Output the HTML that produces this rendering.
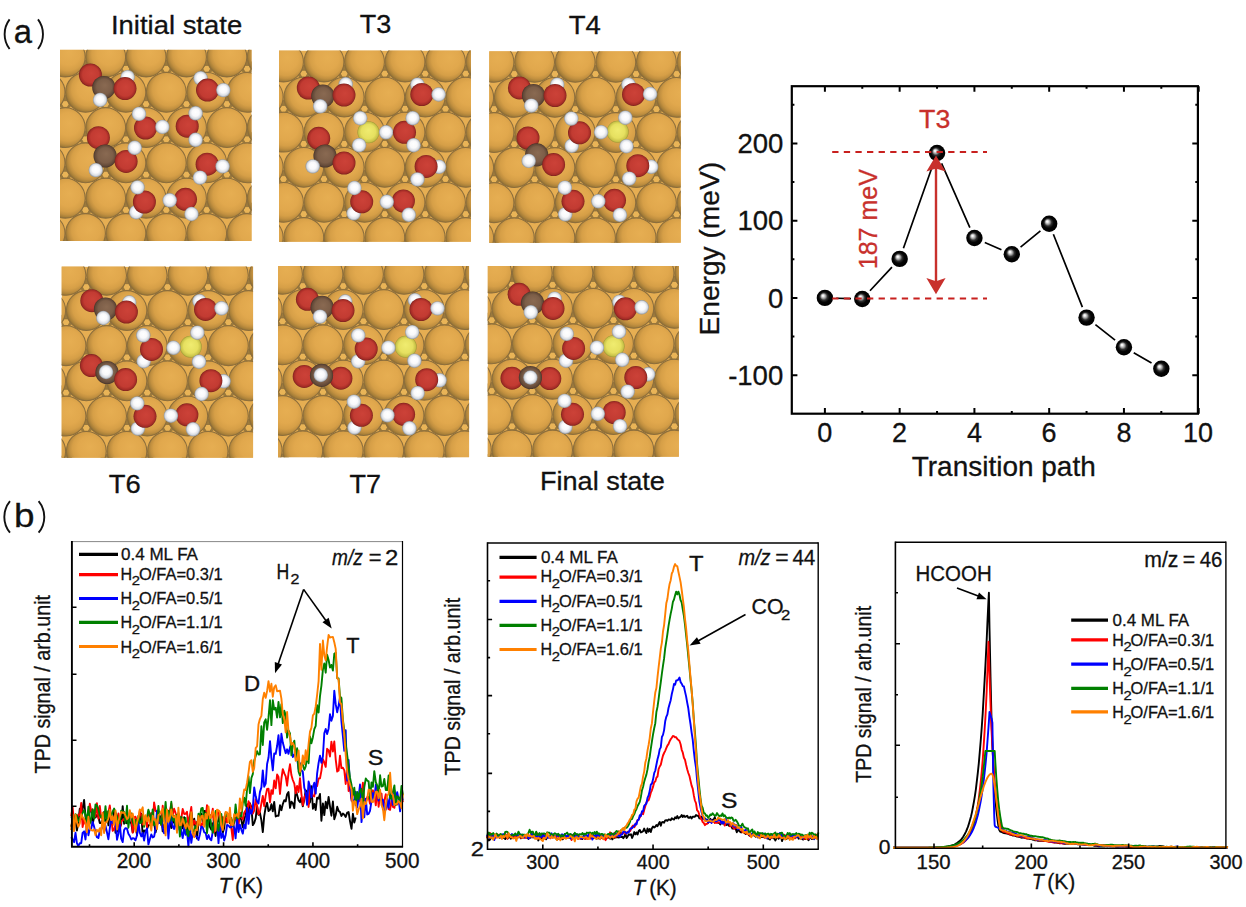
<!DOCTYPE html><html><head><meta charset="utf-8"><style>html,body{margin:0;padding:0;background:#fff;overflow:hidden}svg{display:block}text{font-family:"Liberation Sans",sans-serif}</style></head><body>
<svg width="1246" height="907" viewBox="0 0 1246 907">
<defs>
<radialGradient id="gAu" cx="0.56" cy="0.44" r="0.58" fx="0.6" fy="0.38"><stop offset="0" stop-color="#E6AE52"/><stop offset="0.5" stop-color="#E1A84D"/><stop offset="0.72" stop-color="#D69F47"/><stop offset="0.84" stop-color="#C29040"/><stop offset="0.93" stop-color="#A88039"/><stop offset="1" stop-color="#8E6C33"/></radialGradient>
<radialGradient id="gO" cx="0.5" cy="0.5" r="0.5" fx="0.55" fy="0.42"><stop offset="0" stop-color="#CC4238"/><stop offset="0.7" stop-color="#C23B32"/><stop offset="0.9" stop-color="#A52C26"/><stop offset="1" stop-color="#7A221E"/></radialGradient>
<radialGradient id="gC" cx="0.5" cy="0.5" r="0.5" fx="0.55" fy="0.4"><stop offset="0" stop-color="#8A6A52"/><stop offset="0.65" stop-color="#7C5E48"/><stop offset="0.9" stop-color="#614837"/><stop offset="1" stop-color="#45332A"/></radialGradient>
<radialGradient id="gH" cx="0.5" cy="0.5" r="0.5" fx="0.5" fy="0.4"><stop offset="0" stop-color="#FFFFFF"/><stop offset="0.5" stop-color="#F9F9FB"/><stop offset="0.8" stop-color="#D8DCE2"/><stop offset="1" stop-color="#8E949C"/></radialGradient>
<radialGradient id="gY" cx="0.5" cy="0.5" r="0.5" fx="0.5" fy="0.4"><stop offset="0" stop-color="#F0EC70"/><stop offset="0.65" stop-color="#E6E060"/><stop offset="0.9" stop-color="#C8C248"/><stop offset="1" stop-color="#9C9634"/></radialGradient>
<radialGradient id="gBall" cx="0.5" cy="0.5" r="0.5" fx="0.37" fy="0.35"><stop offset="0" stop-color="#FFFFFF"/><stop offset="0.1" stop-color="#F4F4F4"/><stop offset="0.28" stop-color="#A0A0A0"/><stop offset="0.45" stop-color="#303030"/><stop offset="0.65" stop-color="#050505"/><stop offset="1" stop-color="#000"/></radialGradient>
</defs>
<clipPath id="clip_init"><rect x="60" y="49.8" width="191.6" height="191.2"/></clipPath>
<g clip-path="url(#clip_init)">
<rect x="60" y="49.8" width="191.6" height="191.2" fill="#E6AE52"/>
<circle cx="85.5" cy="66.8" r="7" fill="#9C7A3C"/>
<circle cx="125.9" cy="66.8" r="7" fill="#9C7A3C"/>
<circle cx="166.3" cy="66.8" r="7" fill="#9C7A3C"/>
<circle cx="206.7" cy="66.8" r="7" fill="#9C7A3C"/>
<circle cx="247.1" cy="66.8" r="7" fill="#9C7A3C"/>
<circle cx="65.3" cy="102.1" r="7" fill="#9C7A3C"/>
<circle cx="105.7" cy="102.1" r="7" fill="#9C7A3C"/>
<circle cx="146.1" cy="102.1" r="7" fill="#9C7A3C"/>
<circle cx="186.5" cy="102.1" r="7" fill="#9C7A3C"/>
<circle cx="226.9" cy="102.1" r="7" fill="#9C7A3C"/>
<circle cx="85.5" cy="137.4" r="7" fill="#9C7A3C"/>
<circle cx="125.9" cy="137.4" r="7" fill="#9C7A3C"/>
<circle cx="166.3" cy="137.4" r="7" fill="#9C7A3C"/>
<circle cx="206.7" cy="137.4" r="7" fill="#9C7A3C"/>
<circle cx="247.1" cy="137.4" r="7" fill="#9C7A3C"/>
<circle cx="65.3" cy="172.7" r="7" fill="#9C7A3C"/>
<circle cx="105.7" cy="172.7" r="7" fill="#9C7A3C"/>
<circle cx="146.1" cy="172.7" r="7" fill="#9C7A3C"/>
<circle cx="186.5" cy="172.7" r="7" fill="#9C7A3C"/>
<circle cx="226.9" cy="172.7" r="7" fill="#9C7A3C"/>
<circle cx="85.5" cy="208.0" r="7" fill="#9C7A3C"/>
<circle cx="125.9" cy="208.0" r="7" fill="#9C7A3C"/>
<circle cx="166.3" cy="208.0" r="7" fill="#9C7A3C"/>
<circle cx="206.7" cy="208.0" r="7" fill="#9C7A3C"/>
<circle cx="247.1" cy="208.0" r="7" fill="#9C7A3C"/>
<circle cx="65.3" cy="243.3" r="7" fill="#9C7A3C"/>
<circle cx="105.7" cy="243.3" r="7" fill="#9C7A3C"/>
<circle cx="146.1" cy="243.3" r="7" fill="#9C7A3C"/>
<circle cx="186.5" cy="243.3" r="7" fill="#9C7A3C"/>
<circle cx="226.9" cy="243.3" r="7" fill="#9C7A3C"/>
<polygon points="89.4,68.8 87.5,72.1 83.5,72.1 81.6,68.8 83.5,65.4 87.5,65.4" fill="#E9B457" stroke="#8A6B36" stroke-width="0.7"/>
<polygon points="129.8,68.8 127.9,72.1 124.0,72.1 122.0,68.8 124.0,65.4 127.9,65.4" fill="#E9B457" stroke="#8A6B36" stroke-width="0.7"/>
<polygon points="170.2,68.8 168.2,72.1 164.4,72.1 162.4,68.8 164.4,65.4 168.2,65.4" fill="#E9B457" stroke="#8A6B36" stroke-width="0.7"/>
<polygon points="210.6,68.8 208.6,72.1 204.8,72.1 202.8,68.8 204.8,65.4 208.6,65.4" fill="#E9B457" stroke="#8A6B36" stroke-width="0.7"/>
<polygon points="251.0,68.8 249.0,72.1 245.2,72.1 243.2,68.8 245.2,65.4 249.0,65.4" fill="#E9B457" stroke="#8A6B36" stroke-width="0.7"/>
<polygon points="69.2,104.1 67.2,107.4 63.4,107.4 61.4,104.1 63.3,100.7 67.2,100.7" fill="#E9B457" stroke="#8A6B36" stroke-width="0.7"/>
<polygon points="109.6,104.1 107.6,107.4 103.7,107.4 101.8,104.1 103.7,100.7 107.6,100.7" fill="#E9B457" stroke="#8A6B36" stroke-width="0.7"/>
<polygon points="150.0,104.1 148.0,107.4 144.2,107.4 142.2,104.1 144.2,100.7 148.0,100.7" fill="#E9B457" stroke="#8A6B36" stroke-width="0.7"/>
<polygon points="190.4,104.1 188.4,107.4 184.6,107.4 182.6,104.1 184.6,100.7 188.4,100.7" fill="#E9B457" stroke="#8A6B36" stroke-width="0.7"/>
<polygon points="230.8,104.1 228.8,107.4 224.9,107.4 223.0,104.1 224.9,100.7 228.8,100.7" fill="#E9B457" stroke="#8A6B36" stroke-width="0.7"/>
<polygon points="89.4,139.4 87.5,142.7 83.5,142.7 81.6,139.4 83.5,136.0 87.5,136.0" fill="#E9B457" stroke="#8A6B36" stroke-width="0.7"/>
<polygon points="129.8,139.4 127.9,142.7 124.0,142.7 122.0,139.4 124.0,136.0 127.9,136.0" fill="#E9B457" stroke="#8A6B36" stroke-width="0.7"/>
<polygon points="170.2,139.4 168.2,142.7 164.4,142.7 162.4,139.4 164.4,136.0 168.2,136.0" fill="#E9B457" stroke="#8A6B36" stroke-width="0.7"/>
<polygon points="210.6,139.4 208.6,142.7 204.8,142.7 202.8,139.4 204.8,136.0 208.6,136.0" fill="#E9B457" stroke="#8A6B36" stroke-width="0.7"/>
<polygon points="251.0,139.4 249.0,142.7 245.2,142.7 243.2,139.4 245.2,136.0 249.0,136.0" fill="#E9B457" stroke="#8A6B36" stroke-width="0.7"/>
<polygon points="69.2,174.7 67.2,178.0 63.4,178.0 61.4,174.7 63.3,171.3 67.2,171.3" fill="#E9B457" stroke="#8A6B36" stroke-width="0.7"/>
<polygon points="109.6,174.7 107.6,178.0 103.7,178.0 101.8,174.7 103.7,171.3 107.6,171.3" fill="#E9B457" stroke="#8A6B36" stroke-width="0.7"/>
<polygon points="150.0,174.7 148.0,178.0 144.2,178.0 142.2,174.7 144.2,171.3 148.0,171.3" fill="#E9B457" stroke="#8A6B36" stroke-width="0.7"/>
<polygon points="190.4,174.7 188.4,178.0 184.6,178.0 182.6,174.7 184.6,171.3 188.4,171.3" fill="#E9B457" stroke="#8A6B36" stroke-width="0.7"/>
<polygon points="230.8,174.7 228.8,178.0 224.9,178.0 223.0,174.7 224.9,171.3 228.8,171.3" fill="#E9B457" stroke="#8A6B36" stroke-width="0.7"/>
<polygon points="89.4,210.0 87.5,213.3 83.5,213.3 81.6,210.0 83.5,206.6 87.5,206.6" fill="#E9B457" stroke="#8A6B36" stroke-width="0.7"/>
<polygon points="129.8,210.0 127.9,213.3 124.0,213.3 122.0,210.0 124.0,206.6 127.9,206.6" fill="#E9B457" stroke="#8A6B36" stroke-width="0.7"/>
<polygon points="170.2,210.0 168.2,213.3 164.4,213.3 162.4,210.0 164.4,206.6 168.2,206.6" fill="#E9B457" stroke="#8A6B36" stroke-width="0.7"/>
<polygon points="210.6,210.0 208.6,213.3 204.8,213.3 202.8,210.0 204.8,206.6 208.6,206.6" fill="#E9B457" stroke="#8A6B36" stroke-width="0.7"/>
<polygon points="251.0,210.0 249.0,213.3 245.2,213.3 243.2,210.0 245.2,206.6 249.0,206.6" fill="#E9B457" stroke="#8A6B36" stroke-width="0.7"/>
<polygon points="69.2,245.3 67.2,248.6 63.4,248.6 61.4,245.3 63.3,241.9 67.2,241.9" fill="#E9B457" stroke="#8A6B36" stroke-width="0.7"/>
<polygon points="109.6,245.3 107.6,248.6 103.7,248.6 101.8,245.3 103.7,241.9 107.6,241.9" fill="#E9B457" stroke="#8A6B36" stroke-width="0.7"/>
<polygon points="150.0,245.3 148.0,248.6 144.2,248.6 142.2,245.3 144.2,241.9 148.0,241.9" fill="#E9B457" stroke="#8A6B36" stroke-width="0.7"/>
<polygon points="190.4,245.3 188.4,248.6 184.6,248.6 182.6,245.3 184.6,241.9 188.4,241.9" fill="#E9B457" stroke="#8A6B36" stroke-width="0.7"/>
<polygon points="230.8,245.3 228.8,248.6 224.9,248.6 223.0,245.3 224.9,241.9 228.8,241.9" fill="#E9B457" stroke="#8A6B36" stroke-width="0.7"/>
<circle cx="65.3" cy="57.0" r="19.9" fill="url(#gAu)" stroke="#8C6E3C" stroke-width="1.05"/>
<circle cx="105.7" cy="57.0" r="19.9" fill="url(#gAu)" stroke="#8C6E3C" stroke-width="1.05"/>
<circle cx="146.1" cy="57.0" r="19.9" fill="url(#gAu)" stroke="#8C6E3C" stroke-width="1.05"/>
<circle cx="186.5" cy="57.0" r="19.9" fill="url(#gAu)" stroke="#8C6E3C" stroke-width="1.05"/>
<circle cx="226.9" cy="57.0" r="19.9" fill="url(#gAu)" stroke="#8C6E3C" stroke-width="1.05"/>
<circle cx="267.3" cy="57.0" r="19.9" fill="url(#gAu)" stroke="#8C6E3C" stroke-width="1.05"/>
<circle cx="45.1" cy="92.3" r="19.9" fill="url(#gAu)" stroke="#8C6E3C" stroke-width="1.05"/>
<circle cx="85.5" cy="92.3" r="19.9" fill="url(#gAu)" stroke="#8C6E3C" stroke-width="1.05"/>
<circle cx="125.9" cy="92.3" r="19.9" fill="url(#gAu)" stroke="#8C6E3C" stroke-width="1.05"/>
<circle cx="166.3" cy="92.3" r="19.9" fill="url(#gAu)" stroke="#8C6E3C" stroke-width="1.05"/>
<circle cx="206.7" cy="92.3" r="19.9" fill="url(#gAu)" stroke="#8C6E3C" stroke-width="1.05"/>
<circle cx="247.1" cy="92.3" r="19.9" fill="url(#gAu)" stroke="#8C6E3C" stroke-width="1.05"/>
<circle cx="65.3" cy="127.6" r="19.9" fill="url(#gAu)" stroke="#8C6E3C" stroke-width="1.05"/>
<circle cx="105.7" cy="127.6" r="19.9" fill="url(#gAu)" stroke="#8C6E3C" stroke-width="1.05"/>
<circle cx="146.1" cy="127.6" r="19.9" fill="url(#gAu)" stroke="#8C6E3C" stroke-width="1.05"/>
<circle cx="186.5" cy="127.6" r="19.9" fill="url(#gAu)" stroke="#8C6E3C" stroke-width="1.05"/>
<circle cx="226.9" cy="127.6" r="19.9" fill="url(#gAu)" stroke="#8C6E3C" stroke-width="1.05"/>
<circle cx="267.3" cy="127.6" r="19.9" fill="url(#gAu)" stroke="#8C6E3C" stroke-width="1.05"/>
<circle cx="45.1" cy="162.9" r="19.9" fill="url(#gAu)" stroke="#8C6E3C" stroke-width="1.05"/>
<circle cx="85.5" cy="162.9" r="19.9" fill="url(#gAu)" stroke="#8C6E3C" stroke-width="1.05"/>
<circle cx="125.9" cy="162.9" r="19.9" fill="url(#gAu)" stroke="#8C6E3C" stroke-width="1.05"/>
<circle cx="166.3" cy="162.9" r="19.9" fill="url(#gAu)" stroke="#8C6E3C" stroke-width="1.05"/>
<circle cx="206.7" cy="162.9" r="19.9" fill="url(#gAu)" stroke="#8C6E3C" stroke-width="1.05"/>
<circle cx="247.1" cy="162.9" r="19.9" fill="url(#gAu)" stroke="#8C6E3C" stroke-width="1.05"/>
<circle cx="65.3" cy="198.2" r="19.9" fill="url(#gAu)" stroke="#8C6E3C" stroke-width="1.05"/>
<circle cx="105.7" cy="198.2" r="19.9" fill="url(#gAu)" stroke="#8C6E3C" stroke-width="1.05"/>
<circle cx="146.1" cy="198.2" r="19.9" fill="url(#gAu)" stroke="#8C6E3C" stroke-width="1.05"/>
<circle cx="186.5" cy="198.2" r="19.9" fill="url(#gAu)" stroke="#8C6E3C" stroke-width="1.05"/>
<circle cx="226.9" cy="198.2" r="19.9" fill="url(#gAu)" stroke="#8C6E3C" stroke-width="1.05"/>
<circle cx="267.3" cy="198.2" r="19.9" fill="url(#gAu)" stroke="#8C6E3C" stroke-width="1.05"/>
<circle cx="45.1" cy="233.5" r="19.9" fill="url(#gAu)" stroke="#8C6E3C" stroke-width="1.05"/>
<circle cx="85.5" cy="233.5" r="19.9" fill="url(#gAu)" stroke="#8C6E3C" stroke-width="1.05"/>
<circle cx="125.9" cy="233.5" r="19.9" fill="url(#gAu)" stroke="#8C6E3C" stroke-width="1.05"/>
<circle cx="166.3" cy="233.5" r="19.9" fill="url(#gAu)" stroke="#8C6E3C" stroke-width="1.05"/>
<circle cx="206.7" cy="233.5" r="19.9" fill="url(#gAu)" stroke="#8C6E3C" stroke-width="1.05"/>
<circle cx="247.1" cy="233.5" r="19.9" fill="url(#gAu)" stroke="#8C6E3C" stroke-width="1.05"/>
<circle cx="127.6" cy="77.2" r="7.2" fill="url(#gH)"/>
<circle cx="90.4" cy="75.0" r="11.5" fill="url(#gO)"/>
<circle cx="103.8" cy="87.5" r="11.6" fill="url(#gC)"/>
<circle cx="125.0" cy="88.6" r="11.5" fill="url(#gO)"/>
<circle cx="100.1" cy="99.9" r="7.2" fill="url(#gH)"/>
<circle cx="200.6" cy="78.3" r="7.2" fill="url(#gH)"/>
<circle cx="207.5" cy="90.1" r="11.5" fill="url(#gO)"/>
<circle cx="223.3" cy="90.1" r="7.2" fill="url(#gH)"/>
<circle cx="145.5" cy="128.0" r="11.5" fill="url(#gO)"/>
<circle cx="139.0" cy="113.9" r="7.2" fill="url(#gH)"/>
<circle cx="162.4" cy="126.9" r="7.2" fill="url(#gH)"/>
<circle cx="187.2" cy="126.2" r="11.5" fill="url(#gO)"/>
<circle cx="195.6" cy="113.3" r="7.2" fill="url(#gH)"/>
<circle cx="195.6" cy="139.8" r="7.2" fill="url(#gH)"/>
<circle cx="98.4" cy="137.7" r="11.5" fill="url(#gO)"/>
<circle cx="105.1" cy="156.0" r="11.6" fill="url(#gC)"/>
<circle cx="126.1" cy="161.4" r="11.5" fill="url(#gO)"/>
<circle cx="95.8" cy="170.1" r="7.2" fill="url(#gH)"/>
<circle cx="134.7" cy="147.8" r="7.2" fill="url(#gH)"/>
<circle cx="207.1" cy="164.2" r="11.5" fill="url(#gO)"/>
<circle cx="222.6" cy="166.4" r="7.2" fill="url(#gH)"/>
<circle cx="200.0" cy="177.6" r="7.2" fill="url(#gH)"/>
<circle cx="136.2" cy="212.2" r="7.2" fill="url(#gH)"/>
<circle cx="144.4" cy="202.0" r="11.5" fill="url(#gO)"/>
<circle cx="137.5" cy="187.4" r="7.2" fill="url(#gH)"/>
<circle cx="185.5" cy="199.3" r="11.5" fill="url(#gO)"/>
<circle cx="169.7" cy="200.3" r="7.2" fill="url(#gH)"/>
<circle cx="191.5" cy="214.0" r="7.2" fill="url(#gH)"/>
</g>
<clipPath id="clip_t3"><rect x="279.0" y="50.5" width="192.0" height="191.3"/></clipPath>
<g clip-path="url(#clip_t3)">
<rect x="279.0" y="50.5" width="192.0" height="191.3" fill="#E6AE52"/>
<circle cx="303.8" cy="71.7" r="7" fill="#9C7A3C"/>
<circle cx="344.2" cy="71.7" r="7" fill="#9C7A3C"/>
<circle cx="384.8" cy="71.7" r="7" fill="#9C7A3C"/>
<circle cx="425.2" cy="71.7" r="7" fill="#9C7A3C"/>
<circle cx="465.8" cy="71.7" r="7" fill="#9C7A3C"/>
<circle cx="283.5" cy="106.8" r="7" fill="#9C7A3C"/>
<circle cx="324.0" cy="106.8" r="7" fill="#9C7A3C"/>
<circle cx="364.5" cy="106.8" r="7" fill="#9C7A3C"/>
<circle cx="405.0" cy="106.8" r="7" fill="#9C7A3C"/>
<circle cx="445.5" cy="106.8" r="7" fill="#9C7A3C"/>
<circle cx="303.8" cy="141.9" r="7" fill="#9C7A3C"/>
<circle cx="344.2" cy="141.9" r="7" fill="#9C7A3C"/>
<circle cx="384.8" cy="141.9" r="7" fill="#9C7A3C"/>
<circle cx="425.2" cy="141.9" r="7" fill="#9C7A3C"/>
<circle cx="465.8" cy="141.9" r="7" fill="#9C7A3C"/>
<circle cx="283.5" cy="177.0" r="7" fill="#9C7A3C"/>
<circle cx="324.0" cy="177.0" r="7" fill="#9C7A3C"/>
<circle cx="364.5" cy="177.0" r="7" fill="#9C7A3C"/>
<circle cx="405.0" cy="177.0" r="7" fill="#9C7A3C"/>
<circle cx="445.5" cy="177.0" r="7" fill="#9C7A3C"/>
<circle cx="303.8" cy="212.1" r="7" fill="#9C7A3C"/>
<circle cx="344.2" cy="212.1" r="7" fill="#9C7A3C"/>
<circle cx="384.8" cy="212.1" r="7" fill="#9C7A3C"/>
<circle cx="425.2" cy="212.1" r="7" fill="#9C7A3C"/>
<circle cx="465.8" cy="212.1" r="7" fill="#9C7A3C"/>
<circle cx="283.5" cy="247.2" r="7" fill="#9C7A3C"/>
<circle cx="324.0" cy="247.2" r="7" fill="#9C7A3C"/>
<circle cx="364.5" cy="247.2" r="7" fill="#9C7A3C"/>
<circle cx="405.0" cy="247.2" r="7" fill="#9C7A3C"/>
<circle cx="445.5" cy="247.2" r="7" fill="#9C7A3C"/>
<polygon points="307.6,73.7 305.7,77.1 301.8,77.1 299.9,73.7 301.8,70.3 305.7,70.3" fill="#E9B457" stroke="#8A6B36" stroke-width="0.7"/>
<polygon points="348.1,73.7 346.2,77.1 342.3,77.1 340.4,73.7 342.3,70.3 346.2,70.3" fill="#E9B457" stroke="#8A6B36" stroke-width="0.7"/>
<polygon points="388.6,73.7 386.7,77.1 382.8,77.1 380.9,73.7 382.8,70.3 386.7,70.3" fill="#E9B457" stroke="#8A6B36" stroke-width="0.7"/>
<polygon points="429.1,73.7 427.2,77.1 423.3,77.1 421.4,73.7 423.3,70.3 427.2,70.3" fill="#E9B457" stroke="#8A6B36" stroke-width="0.7"/>
<polygon points="469.6,73.7 467.7,77.1 463.8,77.1 461.9,73.7 463.8,70.3 467.7,70.3" fill="#E9B457" stroke="#8A6B36" stroke-width="0.7"/>
<polygon points="287.4,108.8 285.4,112.2 281.6,112.2 279.6,108.8 281.6,105.4 285.4,105.4" fill="#E9B457" stroke="#8A6B36" stroke-width="0.7"/>
<polygon points="327.9,108.8 325.9,112.2 322.1,112.2 320.1,108.8 322.1,105.4 325.9,105.4" fill="#E9B457" stroke="#8A6B36" stroke-width="0.7"/>
<polygon points="368.4,108.8 366.4,112.2 362.6,112.2 360.6,108.8 362.6,105.4 366.4,105.4" fill="#E9B457" stroke="#8A6B36" stroke-width="0.7"/>
<polygon points="408.9,108.8 406.9,112.2 403.1,112.2 401.1,108.8 403.1,105.4 406.9,105.4" fill="#E9B457" stroke="#8A6B36" stroke-width="0.7"/>
<polygon points="449.4,108.8 447.4,112.2 443.6,112.2 441.6,108.8 443.6,105.4 447.4,105.4" fill="#E9B457" stroke="#8A6B36" stroke-width="0.7"/>
<polygon points="307.6,143.9 305.7,147.3 301.8,147.3 299.9,143.9 301.8,140.5 305.7,140.5" fill="#E9B457" stroke="#8A6B36" stroke-width="0.7"/>
<polygon points="348.1,143.9 346.2,147.3 342.3,147.3 340.4,143.9 342.3,140.5 346.2,140.5" fill="#E9B457" stroke="#8A6B36" stroke-width="0.7"/>
<polygon points="388.6,143.9 386.7,147.3 382.8,147.3 380.9,143.9 382.8,140.5 386.7,140.5" fill="#E9B457" stroke="#8A6B36" stroke-width="0.7"/>
<polygon points="429.1,143.9 427.2,147.3 423.3,147.3 421.4,143.9 423.3,140.5 427.2,140.5" fill="#E9B457" stroke="#8A6B36" stroke-width="0.7"/>
<polygon points="469.6,143.9 467.7,147.3 463.8,147.3 461.9,143.9 463.8,140.5 467.7,140.5" fill="#E9B457" stroke="#8A6B36" stroke-width="0.7"/>
<polygon points="287.4,179.0 285.4,182.4 281.6,182.4 279.6,179.0 281.6,175.6 285.4,175.6" fill="#E9B457" stroke="#8A6B36" stroke-width="0.7"/>
<polygon points="327.9,179.0 325.9,182.4 322.1,182.4 320.1,179.0 322.1,175.6 325.9,175.6" fill="#E9B457" stroke="#8A6B36" stroke-width="0.7"/>
<polygon points="368.4,179.0 366.4,182.4 362.6,182.4 360.6,179.0 362.6,175.6 366.4,175.6" fill="#E9B457" stroke="#8A6B36" stroke-width="0.7"/>
<polygon points="408.9,179.0 406.9,182.4 403.1,182.4 401.1,179.0 403.1,175.6 406.9,175.6" fill="#E9B457" stroke="#8A6B36" stroke-width="0.7"/>
<polygon points="449.4,179.0 447.4,182.4 443.6,182.4 441.6,179.0 443.6,175.6 447.4,175.6" fill="#E9B457" stroke="#8A6B36" stroke-width="0.7"/>
<polygon points="307.6,214.1 305.7,217.5 301.8,217.5 299.9,214.1 301.8,210.7 305.7,210.7" fill="#E9B457" stroke="#8A6B36" stroke-width="0.7"/>
<polygon points="348.1,214.1 346.2,217.5 342.3,217.5 340.4,214.1 342.3,210.7 346.2,210.7" fill="#E9B457" stroke="#8A6B36" stroke-width="0.7"/>
<polygon points="388.6,214.1 386.7,217.5 382.8,217.5 380.9,214.1 382.8,210.7 386.7,210.7" fill="#E9B457" stroke="#8A6B36" stroke-width="0.7"/>
<polygon points="429.1,214.1 427.2,217.5 423.3,217.5 421.4,214.1 423.3,210.7 427.2,210.7" fill="#E9B457" stroke="#8A6B36" stroke-width="0.7"/>
<polygon points="469.6,214.1 467.7,217.5 463.8,217.5 461.9,214.1 463.8,210.7 467.7,210.7" fill="#E9B457" stroke="#8A6B36" stroke-width="0.7"/>
<polygon points="287.4,249.2 285.4,252.6 281.6,252.6 279.6,249.2 281.6,245.8 285.4,245.8" fill="#E9B457" stroke="#8A6B36" stroke-width="0.7"/>
<polygon points="327.9,249.2 325.9,252.6 322.1,252.6 320.1,249.2 322.1,245.8 325.9,245.8" fill="#E9B457" stroke="#8A6B36" stroke-width="0.7"/>
<polygon points="368.4,249.2 366.4,252.6 362.6,252.6 360.6,249.2 362.6,245.8 366.4,245.8" fill="#E9B457" stroke="#8A6B36" stroke-width="0.7"/>
<polygon points="408.9,249.2 406.9,252.6 403.1,252.6 401.1,249.2 403.1,245.8 406.9,245.8" fill="#E9B457" stroke="#8A6B36" stroke-width="0.7"/>
<polygon points="449.4,249.2 447.4,252.6 443.6,252.6 441.6,249.2 443.6,245.8 447.4,245.8" fill="#E9B457" stroke="#8A6B36" stroke-width="0.7"/>
<circle cx="263.2" cy="26.9" r="19.9" fill="url(#gAu)" stroke="#8C6E3C" stroke-width="1.05"/>
<circle cx="303.8" cy="26.9" r="19.9" fill="url(#gAu)" stroke="#8C6E3C" stroke-width="1.05"/>
<circle cx="344.2" cy="26.9" r="19.9" fill="url(#gAu)" stroke="#8C6E3C" stroke-width="1.05"/>
<circle cx="384.8" cy="26.9" r="19.9" fill="url(#gAu)" stroke="#8C6E3C" stroke-width="1.05"/>
<circle cx="425.2" cy="26.9" r="19.9" fill="url(#gAu)" stroke="#8C6E3C" stroke-width="1.05"/>
<circle cx="465.8" cy="26.9" r="19.9" fill="url(#gAu)" stroke="#8C6E3C" stroke-width="1.05"/>
<circle cx="283.5" cy="62.0" r="19.9" fill="url(#gAu)" stroke="#8C6E3C" stroke-width="1.05"/>
<circle cx="324.0" cy="62.0" r="19.9" fill="url(#gAu)" stroke="#8C6E3C" stroke-width="1.05"/>
<circle cx="364.5" cy="62.0" r="19.9" fill="url(#gAu)" stroke="#8C6E3C" stroke-width="1.05"/>
<circle cx="405.0" cy="62.0" r="19.9" fill="url(#gAu)" stroke="#8C6E3C" stroke-width="1.05"/>
<circle cx="445.5" cy="62.0" r="19.9" fill="url(#gAu)" stroke="#8C6E3C" stroke-width="1.05"/>
<circle cx="486.0" cy="62.0" r="19.9" fill="url(#gAu)" stroke="#8C6E3C" stroke-width="1.05"/>
<circle cx="263.2" cy="97.1" r="19.9" fill="url(#gAu)" stroke="#8C6E3C" stroke-width="1.05"/>
<circle cx="303.8" cy="97.1" r="19.9" fill="url(#gAu)" stroke="#8C6E3C" stroke-width="1.05"/>
<circle cx="344.2" cy="97.1" r="19.9" fill="url(#gAu)" stroke="#8C6E3C" stroke-width="1.05"/>
<circle cx="384.8" cy="97.1" r="19.9" fill="url(#gAu)" stroke="#8C6E3C" stroke-width="1.05"/>
<circle cx="425.2" cy="97.1" r="19.9" fill="url(#gAu)" stroke="#8C6E3C" stroke-width="1.05"/>
<circle cx="465.8" cy="97.1" r="19.9" fill="url(#gAu)" stroke="#8C6E3C" stroke-width="1.05"/>
<circle cx="283.5" cy="132.2" r="19.9" fill="url(#gAu)" stroke="#8C6E3C" stroke-width="1.05"/>
<circle cx="324.0" cy="132.2" r="19.9" fill="url(#gAu)" stroke="#8C6E3C" stroke-width="1.05"/>
<circle cx="364.5" cy="132.2" r="19.9" fill="url(#gAu)" stroke="#8C6E3C" stroke-width="1.05"/>
<circle cx="405.0" cy="132.2" r="19.9" fill="url(#gAu)" stroke="#8C6E3C" stroke-width="1.05"/>
<circle cx="445.5" cy="132.2" r="19.9" fill="url(#gAu)" stroke="#8C6E3C" stroke-width="1.05"/>
<circle cx="486.0" cy="132.2" r="19.9" fill="url(#gAu)" stroke="#8C6E3C" stroke-width="1.05"/>
<circle cx="263.2" cy="167.3" r="19.9" fill="url(#gAu)" stroke="#8C6E3C" stroke-width="1.05"/>
<circle cx="303.8" cy="167.3" r="19.9" fill="url(#gAu)" stroke="#8C6E3C" stroke-width="1.05"/>
<circle cx="344.2" cy="167.3" r="19.9" fill="url(#gAu)" stroke="#8C6E3C" stroke-width="1.05"/>
<circle cx="384.8" cy="167.3" r="19.9" fill="url(#gAu)" stroke="#8C6E3C" stroke-width="1.05"/>
<circle cx="425.2" cy="167.3" r="19.9" fill="url(#gAu)" stroke="#8C6E3C" stroke-width="1.05"/>
<circle cx="465.8" cy="167.3" r="19.9" fill="url(#gAu)" stroke="#8C6E3C" stroke-width="1.05"/>
<circle cx="283.5" cy="202.4" r="19.9" fill="url(#gAu)" stroke="#8C6E3C" stroke-width="1.05"/>
<circle cx="324.0" cy="202.4" r="19.9" fill="url(#gAu)" stroke="#8C6E3C" stroke-width="1.05"/>
<circle cx="364.5" cy="202.4" r="19.9" fill="url(#gAu)" stroke="#8C6E3C" stroke-width="1.05"/>
<circle cx="405.0" cy="202.4" r="19.9" fill="url(#gAu)" stroke="#8C6E3C" stroke-width="1.05"/>
<circle cx="445.5" cy="202.4" r="19.9" fill="url(#gAu)" stroke="#8C6E3C" stroke-width="1.05"/>
<circle cx="486.0" cy="202.4" r="19.9" fill="url(#gAu)" stroke="#8C6E3C" stroke-width="1.05"/>
<circle cx="263.2" cy="237.5" r="19.9" fill="url(#gAu)" stroke="#8C6E3C" stroke-width="1.05"/>
<circle cx="303.8" cy="237.5" r="19.9" fill="url(#gAu)" stroke="#8C6E3C" stroke-width="1.05"/>
<circle cx="344.2" cy="237.5" r="19.9" fill="url(#gAu)" stroke="#8C6E3C" stroke-width="1.05"/>
<circle cx="384.8" cy="237.5" r="19.9" fill="url(#gAu)" stroke="#8C6E3C" stroke-width="1.05"/>
<circle cx="425.2" cy="237.5" r="19.9" fill="url(#gAu)" stroke="#8C6E3C" stroke-width="1.05"/>
<circle cx="465.8" cy="237.5" r="19.9" fill="url(#gAu)" stroke="#8C6E3C" stroke-width="1.05"/>
<circle cx="345.7" cy="84.3" r="7.2" fill="url(#gH)"/>
<circle cx="308.3" cy="88.0" r="11.5" fill="url(#gO)"/>
<circle cx="322.8" cy="96.0" r="11.6" fill="url(#gC)"/>
<circle cx="344.0" cy="95.1" r="11.5" fill="url(#gO)"/>
<circle cx="320.2" cy="106.3" r="7.2" fill="url(#gH)"/>
<circle cx="417.4" cy="84.7" r="7.2" fill="url(#gH)"/>
<circle cx="421.8" cy="94.5" r="11.5" fill="url(#gO)"/>
<circle cx="438.6" cy="94.5" r="7.2" fill="url(#gH)"/>
<circle cx="368.4" cy="132.3" r="11.0" fill="url(#gY)"/>
<circle cx="360.2" cy="118.2" r="7.2" fill="url(#gH)"/>
<circle cx="359.1" cy="145.2" r="7.2" fill="url(#gH)"/>
<circle cx="386.1" cy="132.3" r="7.2" fill="url(#gH)"/>
<circle cx="404.5" cy="132.3" r="11.5" fill="url(#gO)"/>
<circle cx="412.7" cy="118.2" r="7.2" fill="url(#gH)"/>
<circle cx="413.6" cy="145.2" r="7.2" fill="url(#gH)"/>
<circle cx="318.7" cy="138.3" r="11.5" fill="url(#gO)"/>
<circle cx="325.0" cy="156.0" r="11.6" fill="url(#gC)"/>
<circle cx="344.0" cy="163.0" r="11.5" fill="url(#gO)"/>
<circle cx="312.7" cy="166.4" r="7.2" fill="url(#gH)"/>
<circle cx="439.0" cy="166.8" r="7.2" fill="url(#gH)"/>
<circle cx="426.1" cy="166.4" r="11.5" fill="url(#gO)"/>
<circle cx="417.4" cy="179.4" r="7.2" fill="url(#gH)"/>
<circle cx="353.7" cy="213.3" r="7.2" fill="url(#gH)"/>
<circle cx="361.7" cy="201.8" r="11.5" fill="url(#gO)"/>
<circle cx="354.4" cy="188.0" r="7.2" fill="url(#gH)"/>
<circle cx="403.4" cy="201.0" r="11.5" fill="url(#gO)"/>
<circle cx="386.8" cy="201.8" r="7.2" fill="url(#gH)"/>
<circle cx="408.8" cy="214.8" r="7.2" fill="url(#gH)"/>
</g>
<clipPath id="clip_t4"><rect x="489.2" y="51.3" width="191.6" height="191.5"/></clipPath>
<g clip-path="url(#clip_t4)">
<rect x="489.2" y="51.3" width="191.6" height="191.5" fill="#E6AE52"/>
<circle cx="514.3" cy="72.0" r="7" fill="#9C7A3C"/>
<circle cx="554.9" cy="72.0" r="7" fill="#9C7A3C"/>
<circle cx="595.5" cy="72.0" r="7" fill="#9C7A3C"/>
<circle cx="636.1" cy="72.0" r="7" fill="#9C7A3C"/>
<circle cx="676.7" cy="72.0" r="7" fill="#9C7A3C"/>
<circle cx="494.0" cy="107.1" r="7" fill="#9C7A3C"/>
<circle cx="534.6" cy="107.1" r="7" fill="#9C7A3C"/>
<circle cx="575.2" cy="107.1" r="7" fill="#9C7A3C"/>
<circle cx="615.8" cy="107.1" r="7" fill="#9C7A3C"/>
<circle cx="656.4" cy="107.1" r="7" fill="#9C7A3C"/>
<circle cx="514.3" cy="142.2" r="7" fill="#9C7A3C"/>
<circle cx="554.9" cy="142.2" r="7" fill="#9C7A3C"/>
<circle cx="595.5" cy="142.2" r="7" fill="#9C7A3C"/>
<circle cx="636.1" cy="142.2" r="7" fill="#9C7A3C"/>
<circle cx="676.7" cy="142.2" r="7" fill="#9C7A3C"/>
<circle cx="494.0" cy="177.3" r="7" fill="#9C7A3C"/>
<circle cx="534.6" cy="177.3" r="7" fill="#9C7A3C"/>
<circle cx="575.2" cy="177.3" r="7" fill="#9C7A3C"/>
<circle cx="615.8" cy="177.3" r="7" fill="#9C7A3C"/>
<circle cx="656.4" cy="177.3" r="7" fill="#9C7A3C"/>
<circle cx="514.3" cy="212.4" r="7" fill="#9C7A3C"/>
<circle cx="554.9" cy="212.4" r="7" fill="#9C7A3C"/>
<circle cx="595.5" cy="212.4" r="7" fill="#9C7A3C"/>
<circle cx="636.1" cy="212.4" r="7" fill="#9C7A3C"/>
<circle cx="676.7" cy="212.4" r="7" fill="#9C7A3C"/>
<circle cx="494.0" cy="247.5" r="7" fill="#9C7A3C"/>
<circle cx="534.6" cy="247.5" r="7" fill="#9C7A3C"/>
<circle cx="575.2" cy="247.5" r="7" fill="#9C7A3C"/>
<circle cx="615.8" cy="247.5" r="7" fill="#9C7A3C"/>
<circle cx="656.4" cy="247.5" r="7" fill="#9C7A3C"/>
<polygon points="518.2,74.0 516.2,77.4 512.3,77.4 510.4,74.0 512.3,70.6 516.2,70.6" fill="#E9B457" stroke="#8A6B36" stroke-width="0.7"/>
<polygon points="558.8,74.0 556.9,77.4 552.9,77.4 551.0,74.0 552.9,70.6 556.9,70.6" fill="#E9B457" stroke="#8A6B36" stroke-width="0.7"/>
<polygon points="599.4,74.0 597.5,77.4 593.5,77.4 591.6,74.0 593.5,70.6 597.5,70.6" fill="#E9B457" stroke="#8A6B36" stroke-width="0.7"/>
<polygon points="640.0,74.0 638.0,77.4 634.1,77.4 632.2,74.0 634.1,70.6 638.0,70.6" fill="#E9B457" stroke="#8A6B36" stroke-width="0.7"/>
<polygon points="680.6,74.0 678.6,77.4 674.7,77.4 672.8,74.0 674.7,70.6 678.6,70.6" fill="#E9B457" stroke="#8A6B36" stroke-width="0.7"/>
<polygon points="497.9,109.1 495.9,112.5 492.1,112.5 490.1,109.1 492.1,105.7 495.9,105.7" fill="#E9B457" stroke="#8A6B36" stroke-width="0.7"/>
<polygon points="538.5,109.1 536.6,112.5 532.6,112.5 530.7,109.1 532.6,105.7 536.6,105.7" fill="#E9B457" stroke="#8A6B36" stroke-width="0.7"/>
<polygon points="579.1,109.1 577.2,112.5 573.2,112.5 571.3,109.1 573.2,105.7 577.2,105.7" fill="#E9B457" stroke="#8A6B36" stroke-width="0.7"/>
<polygon points="619.7,109.1 617.8,112.5 613.8,112.5 611.9,109.1 613.8,105.7 617.8,105.7" fill="#E9B457" stroke="#8A6B36" stroke-width="0.7"/>
<polygon points="660.3,109.1 658.4,112.5 654.4,112.5 652.5,109.1 654.4,105.7 658.4,105.7" fill="#E9B457" stroke="#8A6B36" stroke-width="0.7"/>
<polygon points="518.2,144.2 516.2,147.6 512.3,147.6 510.4,144.2 512.3,140.8 516.2,140.8" fill="#E9B457" stroke="#8A6B36" stroke-width="0.7"/>
<polygon points="558.8,144.2 556.9,147.6 552.9,147.6 551.0,144.2 552.9,140.8 556.9,140.8" fill="#E9B457" stroke="#8A6B36" stroke-width="0.7"/>
<polygon points="599.4,144.2 597.5,147.6 593.5,147.6 591.6,144.2 593.5,140.8 597.5,140.8" fill="#E9B457" stroke="#8A6B36" stroke-width="0.7"/>
<polygon points="640.0,144.2 638.0,147.6 634.1,147.6 632.2,144.2 634.1,140.8 638.0,140.8" fill="#E9B457" stroke="#8A6B36" stroke-width="0.7"/>
<polygon points="680.6,144.2 678.6,147.6 674.7,147.6 672.8,144.2 674.7,140.8 678.6,140.8" fill="#E9B457" stroke="#8A6B36" stroke-width="0.7"/>
<polygon points="497.9,179.3 495.9,182.7 492.1,182.7 490.1,179.3 492.1,175.9 495.9,175.9" fill="#E9B457" stroke="#8A6B36" stroke-width="0.7"/>
<polygon points="538.5,179.3 536.6,182.7 532.6,182.7 530.7,179.3 532.6,175.9 536.6,175.9" fill="#E9B457" stroke="#8A6B36" stroke-width="0.7"/>
<polygon points="579.1,179.3 577.2,182.7 573.2,182.7 571.3,179.3 573.2,175.9 577.2,175.9" fill="#E9B457" stroke="#8A6B36" stroke-width="0.7"/>
<polygon points="619.7,179.3 617.8,182.7 613.8,182.7 611.9,179.3 613.8,175.9 617.8,175.9" fill="#E9B457" stroke="#8A6B36" stroke-width="0.7"/>
<polygon points="660.3,179.3 658.4,182.7 654.4,182.7 652.5,179.3 654.4,175.9 658.4,175.9" fill="#E9B457" stroke="#8A6B36" stroke-width="0.7"/>
<polygon points="518.2,214.4 516.2,217.8 512.3,217.8 510.4,214.4 512.3,211.0 516.2,211.0" fill="#E9B457" stroke="#8A6B36" stroke-width="0.7"/>
<polygon points="558.8,214.4 556.9,217.8 552.9,217.8 551.0,214.4 552.9,211.0 556.9,211.0" fill="#E9B457" stroke="#8A6B36" stroke-width="0.7"/>
<polygon points="599.4,214.4 597.5,217.8 593.5,217.8 591.6,214.4 593.5,211.0 597.5,211.0" fill="#E9B457" stroke="#8A6B36" stroke-width="0.7"/>
<polygon points="640.0,214.4 638.0,217.8 634.1,217.8 632.2,214.4 634.1,211.0 638.0,211.0" fill="#E9B457" stroke="#8A6B36" stroke-width="0.7"/>
<polygon points="680.6,214.4 678.6,217.8 674.7,217.8 672.8,214.4 674.7,211.0 678.6,211.0" fill="#E9B457" stroke="#8A6B36" stroke-width="0.7"/>
<polygon points="497.9,249.5 495.9,252.9 492.1,252.9 490.1,249.5 492.1,246.1 495.9,246.1" fill="#E9B457" stroke="#8A6B36" stroke-width="0.7"/>
<polygon points="538.5,249.5 536.6,252.9 532.6,252.9 530.7,249.5 532.6,246.1 536.6,246.1" fill="#E9B457" stroke="#8A6B36" stroke-width="0.7"/>
<polygon points="579.1,249.5 577.2,252.9 573.2,252.9 571.3,249.5 573.2,246.1 577.2,246.1" fill="#E9B457" stroke="#8A6B36" stroke-width="0.7"/>
<polygon points="619.7,249.5 617.8,252.9 613.8,252.9 611.9,249.5 613.8,246.1 617.8,246.1" fill="#E9B457" stroke="#8A6B36" stroke-width="0.7"/>
<polygon points="660.3,249.5 658.4,252.9 654.4,252.9 652.5,249.5 654.4,246.1 658.4,246.1" fill="#E9B457" stroke="#8A6B36" stroke-width="0.7"/>
<circle cx="473.7" cy="27.2" r="19.9" fill="url(#gAu)" stroke="#8C6E3C" stroke-width="1.05"/>
<circle cx="514.3" cy="27.2" r="19.9" fill="url(#gAu)" stroke="#8C6E3C" stroke-width="1.05"/>
<circle cx="554.9" cy="27.2" r="19.9" fill="url(#gAu)" stroke="#8C6E3C" stroke-width="1.05"/>
<circle cx="595.5" cy="27.2" r="19.9" fill="url(#gAu)" stroke="#8C6E3C" stroke-width="1.05"/>
<circle cx="636.1" cy="27.2" r="19.9" fill="url(#gAu)" stroke="#8C6E3C" stroke-width="1.05"/>
<circle cx="676.7" cy="27.2" r="19.9" fill="url(#gAu)" stroke="#8C6E3C" stroke-width="1.05"/>
<circle cx="494.0" cy="62.3" r="19.9" fill="url(#gAu)" stroke="#8C6E3C" stroke-width="1.05"/>
<circle cx="534.6" cy="62.3" r="19.9" fill="url(#gAu)" stroke="#8C6E3C" stroke-width="1.05"/>
<circle cx="575.2" cy="62.3" r="19.9" fill="url(#gAu)" stroke="#8C6E3C" stroke-width="1.05"/>
<circle cx="615.8" cy="62.3" r="19.9" fill="url(#gAu)" stroke="#8C6E3C" stroke-width="1.05"/>
<circle cx="656.4" cy="62.3" r="19.9" fill="url(#gAu)" stroke="#8C6E3C" stroke-width="1.05"/>
<circle cx="697.0" cy="62.3" r="19.9" fill="url(#gAu)" stroke="#8C6E3C" stroke-width="1.05"/>
<circle cx="473.7" cy="97.4" r="19.9" fill="url(#gAu)" stroke="#8C6E3C" stroke-width="1.05"/>
<circle cx="514.3" cy="97.4" r="19.9" fill="url(#gAu)" stroke="#8C6E3C" stroke-width="1.05"/>
<circle cx="554.9" cy="97.4" r="19.9" fill="url(#gAu)" stroke="#8C6E3C" stroke-width="1.05"/>
<circle cx="595.5" cy="97.4" r="19.9" fill="url(#gAu)" stroke="#8C6E3C" stroke-width="1.05"/>
<circle cx="636.1" cy="97.4" r="19.9" fill="url(#gAu)" stroke="#8C6E3C" stroke-width="1.05"/>
<circle cx="676.7" cy="97.4" r="19.9" fill="url(#gAu)" stroke="#8C6E3C" stroke-width="1.05"/>
<circle cx="494.0" cy="132.5" r="19.9" fill="url(#gAu)" stroke="#8C6E3C" stroke-width="1.05"/>
<circle cx="534.6" cy="132.5" r="19.9" fill="url(#gAu)" stroke="#8C6E3C" stroke-width="1.05"/>
<circle cx="575.2" cy="132.5" r="19.9" fill="url(#gAu)" stroke="#8C6E3C" stroke-width="1.05"/>
<circle cx="615.8" cy="132.5" r="19.9" fill="url(#gAu)" stroke="#8C6E3C" stroke-width="1.05"/>
<circle cx="656.4" cy="132.5" r="19.9" fill="url(#gAu)" stroke="#8C6E3C" stroke-width="1.05"/>
<circle cx="697.0" cy="132.5" r="19.9" fill="url(#gAu)" stroke="#8C6E3C" stroke-width="1.05"/>
<circle cx="473.7" cy="167.6" r="19.9" fill="url(#gAu)" stroke="#8C6E3C" stroke-width="1.05"/>
<circle cx="514.3" cy="167.6" r="19.9" fill="url(#gAu)" stroke="#8C6E3C" stroke-width="1.05"/>
<circle cx="554.9" cy="167.6" r="19.9" fill="url(#gAu)" stroke="#8C6E3C" stroke-width="1.05"/>
<circle cx="595.5" cy="167.6" r="19.9" fill="url(#gAu)" stroke="#8C6E3C" stroke-width="1.05"/>
<circle cx="636.1" cy="167.6" r="19.9" fill="url(#gAu)" stroke="#8C6E3C" stroke-width="1.05"/>
<circle cx="676.7" cy="167.6" r="19.9" fill="url(#gAu)" stroke="#8C6E3C" stroke-width="1.05"/>
<circle cx="494.0" cy="202.7" r="19.9" fill="url(#gAu)" stroke="#8C6E3C" stroke-width="1.05"/>
<circle cx="534.6" cy="202.7" r="19.9" fill="url(#gAu)" stroke="#8C6E3C" stroke-width="1.05"/>
<circle cx="575.2" cy="202.7" r="19.9" fill="url(#gAu)" stroke="#8C6E3C" stroke-width="1.05"/>
<circle cx="615.8" cy="202.7" r="19.9" fill="url(#gAu)" stroke="#8C6E3C" stroke-width="1.05"/>
<circle cx="656.4" cy="202.7" r="19.9" fill="url(#gAu)" stroke="#8C6E3C" stroke-width="1.05"/>
<circle cx="697.0" cy="202.7" r="19.9" fill="url(#gAu)" stroke="#8C6E3C" stroke-width="1.05"/>
<circle cx="473.7" cy="237.8" r="19.9" fill="url(#gAu)" stroke="#8C6E3C" stroke-width="1.05"/>
<circle cx="514.3" cy="237.8" r="19.9" fill="url(#gAu)" stroke="#8C6E3C" stroke-width="1.05"/>
<circle cx="554.9" cy="237.8" r="19.9" fill="url(#gAu)" stroke="#8C6E3C" stroke-width="1.05"/>
<circle cx="595.5" cy="237.8" r="19.9" fill="url(#gAu)" stroke="#8C6E3C" stroke-width="1.05"/>
<circle cx="636.1" cy="237.8" r="19.9" fill="url(#gAu)" stroke="#8C6E3C" stroke-width="1.05"/>
<circle cx="676.7" cy="237.8" r="19.9" fill="url(#gAu)" stroke="#8C6E3C" stroke-width="1.05"/>
<circle cx="557.2" cy="84.7" r="7.2" fill="url(#gH)"/>
<circle cx="519.4" cy="87.9" r="11.5" fill="url(#gO)"/>
<circle cx="533.5" cy="95.5" r="11.6" fill="url(#gC)"/>
<circle cx="555.0" cy="95.5" r="11.5" fill="url(#gO)"/>
<circle cx="531.3" cy="105.6" r="7.2" fill="url(#gH)"/>
<circle cx="628.5" cy="84.7" r="7.2" fill="url(#gH)"/>
<circle cx="633.5" cy="94.4" r="11.5" fill="url(#gO)"/>
<circle cx="650.1" cy="94.0" r="7.2" fill="url(#gH)"/>
<circle cx="571.7" cy="145.8" r="7.2" fill="url(#gH)"/>
<circle cx="579.5" cy="132.8" r="11.5" fill="url(#gO)"/>
<circle cx="571.3" cy="118.6" r="7.2" fill="url(#gH)"/>
<circle cx="617.7" cy="131.8" r="11.0" fill="url(#gY)"/>
<circle cx="601.1" cy="132.2" r="7.2" fill="url(#gH)"/>
<circle cx="625.3" cy="117.7" r="7.2" fill="url(#gH)"/>
<circle cx="626.4" cy="146.2" r="7.2" fill="url(#gH)"/>
<circle cx="528.0" cy="138.0" r="11.5" fill="url(#gO)"/>
<circle cx="536.7" cy="154.9" r="11.6" fill="url(#gC)"/>
<circle cx="553.6" cy="164.6" r="11.5" fill="url(#gO)"/>
<circle cx="528.7" cy="160.9" r="7.2" fill="url(#gH)"/>
<circle cx="651.2" cy="166.8" r="7.2" fill="url(#gH)"/>
<circle cx="637.8" cy="165.7" r="11.5" fill="url(#gO)"/>
<circle cx="629.2" cy="178.6" r="7.2" fill="url(#gH)"/>
<circle cx="565.2" cy="214.3" r="7.2" fill="url(#gH)"/>
<circle cx="573.0" cy="201.3" r="11.5" fill="url(#gO)"/>
<circle cx="564.8" cy="187.7" r="7.2" fill="url(#gH)"/>
<circle cx="614.5" cy="200.3" r="11.5" fill="url(#gO)"/>
<circle cx="598.3" cy="201.3" r="7.2" fill="url(#gH)"/>
<circle cx="619.9" cy="214.9" r="7.2" fill="url(#gH)"/>
</g>
<clipPath id="clip_t6"><rect x="61.6" y="266.6" width="191.5" height="191.2"/></clipPath>
<g clip-path="url(#clip_t6)">
<rect x="61.6" y="266.6" width="191.5" height="191.2" fill="#E6AE52"/>
<circle cx="86.3" cy="285.0" r="7" fill="#9C7A3C"/>
<circle cx="126.9" cy="285.0" r="7" fill="#9C7A3C"/>
<circle cx="167.5" cy="285.0" r="7" fill="#9C7A3C"/>
<circle cx="208.1" cy="285.0" r="7" fill="#9C7A3C"/>
<circle cx="248.7" cy="285.0" r="7" fill="#9C7A3C"/>
<circle cx="66.0" cy="320.2" r="7" fill="#9C7A3C"/>
<circle cx="106.6" cy="320.2" r="7" fill="#9C7A3C"/>
<circle cx="147.2" cy="320.2" r="7" fill="#9C7A3C"/>
<circle cx="187.8" cy="320.2" r="7" fill="#9C7A3C"/>
<circle cx="228.4" cy="320.2" r="7" fill="#9C7A3C"/>
<circle cx="86.3" cy="355.4" r="7" fill="#9C7A3C"/>
<circle cx="126.9" cy="355.4" r="7" fill="#9C7A3C"/>
<circle cx="167.5" cy="355.4" r="7" fill="#9C7A3C"/>
<circle cx="208.1" cy="355.4" r="7" fill="#9C7A3C"/>
<circle cx="248.7" cy="355.4" r="7" fill="#9C7A3C"/>
<circle cx="66.0" cy="390.6" r="7" fill="#9C7A3C"/>
<circle cx="106.6" cy="390.6" r="7" fill="#9C7A3C"/>
<circle cx="147.2" cy="390.6" r="7" fill="#9C7A3C"/>
<circle cx="187.8" cy="390.6" r="7" fill="#9C7A3C"/>
<circle cx="228.4" cy="390.6" r="7" fill="#9C7A3C"/>
<circle cx="86.3" cy="425.8" r="7" fill="#9C7A3C"/>
<circle cx="126.9" cy="425.8" r="7" fill="#9C7A3C"/>
<circle cx="167.5" cy="425.8" r="7" fill="#9C7A3C"/>
<circle cx="208.1" cy="425.8" r="7" fill="#9C7A3C"/>
<circle cx="248.7" cy="425.8" r="7" fill="#9C7A3C"/>
<circle cx="66.0" cy="461.0" r="7" fill="#9C7A3C"/>
<circle cx="106.6" cy="461.0" r="7" fill="#9C7A3C"/>
<circle cx="147.2" cy="461.0" r="7" fill="#9C7A3C"/>
<circle cx="187.8" cy="461.0" r="7" fill="#9C7A3C"/>
<circle cx="228.4" cy="461.0" r="7" fill="#9C7A3C"/>
<polygon points="90.2,287.0 88.2,290.4 84.3,290.4 82.4,287.0 84.3,283.7 88.2,283.7" fill="#E9B457" stroke="#8A6B36" stroke-width="0.7"/>
<polygon points="130.8,287.0 128.8,290.4 125.0,290.4 123.0,287.0 125.0,283.7 128.8,283.7" fill="#E9B457" stroke="#8A6B36" stroke-width="0.7"/>
<polygon points="171.4,287.0 169.4,290.4 165.6,290.4 163.6,287.0 165.6,283.7 169.4,283.7" fill="#E9B457" stroke="#8A6B36" stroke-width="0.7"/>
<polygon points="212.0,287.0 210.1,290.4 206.2,290.4 204.2,287.0 206.2,283.7 210.1,283.7" fill="#E9B457" stroke="#8A6B36" stroke-width="0.7"/>
<polygon points="252.6,287.0 250.6,290.4 246.8,290.4 244.8,287.0 246.8,283.7 250.6,283.7" fill="#E9B457" stroke="#8A6B36" stroke-width="0.7"/>
<polygon points="69.9,322.2 68.0,325.6 64.0,325.6 62.1,322.2 64.0,318.9 68.0,318.9" fill="#E9B457" stroke="#8A6B36" stroke-width="0.7"/>
<polygon points="110.5,322.2 108.5,325.6 104.6,325.6 102.7,322.2 104.6,318.9 108.5,318.9" fill="#E9B457" stroke="#8A6B36" stroke-width="0.7"/>
<polygon points="151.1,322.2 149.1,325.6 145.2,325.6 143.3,322.2 145.2,318.9 149.1,318.9" fill="#E9B457" stroke="#8A6B36" stroke-width="0.7"/>
<polygon points="191.7,322.2 189.8,325.6 185.9,325.6 183.9,322.2 185.9,318.9 189.8,318.9" fill="#E9B457" stroke="#8A6B36" stroke-width="0.7"/>
<polygon points="232.3,322.2 230.3,325.6 226.5,325.6 224.5,322.2 226.5,318.9 230.3,318.9" fill="#E9B457" stroke="#8A6B36" stroke-width="0.7"/>
<polygon points="90.2,357.4 88.2,360.8 84.3,360.8 82.4,357.4 84.3,354.1 88.2,354.1" fill="#E9B457" stroke="#8A6B36" stroke-width="0.7"/>
<polygon points="130.8,357.4 128.8,360.8 125.0,360.8 123.0,357.4 125.0,354.1 128.8,354.1" fill="#E9B457" stroke="#8A6B36" stroke-width="0.7"/>
<polygon points="171.4,357.4 169.4,360.8 165.6,360.8 163.6,357.4 165.6,354.1 169.4,354.1" fill="#E9B457" stroke="#8A6B36" stroke-width="0.7"/>
<polygon points="212.0,357.4 210.1,360.8 206.2,360.8 204.2,357.4 206.2,354.1 210.1,354.1" fill="#E9B457" stroke="#8A6B36" stroke-width="0.7"/>
<polygon points="252.6,357.4 250.6,360.8 246.8,360.8 244.8,357.4 246.8,354.1 250.6,354.1" fill="#E9B457" stroke="#8A6B36" stroke-width="0.7"/>
<polygon points="69.9,392.6 68.0,396.0 64.0,396.0 62.1,392.6 64.0,389.3 68.0,389.3" fill="#E9B457" stroke="#8A6B36" stroke-width="0.7"/>
<polygon points="110.5,392.6 108.5,396.0 104.6,396.0 102.7,392.6 104.6,389.3 108.5,389.3" fill="#E9B457" stroke="#8A6B36" stroke-width="0.7"/>
<polygon points="151.1,392.6 149.1,396.0 145.2,396.0 143.3,392.6 145.2,389.3 149.1,389.3" fill="#E9B457" stroke="#8A6B36" stroke-width="0.7"/>
<polygon points="191.7,392.6 189.8,396.0 185.9,396.0 183.9,392.6 185.9,389.3 189.8,389.3" fill="#E9B457" stroke="#8A6B36" stroke-width="0.7"/>
<polygon points="232.3,392.6 230.3,396.0 226.5,396.0 224.5,392.6 226.5,389.3 230.3,389.3" fill="#E9B457" stroke="#8A6B36" stroke-width="0.7"/>
<polygon points="90.2,427.8 88.2,431.2 84.3,431.2 82.4,427.8 84.3,424.5 88.2,424.5" fill="#E9B457" stroke="#8A6B36" stroke-width="0.7"/>
<polygon points="130.8,427.8 128.8,431.2 125.0,431.2 123.0,427.8 125.0,424.5 128.8,424.5" fill="#E9B457" stroke="#8A6B36" stroke-width="0.7"/>
<polygon points="171.4,427.8 169.4,431.2 165.6,431.2 163.6,427.8 165.6,424.5 169.4,424.5" fill="#E9B457" stroke="#8A6B36" stroke-width="0.7"/>
<polygon points="212.0,427.8 210.1,431.2 206.2,431.2 204.2,427.8 206.2,424.5 210.1,424.5" fill="#E9B457" stroke="#8A6B36" stroke-width="0.7"/>
<polygon points="252.6,427.8 250.6,431.2 246.8,431.2 244.8,427.8 246.8,424.5 250.6,424.5" fill="#E9B457" stroke="#8A6B36" stroke-width="0.7"/>
<polygon points="69.9,463.0 68.0,466.4 64.0,466.4 62.1,463.0 64.0,459.7 68.0,459.7" fill="#E9B457" stroke="#8A6B36" stroke-width="0.7"/>
<polygon points="110.5,463.0 108.5,466.4 104.6,466.4 102.7,463.0 104.6,459.7 108.5,459.7" fill="#E9B457" stroke="#8A6B36" stroke-width="0.7"/>
<polygon points="151.1,463.0 149.1,466.4 145.2,466.4 143.3,463.0 145.2,459.7 149.1,459.7" fill="#E9B457" stroke="#8A6B36" stroke-width="0.7"/>
<polygon points="191.7,463.0 189.8,466.4 185.9,466.4 183.9,463.0 185.9,459.7 189.8,459.7" fill="#E9B457" stroke="#8A6B36" stroke-width="0.7"/>
<polygon points="232.3,463.0 230.3,466.4 226.5,466.4 224.5,463.0 226.5,459.7 230.3,459.7" fill="#E9B457" stroke="#8A6B36" stroke-width="0.7"/>
<circle cx="66.0" cy="275.3" r="19.9" fill="url(#gAu)" stroke="#8C6E3C" stroke-width="1.05"/>
<circle cx="106.6" cy="275.3" r="19.9" fill="url(#gAu)" stroke="#8C6E3C" stroke-width="1.05"/>
<circle cx="147.2" cy="275.3" r="19.9" fill="url(#gAu)" stroke="#8C6E3C" stroke-width="1.05"/>
<circle cx="187.8" cy="275.3" r="19.9" fill="url(#gAu)" stroke="#8C6E3C" stroke-width="1.05"/>
<circle cx="228.4" cy="275.3" r="19.9" fill="url(#gAu)" stroke="#8C6E3C" stroke-width="1.05"/>
<circle cx="269.0" cy="275.3" r="19.9" fill="url(#gAu)" stroke="#8C6E3C" stroke-width="1.05"/>
<circle cx="45.7" cy="310.5" r="19.9" fill="url(#gAu)" stroke="#8C6E3C" stroke-width="1.05"/>
<circle cx="86.3" cy="310.5" r="19.9" fill="url(#gAu)" stroke="#8C6E3C" stroke-width="1.05"/>
<circle cx="126.9" cy="310.5" r="19.9" fill="url(#gAu)" stroke="#8C6E3C" stroke-width="1.05"/>
<circle cx="167.5" cy="310.5" r="19.9" fill="url(#gAu)" stroke="#8C6E3C" stroke-width="1.05"/>
<circle cx="208.1" cy="310.5" r="19.9" fill="url(#gAu)" stroke="#8C6E3C" stroke-width="1.05"/>
<circle cx="248.7" cy="310.5" r="19.9" fill="url(#gAu)" stroke="#8C6E3C" stroke-width="1.05"/>
<circle cx="66.0" cy="345.7" r="19.9" fill="url(#gAu)" stroke="#8C6E3C" stroke-width="1.05"/>
<circle cx="106.6" cy="345.7" r="19.9" fill="url(#gAu)" stroke="#8C6E3C" stroke-width="1.05"/>
<circle cx="147.2" cy="345.7" r="19.9" fill="url(#gAu)" stroke="#8C6E3C" stroke-width="1.05"/>
<circle cx="187.8" cy="345.7" r="19.9" fill="url(#gAu)" stroke="#8C6E3C" stroke-width="1.05"/>
<circle cx="228.4" cy="345.7" r="19.9" fill="url(#gAu)" stroke="#8C6E3C" stroke-width="1.05"/>
<circle cx="269.0" cy="345.7" r="19.9" fill="url(#gAu)" stroke="#8C6E3C" stroke-width="1.05"/>
<circle cx="45.7" cy="380.9" r="19.9" fill="url(#gAu)" stroke="#8C6E3C" stroke-width="1.05"/>
<circle cx="86.3" cy="380.9" r="19.9" fill="url(#gAu)" stroke="#8C6E3C" stroke-width="1.05"/>
<circle cx="126.9" cy="380.9" r="19.9" fill="url(#gAu)" stroke="#8C6E3C" stroke-width="1.05"/>
<circle cx="167.5" cy="380.9" r="19.9" fill="url(#gAu)" stroke="#8C6E3C" stroke-width="1.05"/>
<circle cx="208.1" cy="380.9" r="19.9" fill="url(#gAu)" stroke="#8C6E3C" stroke-width="1.05"/>
<circle cx="248.7" cy="380.9" r="19.9" fill="url(#gAu)" stroke="#8C6E3C" stroke-width="1.05"/>
<circle cx="66.0" cy="416.1" r="19.9" fill="url(#gAu)" stroke="#8C6E3C" stroke-width="1.05"/>
<circle cx="106.6" cy="416.1" r="19.9" fill="url(#gAu)" stroke="#8C6E3C" stroke-width="1.05"/>
<circle cx="147.2" cy="416.1" r="19.9" fill="url(#gAu)" stroke="#8C6E3C" stroke-width="1.05"/>
<circle cx="187.8" cy="416.1" r="19.9" fill="url(#gAu)" stroke="#8C6E3C" stroke-width="1.05"/>
<circle cx="228.4" cy="416.1" r="19.9" fill="url(#gAu)" stroke="#8C6E3C" stroke-width="1.05"/>
<circle cx="269.0" cy="416.1" r="19.9" fill="url(#gAu)" stroke="#8C6E3C" stroke-width="1.05"/>
<circle cx="45.7" cy="451.3" r="19.9" fill="url(#gAu)" stroke="#8C6E3C" stroke-width="1.05"/>
<circle cx="86.3" cy="451.3" r="19.9" fill="url(#gAu)" stroke="#8C6E3C" stroke-width="1.05"/>
<circle cx="126.9" cy="451.3" r="19.9" fill="url(#gAu)" stroke="#8C6E3C" stroke-width="1.05"/>
<circle cx="167.5" cy="451.3" r="19.9" fill="url(#gAu)" stroke="#8C6E3C" stroke-width="1.05"/>
<circle cx="208.1" cy="451.3" r="19.9" fill="url(#gAu)" stroke="#8C6E3C" stroke-width="1.05"/>
<circle cx="248.7" cy="451.3" r="19.9" fill="url(#gAu)" stroke="#8C6E3C" stroke-width="1.05"/>
<circle cx="129.2" cy="302.5" r="7.2" fill="url(#gH)"/>
<circle cx="91.8" cy="300.7" r="11.5" fill="url(#gO)"/>
<circle cx="105.5" cy="309.0" r="11.6" fill="url(#gC)"/>
<circle cx="126.4" cy="312.0" r="11.5" fill="url(#gO)"/>
<circle cx="103.3" cy="318.0" r="7.2" fill="url(#gH)"/>
<circle cx="199.5" cy="301.2" r="7.2" fill="url(#gH)"/>
<circle cx="205.5" cy="309.4" r="11.5" fill="url(#gO)"/>
<circle cx="221.5" cy="308.3" r="7.2" fill="url(#gH)"/>
<circle cx="143.7" cy="361.2" r="7.2" fill="url(#gH)"/>
<circle cx="151.5" cy="349.4" r="11.5" fill="url(#gO)"/>
<circle cx="143.3" cy="335.3" r="7.2" fill="url(#gH)"/>
<circle cx="190.8" cy="346.8" r="11.0" fill="url(#gY)"/>
<circle cx="173.5" cy="347.8" r="7.2" fill="url(#gH)"/>
<circle cx="197.3" cy="332.7" r="7.2" fill="url(#gH)"/>
<circle cx="199.0" cy="361.7" r="7.2" fill="url(#gH)"/>
<circle cx="91.4" cy="365.6" r="11.5" fill="url(#gO)"/>
<circle cx="107.0" cy="372.5" r="11.6" fill="url(#gC)"/>
<circle cx="125.6" cy="379.6" r="11.5" fill="url(#gO)"/>
<circle cx="106.1" cy="372.0" r="7.2" fill="url(#gH)"/>
<circle cx="223.6" cy="381.3" r="7.2" fill="url(#gH)"/>
<circle cx="210.9" cy="380.7" r="11.5" fill="url(#gO)"/>
<circle cx="201.6" cy="394.0" r="7.2" fill="url(#gH)"/>
<circle cx="137.9" cy="428.6" r="7.2" fill="url(#gH)"/>
<circle cx="145.0" cy="416.3" r="11.5" fill="url(#gO)"/>
<circle cx="137.2" cy="403.4" r="7.2" fill="url(#gH)"/>
<circle cx="186.9" cy="414.8" r="11.5" fill="url(#gO)"/>
<circle cx="170.9" cy="415.7" r="7.2" fill="url(#gH)"/>
<circle cx="193.0" cy="429.3" r="7.2" fill="url(#gH)"/>
</g>
<clipPath id="clip_t7"><rect x="278.0" y="266.0" width="191.1" height="191.2"/></clipPath>
<g clip-path="url(#clip_t7)">
<rect x="278.0" y="266.0" width="191.1" height="191.2" fill="#E6AE52"/>
<circle cx="302.8" cy="284.1" r="7" fill="#9C7A3C"/>
<circle cx="343.2" cy="284.1" r="7" fill="#9C7A3C"/>
<circle cx="383.8" cy="284.1" r="7" fill="#9C7A3C"/>
<circle cx="424.2" cy="284.1" r="7" fill="#9C7A3C"/>
<circle cx="464.8" cy="284.1" r="7" fill="#9C7A3C"/>
<circle cx="282.5" cy="319.4" r="7" fill="#9C7A3C"/>
<circle cx="323.0" cy="319.4" r="7" fill="#9C7A3C"/>
<circle cx="363.5" cy="319.4" r="7" fill="#9C7A3C"/>
<circle cx="404.0" cy="319.4" r="7" fill="#9C7A3C"/>
<circle cx="444.5" cy="319.4" r="7" fill="#9C7A3C"/>
<circle cx="302.8" cy="354.7" r="7" fill="#9C7A3C"/>
<circle cx="343.2" cy="354.7" r="7" fill="#9C7A3C"/>
<circle cx="383.8" cy="354.7" r="7" fill="#9C7A3C"/>
<circle cx="424.2" cy="354.7" r="7" fill="#9C7A3C"/>
<circle cx="464.8" cy="354.7" r="7" fill="#9C7A3C"/>
<circle cx="282.5" cy="390.0" r="7" fill="#9C7A3C"/>
<circle cx="323.0" cy="390.0" r="7" fill="#9C7A3C"/>
<circle cx="363.5" cy="390.0" r="7" fill="#9C7A3C"/>
<circle cx="404.0" cy="390.0" r="7" fill="#9C7A3C"/>
<circle cx="444.5" cy="390.0" r="7" fill="#9C7A3C"/>
<circle cx="302.8" cy="425.3" r="7" fill="#9C7A3C"/>
<circle cx="343.2" cy="425.3" r="7" fill="#9C7A3C"/>
<circle cx="383.8" cy="425.3" r="7" fill="#9C7A3C"/>
<circle cx="424.2" cy="425.3" r="7" fill="#9C7A3C"/>
<circle cx="464.8" cy="425.3" r="7" fill="#9C7A3C"/>
<circle cx="282.5" cy="460.6" r="7" fill="#9C7A3C"/>
<circle cx="323.0" cy="460.6" r="7" fill="#9C7A3C"/>
<circle cx="363.5" cy="460.6" r="7" fill="#9C7A3C"/>
<circle cx="404.0" cy="460.6" r="7" fill="#9C7A3C"/>
<circle cx="444.5" cy="460.6" r="7" fill="#9C7A3C"/>
<polygon points="306.6,286.1 304.7,289.4 300.8,289.4 298.9,286.1 300.8,282.7 304.7,282.7" fill="#E9B457" stroke="#8A6B36" stroke-width="0.7"/>
<polygon points="347.1,286.1 345.2,289.4 341.3,289.4 339.4,286.1 341.3,282.7 345.2,282.7" fill="#E9B457" stroke="#8A6B36" stroke-width="0.7"/>
<polygon points="387.6,286.1 385.7,289.4 381.8,289.4 379.9,286.1 381.8,282.7 385.7,282.7" fill="#E9B457" stroke="#8A6B36" stroke-width="0.7"/>
<polygon points="428.1,286.1 426.2,289.4 422.3,289.4 420.4,286.1 422.3,282.7 426.2,282.7" fill="#E9B457" stroke="#8A6B36" stroke-width="0.7"/>
<polygon points="468.6,286.1 466.7,289.4 462.8,289.4 460.9,286.1 462.8,282.7 466.7,282.7" fill="#E9B457" stroke="#8A6B36" stroke-width="0.7"/>
<polygon points="286.4,321.4 284.4,324.7 280.6,324.7 278.6,321.4 280.6,318.0 284.4,318.0" fill="#E9B457" stroke="#8A6B36" stroke-width="0.7"/>
<polygon points="326.9,321.4 324.9,324.7 321.1,324.7 319.1,321.4 321.1,318.0 324.9,318.0" fill="#E9B457" stroke="#8A6B36" stroke-width="0.7"/>
<polygon points="367.4,321.4 365.4,324.7 361.6,324.7 359.6,321.4 361.6,318.0 365.4,318.0" fill="#E9B457" stroke="#8A6B36" stroke-width="0.7"/>
<polygon points="407.9,321.4 405.9,324.7 402.1,324.7 400.1,321.4 402.1,318.0 405.9,318.0" fill="#E9B457" stroke="#8A6B36" stroke-width="0.7"/>
<polygon points="448.4,321.4 446.4,324.7 442.6,324.7 440.6,321.4 442.6,318.0 446.4,318.0" fill="#E9B457" stroke="#8A6B36" stroke-width="0.7"/>
<polygon points="306.6,356.7 304.7,360.0 300.8,360.0 298.9,356.7 300.8,353.3 304.7,353.3" fill="#E9B457" stroke="#8A6B36" stroke-width="0.7"/>
<polygon points="347.1,356.7 345.2,360.0 341.3,360.0 339.4,356.7 341.3,353.3 345.2,353.3" fill="#E9B457" stroke="#8A6B36" stroke-width="0.7"/>
<polygon points="387.6,356.7 385.7,360.0 381.8,360.0 379.9,356.7 381.8,353.3 385.7,353.3" fill="#E9B457" stroke="#8A6B36" stroke-width="0.7"/>
<polygon points="428.1,356.7 426.2,360.0 422.3,360.0 420.4,356.7 422.3,353.3 426.2,353.3" fill="#E9B457" stroke="#8A6B36" stroke-width="0.7"/>
<polygon points="468.6,356.7 466.7,360.0 462.8,360.0 460.9,356.7 462.8,353.3 466.7,353.3" fill="#E9B457" stroke="#8A6B36" stroke-width="0.7"/>
<polygon points="286.4,392.0 284.4,395.3 280.6,395.3 278.6,392.0 280.6,388.6 284.4,388.6" fill="#E9B457" stroke="#8A6B36" stroke-width="0.7"/>
<polygon points="326.9,392.0 324.9,395.3 321.1,395.3 319.1,392.0 321.1,388.6 324.9,388.6" fill="#E9B457" stroke="#8A6B36" stroke-width="0.7"/>
<polygon points="367.4,392.0 365.4,395.3 361.6,395.3 359.6,392.0 361.6,388.6 365.4,388.6" fill="#E9B457" stroke="#8A6B36" stroke-width="0.7"/>
<polygon points="407.9,392.0 405.9,395.3 402.1,395.3 400.1,392.0 402.1,388.6 405.9,388.6" fill="#E9B457" stroke="#8A6B36" stroke-width="0.7"/>
<polygon points="448.4,392.0 446.4,395.3 442.6,395.3 440.6,392.0 442.6,388.6 446.4,388.6" fill="#E9B457" stroke="#8A6B36" stroke-width="0.7"/>
<polygon points="306.6,427.3 304.7,430.6 300.8,430.6 298.9,427.3 300.8,423.9 304.7,423.9" fill="#E9B457" stroke="#8A6B36" stroke-width="0.7"/>
<polygon points="347.1,427.3 345.2,430.6 341.3,430.6 339.4,427.3 341.3,423.9 345.2,423.9" fill="#E9B457" stroke="#8A6B36" stroke-width="0.7"/>
<polygon points="387.6,427.3 385.7,430.6 381.8,430.6 379.9,427.3 381.8,423.9 385.7,423.9" fill="#E9B457" stroke="#8A6B36" stroke-width="0.7"/>
<polygon points="428.1,427.3 426.2,430.6 422.3,430.6 420.4,427.3 422.3,423.9 426.2,423.9" fill="#E9B457" stroke="#8A6B36" stroke-width="0.7"/>
<polygon points="468.6,427.3 466.7,430.6 462.8,430.6 460.9,427.3 462.8,423.9 466.7,423.9" fill="#E9B457" stroke="#8A6B36" stroke-width="0.7"/>
<polygon points="286.4,462.6 284.4,465.9 280.6,465.9 278.6,462.6 280.6,459.2 284.4,459.2" fill="#E9B457" stroke="#8A6B36" stroke-width="0.7"/>
<polygon points="326.9,462.6 324.9,465.9 321.1,465.9 319.1,462.6 321.1,459.2 324.9,459.2" fill="#E9B457" stroke="#8A6B36" stroke-width="0.7"/>
<polygon points="367.4,462.6 365.4,465.9 361.6,465.9 359.6,462.6 361.6,459.2 365.4,459.2" fill="#E9B457" stroke="#8A6B36" stroke-width="0.7"/>
<polygon points="407.9,462.6 405.9,465.9 402.1,465.9 400.1,462.6 402.1,459.2 405.9,459.2" fill="#E9B457" stroke="#8A6B36" stroke-width="0.7"/>
<polygon points="448.4,462.6 446.4,465.9 442.6,465.9 440.6,462.6 442.6,459.2 446.4,459.2" fill="#E9B457" stroke="#8A6B36" stroke-width="0.7"/>
<circle cx="282.5" cy="274.3" r="19.9" fill="url(#gAu)" stroke="#8C6E3C" stroke-width="1.05"/>
<circle cx="323.0" cy="274.3" r="19.9" fill="url(#gAu)" stroke="#8C6E3C" stroke-width="1.05"/>
<circle cx="363.5" cy="274.3" r="19.9" fill="url(#gAu)" stroke="#8C6E3C" stroke-width="1.05"/>
<circle cx="404.0" cy="274.3" r="19.9" fill="url(#gAu)" stroke="#8C6E3C" stroke-width="1.05"/>
<circle cx="444.5" cy="274.3" r="19.9" fill="url(#gAu)" stroke="#8C6E3C" stroke-width="1.05"/>
<circle cx="485.0" cy="274.3" r="19.9" fill="url(#gAu)" stroke="#8C6E3C" stroke-width="1.05"/>
<circle cx="262.2" cy="309.6" r="19.9" fill="url(#gAu)" stroke="#8C6E3C" stroke-width="1.05"/>
<circle cx="302.8" cy="309.6" r="19.9" fill="url(#gAu)" stroke="#8C6E3C" stroke-width="1.05"/>
<circle cx="343.2" cy="309.6" r="19.9" fill="url(#gAu)" stroke="#8C6E3C" stroke-width="1.05"/>
<circle cx="383.8" cy="309.6" r="19.9" fill="url(#gAu)" stroke="#8C6E3C" stroke-width="1.05"/>
<circle cx="424.2" cy="309.6" r="19.9" fill="url(#gAu)" stroke="#8C6E3C" stroke-width="1.05"/>
<circle cx="464.8" cy="309.6" r="19.9" fill="url(#gAu)" stroke="#8C6E3C" stroke-width="1.05"/>
<circle cx="282.5" cy="344.9" r="19.9" fill="url(#gAu)" stroke="#8C6E3C" stroke-width="1.05"/>
<circle cx="323.0" cy="344.9" r="19.9" fill="url(#gAu)" stroke="#8C6E3C" stroke-width="1.05"/>
<circle cx="363.5" cy="344.9" r="19.9" fill="url(#gAu)" stroke="#8C6E3C" stroke-width="1.05"/>
<circle cx="404.0" cy="344.9" r="19.9" fill="url(#gAu)" stroke="#8C6E3C" stroke-width="1.05"/>
<circle cx="444.5" cy="344.9" r="19.9" fill="url(#gAu)" stroke="#8C6E3C" stroke-width="1.05"/>
<circle cx="485.0" cy="344.9" r="19.9" fill="url(#gAu)" stroke="#8C6E3C" stroke-width="1.05"/>
<circle cx="262.2" cy="380.2" r="19.9" fill="url(#gAu)" stroke="#8C6E3C" stroke-width="1.05"/>
<circle cx="302.8" cy="380.2" r="19.9" fill="url(#gAu)" stroke="#8C6E3C" stroke-width="1.05"/>
<circle cx="343.2" cy="380.2" r="19.9" fill="url(#gAu)" stroke="#8C6E3C" stroke-width="1.05"/>
<circle cx="383.8" cy="380.2" r="19.9" fill="url(#gAu)" stroke="#8C6E3C" stroke-width="1.05"/>
<circle cx="424.2" cy="380.2" r="19.9" fill="url(#gAu)" stroke="#8C6E3C" stroke-width="1.05"/>
<circle cx="464.8" cy="380.2" r="19.9" fill="url(#gAu)" stroke="#8C6E3C" stroke-width="1.05"/>
<circle cx="282.5" cy="415.5" r="19.9" fill="url(#gAu)" stroke="#8C6E3C" stroke-width="1.05"/>
<circle cx="323.0" cy="415.5" r="19.9" fill="url(#gAu)" stroke="#8C6E3C" stroke-width="1.05"/>
<circle cx="363.5" cy="415.5" r="19.9" fill="url(#gAu)" stroke="#8C6E3C" stroke-width="1.05"/>
<circle cx="404.0" cy="415.5" r="19.9" fill="url(#gAu)" stroke="#8C6E3C" stroke-width="1.05"/>
<circle cx="444.5" cy="415.5" r="19.9" fill="url(#gAu)" stroke="#8C6E3C" stroke-width="1.05"/>
<circle cx="485.0" cy="415.5" r="19.9" fill="url(#gAu)" stroke="#8C6E3C" stroke-width="1.05"/>
<circle cx="262.2" cy="450.8" r="19.9" fill="url(#gAu)" stroke="#8C6E3C" stroke-width="1.05"/>
<circle cx="302.8" cy="450.8" r="19.9" fill="url(#gAu)" stroke="#8C6E3C" stroke-width="1.05"/>
<circle cx="343.2" cy="450.8" r="19.9" fill="url(#gAu)" stroke="#8C6E3C" stroke-width="1.05"/>
<circle cx="383.8" cy="450.8" r="19.9" fill="url(#gAu)" stroke="#8C6E3C" stroke-width="1.05"/>
<circle cx="424.2" cy="450.8" r="19.9" fill="url(#gAu)" stroke="#8C6E3C" stroke-width="1.05"/>
<circle cx="464.8" cy="450.8" r="19.9" fill="url(#gAu)" stroke="#8C6E3C" stroke-width="1.05"/>
<circle cx="345.2" cy="301.5" r="7.2" fill="url(#gH)"/>
<circle cx="307.4" cy="299.3" r="11.5" fill="url(#gO)"/>
<circle cx="322.1" cy="307.3" r="11.6" fill="url(#gC)"/>
<circle cx="343.0" cy="310.5" r="11.5" fill="url(#gO)"/>
<circle cx="320.0" cy="316.6" r="7.2" fill="url(#gH)"/>
<circle cx="415.0" cy="300.2" r="7.2" fill="url(#gH)"/>
<circle cx="420.9" cy="309.5" r="11.5" fill="url(#gO)"/>
<circle cx="437.5" cy="308.4" r="7.2" fill="url(#gH)"/>
<circle cx="358.2" cy="361.3" r="7.2" fill="url(#gH)"/>
<circle cx="366.2" cy="349.0" r="11.5" fill="url(#gO)"/>
<circle cx="358.2" cy="335.4" r="7.2" fill="url(#gH)"/>
<circle cx="405.7" cy="346.8" r="11.0" fill="url(#gY)"/>
<circle cx="388.4" cy="347.7" r="7.2" fill="url(#gH)"/>
<circle cx="412.2" cy="332.1" r="7.2" fill="url(#gH)"/>
<circle cx="414.4" cy="360.7" r="7.2" fill="url(#gH)"/>
<circle cx="304.2" cy="376.4" r="11.5" fill="url(#gO)"/>
<circle cx="340.9" cy="378.2" r="11.5" fill="url(#gO)"/>
<circle cx="321.5" cy="375.4" r="11.6" fill="url(#gC)"/>
<circle cx="320.8" cy="375.0" r="7.2" fill="url(#gH)"/>
<circle cx="439.6" cy="380.3" r="7.2" fill="url(#gH)"/>
<circle cx="426.7" cy="379.7" r="11.5" fill="url(#gO)"/>
<circle cx="417.6" cy="393.1" r="7.2" fill="url(#gH)"/>
<circle cx="354.5" cy="427.6" r="7.2" fill="url(#gH)"/>
<circle cx="361.4" cy="415.3" r="11.5" fill="url(#gO)"/>
<circle cx="353.9" cy="401.7" r="7.2" fill="url(#gH)"/>
<circle cx="403.6" cy="414.3" r="11.5" fill="url(#gO)"/>
<circle cx="387.4" cy="415.3" r="7.2" fill="url(#gH)"/>
<circle cx="409.4" cy="428.3" r="7.2" fill="url(#gH)"/>
</g>
<clipPath id="clip_fin"><rect x="487.7" y="265.9" width="191.2" height="190.9"/></clipPath>
<g clip-path="url(#clip_fin)">
<rect x="487.7" y="265.9" width="191.2" height="190.9" fill="#E6AE52"/>
<circle cx="512.0" cy="282.8" r="7" fill="#9C7A3C"/>
<circle cx="552.6" cy="282.8" r="7" fill="#9C7A3C"/>
<circle cx="593.2" cy="282.8" r="7" fill="#9C7A3C"/>
<circle cx="633.8" cy="282.8" r="7" fill="#9C7A3C"/>
<circle cx="674.4" cy="282.8" r="7" fill="#9C7A3C"/>
<circle cx="491.7" cy="318.2" r="7" fill="#9C7A3C"/>
<circle cx="532.3" cy="318.2" r="7" fill="#9C7A3C"/>
<circle cx="572.9" cy="318.2" r="7" fill="#9C7A3C"/>
<circle cx="613.5" cy="318.2" r="7" fill="#9C7A3C"/>
<circle cx="654.1" cy="318.2" r="7" fill="#9C7A3C"/>
<circle cx="512.0" cy="353.6" r="7" fill="#9C7A3C"/>
<circle cx="552.6" cy="353.6" r="7" fill="#9C7A3C"/>
<circle cx="593.2" cy="353.6" r="7" fill="#9C7A3C"/>
<circle cx="633.8" cy="353.6" r="7" fill="#9C7A3C"/>
<circle cx="674.4" cy="353.6" r="7" fill="#9C7A3C"/>
<circle cx="491.7" cy="389.0" r="7" fill="#9C7A3C"/>
<circle cx="532.3" cy="389.0" r="7" fill="#9C7A3C"/>
<circle cx="572.9" cy="389.0" r="7" fill="#9C7A3C"/>
<circle cx="613.5" cy="389.0" r="7" fill="#9C7A3C"/>
<circle cx="654.1" cy="389.0" r="7" fill="#9C7A3C"/>
<circle cx="512.0" cy="424.4" r="7" fill="#9C7A3C"/>
<circle cx="552.6" cy="424.4" r="7" fill="#9C7A3C"/>
<circle cx="593.2" cy="424.4" r="7" fill="#9C7A3C"/>
<circle cx="633.8" cy="424.4" r="7" fill="#9C7A3C"/>
<circle cx="674.4" cy="424.4" r="7" fill="#9C7A3C"/>
<circle cx="491.7" cy="459.8" r="7" fill="#9C7A3C"/>
<circle cx="532.3" cy="459.8" r="7" fill="#9C7A3C"/>
<circle cx="572.9" cy="459.8" r="7" fill="#9C7A3C"/>
<circle cx="613.5" cy="459.8" r="7" fill="#9C7A3C"/>
<circle cx="654.1" cy="459.8" r="7" fill="#9C7A3C"/>
<polygon points="515.9,284.8 514.0,288.2 510.1,288.2 508.1,284.8 510.1,281.4 514.0,281.4" fill="#E9B457" stroke="#8A6B36" stroke-width="0.7"/>
<polygon points="556.5,284.8 554.6,288.2 550.6,288.2 548.7,284.8 550.6,281.4 554.6,281.4" fill="#E9B457" stroke="#8A6B36" stroke-width="0.7"/>
<polygon points="597.1,284.8 595.2,288.2 591.2,288.2 589.3,284.8 591.2,281.4 595.2,281.4" fill="#E9B457" stroke="#8A6B36" stroke-width="0.7"/>
<polygon points="637.7,284.8 635.8,288.2 631.8,288.2 629.9,284.8 631.8,281.4 635.8,281.4" fill="#E9B457" stroke="#8A6B36" stroke-width="0.7"/>
<polygon points="678.3,284.8 676.4,288.2 672.4,288.2 670.5,284.8 672.4,281.4 676.4,281.4" fill="#E9B457" stroke="#8A6B36" stroke-width="0.7"/>
<polygon points="495.6,320.2 493.6,323.6 489.8,323.6 487.8,320.2 489.8,316.8 493.6,316.8" fill="#E9B457" stroke="#8A6B36" stroke-width="0.7"/>
<polygon points="536.2,320.2 534.2,323.6 530.3,323.6 528.4,320.2 530.3,316.8 534.2,316.8" fill="#E9B457" stroke="#8A6B36" stroke-width="0.7"/>
<polygon points="576.8,320.2 574.9,323.6 570.9,323.6 569.0,320.2 570.9,316.8 574.9,316.8" fill="#E9B457" stroke="#8A6B36" stroke-width="0.7"/>
<polygon points="617.4,320.2 615.5,323.6 611.5,323.6 609.6,320.2 611.5,316.8 615.5,316.8" fill="#E9B457" stroke="#8A6B36" stroke-width="0.7"/>
<polygon points="658.0,320.2 656.1,323.6 652.1,323.6 650.2,320.2 652.1,316.8 656.1,316.8" fill="#E9B457" stroke="#8A6B36" stroke-width="0.7"/>
<polygon points="515.9,355.6 514.0,359.0 510.1,359.0 508.1,355.6 510.1,352.2 514.0,352.2" fill="#E9B457" stroke="#8A6B36" stroke-width="0.7"/>
<polygon points="556.5,355.6 554.6,359.0 550.6,359.0 548.7,355.6 550.6,352.2 554.6,352.2" fill="#E9B457" stroke="#8A6B36" stroke-width="0.7"/>
<polygon points="597.1,355.6 595.2,359.0 591.2,359.0 589.3,355.6 591.2,352.2 595.2,352.2" fill="#E9B457" stroke="#8A6B36" stroke-width="0.7"/>
<polygon points="637.7,355.6 635.8,359.0 631.8,359.0 629.9,355.6 631.8,352.2 635.8,352.2" fill="#E9B457" stroke="#8A6B36" stroke-width="0.7"/>
<polygon points="678.3,355.6 676.4,359.0 672.4,359.0 670.5,355.6 672.4,352.2 676.4,352.2" fill="#E9B457" stroke="#8A6B36" stroke-width="0.7"/>
<polygon points="495.6,391.0 493.6,394.4 489.8,394.4 487.8,391.0 489.8,387.6 493.6,387.6" fill="#E9B457" stroke="#8A6B36" stroke-width="0.7"/>
<polygon points="536.2,391.0 534.2,394.4 530.3,394.4 528.4,391.0 530.3,387.6 534.2,387.6" fill="#E9B457" stroke="#8A6B36" stroke-width="0.7"/>
<polygon points="576.8,391.0 574.9,394.4 570.9,394.4 569.0,391.0 570.9,387.6 574.9,387.6" fill="#E9B457" stroke="#8A6B36" stroke-width="0.7"/>
<polygon points="617.4,391.0 615.5,394.4 611.5,394.4 609.6,391.0 611.5,387.6 615.5,387.6" fill="#E9B457" stroke="#8A6B36" stroke-width="0.7"/>
<polygon points="658.0,391.0 656.1,394.4 652.1,394.4 650.2,391.0 652.1,387.6 656.1,387.6" fill="#E9B457" stroke="#8A6B36" stroke-width="0.7"/>
<polygon points="515.9,426.4 514.0,429.8 510.1,429.8 508.1,426.4 510.1,423.0 514.0,423.0" fill="#E9B457" stroke="#8A6B36" stroke-width="0.7"/>
<polygon points="556.5,426.4 554.6,429.8 550.6,429.8 548.7,426.4 550.6,423.0 554.6,423.0" fill="#E9B457" stroke="#8A6B36" stroke-width="0.7"/>
<polygon points="597.1,426.4 595.2,429.8 591.2,429.8 589.3,426.4 591.2,423.0 595.2,423.0" fill="#E9B457" stroke="#8A6B36" stroke-width="0.7"/>
<polygon points="637.7,426.4 635.8,429.8 631.8,429.8 629.9,426.4 631.8,423.0 635.8,423.0" fill="#E9B457" stroke="#8A6B36" stroke-width="0.7"/>
<polygon points="678.3,426.4 676.4,429.8 672.4,429.8 670.5,426.4 672.4,423.0 676.4,423.0" fill="#E9B457" stroke="#8A6B36" stroke-width="0.7"/>
<polygon points="495.6,461.8 493.6,465.2 489.8,465.2 487.8,461.8 489.8,458.4 493.6,458.4" fill="#E9B457" stroke="#8A6B36" stroke-width="0.7"/>
<polygon points="536.2,461.8 534.2,465.2 530.3,465.2 528.4,461.8 530.3,458.4 534.2,458.4" fill="#E9B457" stroke="#8A6B36" stroke-width="0.7"/>
<polygon points="576.8,461.8 574.9,465.2 570.9,465.2 569.0,461.8 570.9,458.4 574.9,458.4" fill="#E9B457" stroke="#8A6B36" stroke-width="0.7"/>
<polygon points="617.4,461.8 615.5,465.2 611.5,465.2 609.6,461.8 611.5,458.4 615.5,458.4" fill="#E9B457" stroke="#8A6B36" stroke-width="0.7"/>
<polygon points="658.0,461.8 656.1,465.2 652.1,465.2 650.2,461.8 652.1,458.4 656.1,458.4" fill="#E9B457" stroke="#8A6B36" stroke-width="0.7"/>
<circle cx="491.7" cy="273.0" r="19.9" fill="url(#gAu)" stroke="#8C6E3C" stroke-width="1.05"/>
<circle cx="532.3" cy="273.0" r="19.9" fill="url(#gAu)" stroke="#8C6E3C" stroke-width="1.05"/>
<circle cx="572.9" cy="273.0" r="19.9" fill="url(#gAu)" stroke="#8C6E3C" stroke-width="1.05"/>
<circle cx="613.5" cy="273.0" r="19.9" fill="url(#gAu)" stroke="#8C6E3C" stroke-width="1.05"/>
<circle cx="654.1" cy="273.0" r="19.9" fill="url(#gAu)" stroke="#8C6E3C" stroke-width="1.05"/>
<circle cx="694.7" cy="273.0" r="19.9" fill="url(#gAu)" stroke="#8C6E3C" stroke-width="1.05"/>
<circle cx="471.4" cy="308.4" r="19.9" fill="url(#gAu)" stroke="#8C6E3C" stroke-width="1.05"/>
<circle cx="512.0" cy="308.4" r="19.9" fill="url(#gAu)" stroke="#8C6E3C" stroke-width="1.05"/>
<circle cx="552.6" cy="308.4" r="19.9" fill="url(#gAu)" stroke="#8C6E3C" stroke-width="1.05"/>
<circle cx="593.2" cy="308.4" r="19.9" fill="url(#gAu)" stroke="#8C6E3C" stroke-width="1.05"/>
<circle cx="633.8" cy="308.4" r="19.9" fill="url(#gAu)" stroke="#8C6E3C" stroke-width="1.05"/>
<circle cx="674.4" cy="308.4" r="19.9" fill="url(#gAu)" stroke="#8C6E3C" stroke-width="1.05"/>
<circle cx="491.7" cy="343.8" r="19.9" fill="url(#gAu)" stroke="#8C6E3C" stroke-width="1.05"/>
<circle cx="532.3" cy="343.8" r="19.9" fill="url(#gAu)" stroke="#8C6E3C" stroke-width="1.05"/>
<circle cx="572.9" cy="343.8" r="19.9" fill="url(#gAu)" stroke="#8C6E3C" stroke-width="1.05"/>
<circle cx="613.5" cy="343.8" r="19.9" fill="url(#gAu)" stroke="#8C6E3C" stroke-width="1.05"/>
<circle cx="654.1" cy="343.8" r="19.9" fill="url(#gAu)" stroke="#8C6E3C" stroke-width="1.05"/>
<circle cx="694.7" cy="343.8" r="19.9" fill="url(#gAu)" stroke="#8C6E3C" stroke-width="1.05"/>
<circle cx="471.4" cy="379.2" r="19.9" fill="url(#gAu)" stroke="#8C6E3C" stroke-width="1.05"/>
<circle cx="512.0" cy="379.2" r="19.9" fill="url(#gAu)" stroke="#8C6E3C" stroke-width="1.05"/>
<circle cx="552.6" cy="379.2" r="19.9" fill="url(#gAu)" stroke="#8C6E3C" stroke-width="1.05"/>
<circle cx="593.2" cy="379.2" r="19.9" fill="url(#gAu)" stroke="#8C6E3C" stroke-width="1.05"/>
<circle cx="633.8" cy="379.2" r="19.9" fill="url(#gAu)" stroke="#8C6E3C" stroke-width="1.05"/>
<circle cx="674.4" cy="379.2" r="19.9" fill="url(#gAu)" stroke="#8C6E3C" stroke-width="1.05"/>
<circle cx="491.7" cy="414.6" r="19.9" fill="url(#gAu)" stroke="#8C6E3C" stroke-width="1.05"/>
<circle cx="532.3" cy="414.6" r="19.9" fill="url(#gAu)" stroke="#8C6E3C" stroke-width="1.05"/>
<circle cx="572.9" cy="414.6" r="19.9" fill="url(#gAu)" stroke="#8C6E3C" stroke-width="1.05"/>
<circle cx="613.5" cy="414.6" r="19.9" fill="url(#gAu)" stroke="#8C6E3C" stroke-width="1.05"/>
<circle cx="654.1" cy="414.6" r="19.9" fill="url(#gAu)" stroke="#8C6E3C" stroke-width="1.05"/>
<circle cx="694.7" cy="414.6" r="19.9" fill="url(#gAu)" stroke="#8C6E3C" stroke-width="1.05"/>
<circle cx="471.4" cy="450.0" r="19.9" fill="url(#gAu)" stroke="#8C6E3C" stroke-width="1.05"/>
<circle cx="512.0" cy="450.0" r="19.9" fill="url(#gAu)" stroke="#8C6E3C" stroke-width="1.05"/>
<circle cx="552.6" cy="450.0" r="19.9" fill="url(#gAu)" stroke="#8C6E3C" stroke-width="1.05"/>
<circle cx="593.2" cy="450.0" r="19.9" fill="url(#gAu)" stroke="#8C6E3C" stroke-width="1.05"/>
<circle cx="633.8" cy="450.0" r="19.9" fill="url(#gAu)" stroke="#8C6E3C" stroke-width="1.05"/>
<circle cx="674.4" cy="450.0" r="19.9" fill="url(#gAu)" stroke="#8C6E3C" stroke-width="1.05"/>
<circle cx="554.6" cy="298.7" r="7.2" fill="url(#gH)"/>
<circle cx="519.1" cy="294.3" r="11.5" fill="url(#gO)"/>
<circle cx="532.5" cy="303.0" r="11.6" fill="url(#gC)"/>
<circle cx="553.0" cy="308.4" r="11.5" fill="url(#gO)"/>
<circle cx="530.8" cy="312.3" r="7.2" fill="url(#gH)"/>
<circle cx="619.4" cy="301.9" r="7.2" fill="url(#gH)"/>
<circle cx="625.4" cy="308.8" r="11.5" fill="url(#gO)"/>
<circle cx="641.7" cy="307.3" r="7.2" fill="url(#gH)"/>
<circle cx="566.0" cy="360.7" r="7.2" fill="url(#gH)"/>
<circle cx="573.6" cy="348.4" r="11.5" fill="url(#gO)"/>
<circle cx="566.7" cy="333.9" r="7.2" fill="url(#gH)"/>
<circle cx="613.6" cy="346.2" r="11.0" fill="url(#gY)"/>
<circle cx="596.9" cy="347.7" r="7.2" fill="url(#gH)"/>
<circle cx="619.0" cy="331.7" r="7.2" fill="url(#gH)"/>
<circle cx="622.2" cy="359.8" r="7.2" fill="url(#gH)"/>
<circle cx="512.0" cy="378.2" r="11.5" fill="url(#gO)"/>
<circle cx="549.8" cy="378.6" r="11.5" fill="url(#gO)"/>
<circle cx="530.4" cy="377.5" r="11.6" fill="url(#gC)"/>
<circle cx="530.4" cy="377.5" r="7.2" fill="url(#gH)"/>
<circle cx="648.1" cy="374.3" r="7.2" fill="url(#gH)"/>
<circle cx="635.8" cy="377.5" r="11.5" fill="url(#gO)"/>
<circle cx="627.6" cy="391.6" r="7.2" fill="url(#gH)"/>
<circle cx="565.4" cy="426.8" r="7.2" fill="url(#gH)"/>
<circle cx="572.5" cy="414.3" r="11.5" fill="url(#gO)"/>
<circle cx="564.5" cy="400.9" r="7.2" fill="url(#gH)"/>
<circle cx="614.2" cy="412.5" r="11.5" fill="url(#gO)"/>
<circle cx="597.8" cy="413.8" r="7.2" fill="url(#gH)"/>
<circle cx="620.0" cy="426.1" r="7.2" fill="url(#gH)"/>
</g>
<path d="M9.6,19.4A24.5 24.5 0 0 0 9.6,49.0M38.0,19.4A24.5 24.5 0 0 1 38.0,49.0" stroke="#111" stroke-width="1.9" fill="none"/>
<text x="13.68" y="43.00" font-size="34" fill="#111" stroke="#111" stroke-width="0.3" textLength="18.29" lengthAdjust="spacingAndGlyphs" >a</text>
<text x="110.93" y="34.10" font-size="26" fill="#111" stroke="#111" stroke-width="0.3" textLength="131.24" lengthAdjust="spacingAndGlyphs" >Initial state</text>
<text x="359.66" y="33.30" font-size="26" fill="#111" stroke="#111" stroke-width="0.3" textLength="31.51" lengthAdjust="spacingAndGlyphs" >T3</text>
<text x="568.65" y="34.40" font-size="26" fill="#111" stroke="#111" stroke-width="0.3" textLength="32.09" lengthAdjust="spacingAndGlyphs" >T4</text>
<text x="108.75" y="492.50" font-size="26" fill="#111" stroke="#111" stroke-width="0.3" textLength="31.93" lengthAdjust="spacingAndGlyphs" >T6</text>
<text x="349.46" y="492.50" font-size="26" fill="#111" stroke="#111" stroke-width="0.3" textLength="31.51" lengthAdjust="spacingAndGlyphs" >T7</text>
<text x="539.93" y="490.20" font-size="26" fill="#111" stroke="#111" stroke-width="0.3" textLength="125.03" lengthAdjust="spacingAndGlyphs" >Final state</text>
<rect x="791.8" y="86.2" width="406.1" height="327.5" fill="none" stroke="#000" stroke-width="2.2"/>
<path d="M824.90,413.7v-5.6M824.90,86.2v5.6M862.28,413.7v-2.6M862.28,86.2v2.6M899.66,413.7v-5.6M899.66,86.2v5.6M937.04,413.7v-2.6M937.04,86.2v2.6M974.42,413.7v-5.6M974.42,86.2v5.6M1011.80,413.7v-2.6M1011.80,86.2v2.6M1049.18,413.7v-5.6M1049.18,86.2v5.6M1086.56,413.7v-2.6M1086.56,86.2v2.6M1123.94,413.7v-5.6M1123.94,86.2v5.6M1161.32,413.7v-2.6M1161.32,86.2v2.6M1198.70,413.7v-5.6M1198.70,86.2v5.6M791.8,375.15h5.6M1197.9,375.15h-5.6M791.8,336.52h2.6M1197.9,336.52h-2.6M791.8,297.90h5.6M1197.9,297.90h-5.6M791.8,259.27h2.6M1197.9,259.27h-2.6M791.8,220.65h5.6M1197.9,220.65h-5.6M791.8,182.02h2.6M1197.9,182.02h-2.6M791.8,143.40h5.6M1197.9,143.40h-5.6M791.8,104.77h2.6M1197.9,104.77h-2.6" stroke="#000" stroke-width="2" fill="none"/>
<text x="737.51" y="153.00" font-size="27" fill="#111" stroke="#111" stroke-width="0.3" textLength="45.94" lengthAdjust="spacingAndGlyphs" >200</text>
<text x="737.51" y="230.25" font-size="27" fill="#111" stroke="#111" stroke-width="0.3" textLength="45.94" lengthAdjust="spacingAndGlyphs" >100</text>
<text x="768.08" y="307.50" font-size="27" fill="#111" stroke="#111" stroke-width="0.3" textLength="15.31" lengthAdjust="spacingAndGlyphs" >0</text>
<text x="728.15" y="384.75" font-size="27" fill="#111" stroke="#111" stroke-width="0.3" textLength="55.11" lengthAdjust="spacingAndGlyphs" >-100</text>
<text x="817.34" y="442.20" font-size="27" fill="#111" stroke="#111" stroke-width="0.3" textLength="15.01" lengthAdjust="spacingAndGlyphs" >0</text>
<text x="892.10" y="442.20" font-size="27" fill="#111" stroke="#111" stroke-width="0.3" textLength="15.01" lengthAdjust="spacingAndGlyphs" >2</text>
<text x="967.00" y="442.20" font-size="27" fill="#111" stroke="#111" stroke-width="0.3" textLength="15.01" lengthAdjust="spacingAndGlyphs" >4</text>
<text x="1041.62" y="442.20" font-size="27" fill="#111" stroke="#111" stroke-width="0.3" textLength="15.01" lengthAdjust="spacingAndGlyphs" >6</text>
<text x="1116.52" y="442.20" font-size="27" fill="#111" stroke="#111" stroke-width="0.3" textLength="15.01" lengthAdjust="spacingAndGlyphs" >8</text>
<text x="1183.04" y="442.20" font-size="27" fill="#111" stroke="#111" stroke-width="0.3" textLength="30.03" lengthAdjust="spacingAndGlyphs" >10</text>
<text x="911.74" y="475.50" font-size="28" fill="#111" stroke="#111" stroke-width="0.3" textLength="184.04" lengthAdjust="spacingAndGlyphs" >Transition path</text>
<text transform="translate(718.90,335.55) rotate(-90)" x="0" y="0" font-size="27.5" fill="#111" stroke="#111" stroke-width="0.3" textLength="173.69" lengthAdjust="spacingAndGlyphs" >Energy (meV)</text>
<path d="M836.19,298.25L850.99,298.71M869.98,290.79L891.96,267.16M903.42,248.23L933.28,163.71M941.59,163.40L969.87,227.69M984.79,242.53L1001.43,249.76M1020.55,247.11L1040.43,230.89M1053.36,234.24L1082.38,307.10M1095.42,324.61L1115.08,340.17M1133.73,352.83L1151.53,363.09" stroke="#000" stroke-width="1.7" fill="none"/>
<circle cx="824.90" cy="297.90" r="8.2" fill="url(#gBall)"/>
<circle cx="862.28" cy="299.06" r="8.2" fill="url(#gBall)"/>
<circle cx="899.66" cy="258.89" r="8.2" fill="url(#gBall)"/>
<circle cx="937.04" cy="153.06" r="8.2" fill="url(#gBall)"/>
<circle cx="974.42" cy="238.03" r="8.2" fill="url(#gBall)"/>
<circle cx="1011.80" cy="254.25" r="8.2" fill="url(#gBall)"/>
<circle cx="1049.18" cy="223.74" r="8.2" fill="url(#gBall)"/>
<circle cx="1086.56" cy="317.60" r="8.2" fill="url(#gBall)"/>
<circle cx="1123.94" cy="347.19" r="8.2" fill="url(#gBall)"/>
<circle cx="1161.32" cy="368.74" r="8.2" fill="url(#gBall)"/>
<path d="M832.2,152.1H987M832.2,298.6H987" stroke="#C8201E" stroke-width="2" stroke-dasharray="6.3,5.3" fill="none"/>
<path d="M936,166V283" stroke="#C8302C" stroke-width="2.4" fill="none"/>
<path d="M936,155.5L945.6,171.6L936,168.4L926.4,171.6Z" fill="#C8302C"/>
<path d="M936,294.2L945.6,278.1L936,281.3L926.4,278.1Z" fill="#C8302C"/>
<text x="919.07" y="127.90" font-size="26" fill="#C8302C" stroke="#C8302C" stroke-width="0.3" textLength="31.19" lengthAdjust="spacingAndGlyphs" >T3</text>
<text transform="translate(877.00,269.31) rotate(-90)" x="0" y="0" font-size="26" fill="#C8302C" stroke="#C8302C" stroke-width="0.3" textLength="100.36" lengthAdjust="spacingAndGlyphs" >187 meV</text>
<polyline points="71.2,826.7 72.6,820.7 74.1,821.9 75.5,820.0 76.9,830.5 78.3,822.3 79.8,808.6 81.2,819.2 82.6,808.4 84.1,799.9 85.5,816.9 86.9,827.7 88.4,817.3 89.8,808.9 91.2,810.1 92.6,824.1 94.1,817.2 95.5,817.5 96.9,815.0 98.4,816.8 99.8,823.0 101.2,823.0 102.7,819.6 104.1,812.0 105.5,821.2 106.9,812.4 108.4,825.3 109.8,811.1 111.2,819.0 112.7,820.7 114.1,811.4 115.5,832.8 117.0,831.6 118.4,819.7 119.8,827.6 121.2,824.1 122.7,806.1 124.1,823.8 125.5,821.7 127.0,823.3 128.4,815.1 129.8,822.1 131.3,823.3 132.7,832.4 134.1,826.8 135.5,823.8 137.0,835.2 138.4,821.2 139.8,822.1 141.3,813.8 142.7,835.8 144.1,830.5 145.5,831.4 147.0,829.3 148.4,825.2 149.8,825.1 151.3,820.9 152.7,821.1 154.1,823.0 155.6,832.4 157.0,825.5 158.4,820.6 159.8,818.1 161.3,815.9 162.7,831.3 164.1,824.5 165.6,822.8 167.0,819.9 168.4,813.6 169.9,821.3 171.3,828.0 172.7,820.4 174.1,822.8 175.6,823.0 177.0,825.6 178.4,813.1 179.9,821.3 181.3,816.5 182.7,828.4 184.2,817.2 185.6,825.9 187.0,833.1 188.4,821.1 189.9,819.5 191.3,824.6 192.7,824.4 194.2,818.7 195.6,828.9 197.0,838.5 198.5,822.7 199.9,821.0 201.3,813.7 202.7,821.9 204.2,811.0 205.6,811.1 207.0,828.9 208.5,813.1 209.9,826.9 211.3,829.7 212.8,823.1 214.2,826.7 215.6,836.0 217.0,823.1 218.5,820.7 219.9,812.8 221.3,822.7 222.8,832.7 224.2,828.1 225.6,815.2 227.1,815.1 228.5,818.4 229.9,823.1 231.3,819.3 232.8,822.3 234.2,822.7 235.6,816.9 237.1,818.4 238.5,819.9 239.9,816.7 241.4,820.2 242.8,827.4 244.2,819.3 245.6,815.2 247.1,804.2 248.5,819.5 249.9,803.3 251.4,807.3 252.8,825.1 254.2,823.0 255.7,818.1 257.1,806.5 258.5,814.9 259.9,812.6 261.4,820.4 262.8,832.1 264.2,816.1 265.7,807.1 267.1,802.8 268.5,811.1 270.0,809.7 271.4,804.2 272.8,811.3 274.2,801.9 275.7,816.5 277.1,815.7 278.5,815.8 280.0,805.3 281.4,810.2 282.8,804.1 284.3,800.2 285.7,801.4 287.1,794.2 288.5,792.0 290.0,807.8 291.4,801.7 292.8,803.1 294.3,808.2 295.7,789.5 297.1,794.9 298.6,800.4 300.0,802.2 301.4,797.6 302.8,806.3 304.3,799.6 305.7,790.3 307.1,792.3 308.6,804.0 310.0,802.1 311.4,786.2 312.9,808.7 314.3,803.9 315.7,810.0 317.1,797.6 318.6,798.6 320.0,794.0 321.4,820.7 322.9,803.4 324.3,815.1 325.7,801.8 327.1,808.4 328.6,796.9 330.0,806.4 331.4,815.7 332.9,801.5 334.3,819.2 335.7,815.0 337.2,806.8 338.6,810.9 340.0,812.0 341.4,816.0 342.9,813.5 344.3,814.7 345.7,816.9 347.2,812.6 348.6,812.0 350.0,821.1 351.5,828.8 352.9,813.8 354.3,822.6 355.7,817.6" fill="none" stroke="#000000" stroke-width="1.9" stroke-linejoin="round" />
<polyline points="71.2,816.3 72.6,807.0 74.1,823.1 75.5,816.0 76.9,818.9 78.3,814.6 79.8,815.5 81.2,802.9 82.6,827.0 84.1,819.6 85.5,824.0 86.9,827.8 88.4,817.0 89.8,803.8 91.2,811.2 92.6,809.3 94.1,814.2 95.5,816.4 96.9,803.2 98.4,818.7 99.8,805.9 101.2,817.8 102.7,818.3 104.1,816.1 105.5,817.9 106.9,812.3 108.4,812.4 109.8,805.5 111.2,817.7 112.7,830.9 114.1,829.6 115.5,824.5 117.0,820.7 118.4,813.4 119.8,830.7 121.2,821.0 122.7,820.3 124.1,818.8 125.5,820.9 127.0,817.8 128.4,820.1 129.8,812.6 131.3,816.7 132.7,832.6 134.1,817.3 135.5,816.7 137.0,821.3 138.4,822.1 139.8,810.5 141.3,816.1 142.7,824.6 144.1,819.8 145.5,817.8 147.0,827.1 148.4,811.3 149.8,816.4 151.3,813.0 152.7,824.7 154.1,802.5 155.6,810.9 157.0,811.7 158.4,820.4 159.8,819.6 161.3,825.2 162.7,805.8 164.1,821.0 165.6,816.0 167.0,812.4 168.4,820.4 169.9,811.0 171.3,803.6 172.7,814.9 174.1,808.7 175.6,813.1 177.0,820.8 178.4,820.5 179.9,830.2 181.3,818.5 182.7,809.0 184.2,814.0 185.6,813.9 187.0,811.8 188.4,824.4 189.9,815.5 191.3,807.0 192.7,825.4 194.2,820.6 195.6,824.5 197.0,821.7 198.5,825.4 199.9,821.0 201.3,826.6 202.7,822.8 204.2,820.9 205.6,818.8 207.0,805.1 208.5,814.5 209.9,814.9 211.3,817.4 212.8,808.7 214.2,832.1 215.6,821.5 217.0,813.9 218.5,810.7 219.9,820.1 221.3,820.6 222.8,817.1 224.2,822.3 225.6,816.8 227.1,822.7 228.5,814.2 229.9,819.6 231.3,828.0 232.8,840.0 234.2,816.3 235.6,819.3 237.1,817.0 238.5,826.0 239.9,812.4 241.4,817.2 242.8,819.5 244.2,812.8 245.6,810.4 247.1,812.6 248.5,801.3 249.9,804.1 251.4,809.3 252.8,813.5 254.2,810.6 255.7,799.2 257.1,805.9 258.5,814.3 259.9,811.7 261.4,803.4 262.8,796.0 264.2,806.2 265.7,795.6 267.1,788.9 268.5,788.7 270.0,802.3 271.4,790.2 272.8,793.8 274.2,780.5 275.7,788.3 277.1,774.5 278.5,777.0 280.0,794.0 281.4,779.0 282.8,769.1 284.3,773.4 285.7,776.4 287.1,785.7 288.5,773.2 290.0,764.3 291.4,775.1 292.8,780.0 294.3,783.7 295.7,793.2 297.1,786.0 298.6,792.0 300.0,778.2 301.4,793.8 302.8,805.2 304.3,797.6 305.7,794.5 307.1,793.0 308.6,807.0 310.0,787.8 311.4,793.3 312.9,795.7 314.3,796.4 315.7,784.6 317.1,786.0 318.6,778.5 320.0,778.3 321.4,770.8 322.9,759.2 324.3,762.3 325.7,766.9 327.1,748.8 328.6,750.5 330.0,756.5 331.4,741.6 332.9,751.6 334.3,741.5 335.7,759.3 337.2,771.6 338.6,770.6 340.0,755.7 341.4,768.1 342.9,767.7 344.3,770.4 345.7,784.0 347.2,767.2 348.6,791.0 350.0,786.2 351.5,800.6 352.9,795.3 354.3,790.8 355.7,797.2 357.2,801.6 358.6,797.2 360.0,801.3 361.5,792.6 362.9,782.8 364.3,804.3 365.8,802.0 367.2,797.2 368.6,796.8 370.0,803.8 371.5,792.6 372.9,790.3 374.3,794.5 375.8,805.4 377.2,788.1 378.6,806.8 380.1,794.8 381.5,793.6 382.9,809.4 384.3,800.9 385.8,794.3 387.2,801.8 388.6,809.2 390.1,809.8 391.5,800.2 392.9,806.9 394.4,807.8 395.8,799.0 397.2,804.6 398.6,801.4 400.1,797.2 401.5,797.3 402.9,802.3" fill="none" stroke="#FF0000" stroke-width="1.9" stroke-linejoin="round" />
<polyline points="71.2,837.1 72.6,839.2 74.1,842.2 75.5,832.8 76.9,843.1 78.3,846.1 79.8,843.3 81.2,843.2 82.6,832.8 84.1,831.3 85.5,839.5 86.9,823.8 88.4,835.2 89.8,829.1 91.2,828.7 92.6,821.9 94.1,826.6 95.5,832.5 96.9,837.1 98.4,838.0 99.8,830.6 101.2,828.7 102.7,824.1 104.1,831.7 105.5,825.6 106.9,832.0 108.4,839.2 109.8,828.4 111.2,818.5 112.7,822.9 114.1,820.5 115.5,822.0 117.0,839.7 118.4,833.7 119.8,824.1 121.2,838.6 122.7,842.1 124.1,830.0 125.5,828.1 127.0,828.7 128.4,833.8 129.8,836.0 131.3,839.5 132.7,838.1 134.1,838.5 135.5,840.3 137.0,835.3 138.4,822.1 139.8,832.7 141.3,836.4 142.7,832.8 144.1,840.6 145.5,832.4 147.0,828.6 148.4,844.4 149.8,839.5 151.3,834.5 152.7,837.4 154.1,836.6 155.6,829.0 157.0,810.8 158.4,822.6 159.8,823.1 161.3,819.3 162.7,827.5 164.1,833.3 165.6,821.9 167.0,816.8 168.4,838.5 169.9,820.4 171.3,817.1 172.7,826.8 174.1,828.9 175.6,819.8 177.0,831.4 178.4,824.0 179.9,821.9 181.3,831.6 182.7,838.0 184.2,827.3 185.6,834.8 187.0,830.6 188.4,846.3 189.9,827.6 191.3,842.8 192.7,833.1 194.2,833.6 195.6,836.1 197.0,836.8 198.5,840.0 199.9,834.2 201.3,826.7 202.7,827.1 204.2,832.3 205.6,832.9 207.0,839.1 208.5,835.1 209.9,838.8 211.3,840.3 212.8,831.1 214.2,821.4 215.6,823.0 217.0,821.8 218.5,843.1 219.9,825.1 221.3,837.9 222.8,833.4 224.2,840.5 225.6,835.3 227.1,824.9 228.5,825.5 229.9,827.3 231.3,827.4 232.8,823.3 234.2,827.7 235.6,838.4 237.1,817.7 238.5,832.0 239.9,824.8 241.4,829.8 242.8,833.6 244.2,824.6 245.6,828.4 247.1,808.0 248.5,823.9 249.9,809.3 251.4,813.7 252.8,808.6 254.2,787.5 255.7,796.3 257.1,801.5 258.5,803.5 259.9,792.1 261.4,787.4 262.8,770.4 264.2,786.7 265.7,783.5 267.1,764.0 268.5,757.8 270.0,741.2 271.4,757.8 272.8,770.3 274.2,753.5 275.7,753.9 277.1,746.0 278.5,735.2 280.0,755.2 281.4,733.8 282.8,742.6 284.3,748.2 285.7,753.2 287.1,749.3 288.5,753.9 290.0,747.4 291.4,744.2 292.8,757.0 294.3,754.7 295.7,753.5 297.1,758.2 298.6,769.0 300.0,763.2 301.4,770.1 302.8,771.6 304.3,787.8 305.7,792.2 307.1,804.8 308.6,781.5 310.0,786.5 311.4,797.3 312.9,787.1 314.3,782.7 315.7,793.6 317.1,773.7 318.6,762.9 320.0,755.7 321.4,762.8 322.9,756.5 324.3,733.3 325.7,729.0 327.1,734.0 328.6,728.7 330.0,714.3 331.4,720.8 332.9,715.9 334.3,690.8 335.7,704.2 337.2,712.4 338.6,705.5 340.0,697.6 341.4,720.9 342.9,736.5 344.3,750.8 345.7,730.3 347.2,780.5 348.6,760.0 350.0,786.2 351.5,798.4 352.9,802.6 354.3,799.5 355.7,791.9 357.2,807.5 358.6,797.5 360.0,784.5 361.5,822.1 362.9,808.7 364.3,817.2 365.8,798.6 367.2,814.5 368.6,813.8 370.0,810.8 371.5,801.0 372.9,792.9 374.3,799.3 375.8,784.5 377.2,787.1 378.6,800.5 380.1,793.1 381.5,800.1 382.9,799.7 384.3,812.4 385.8,809.4 387.2,799.0 388.6,807.8 390.1,794.1 391.5,796.4 392.9,804.9 394.4,790.1 395.8,798.4 397.2,792.1 398.6,799.0 400.1,811.4 401.5,794.3 402.9,800.4" fill="none" stroke="#0000FF" stroke-width="1.9" stroke-linejoin="round" />
<polyline points="71.2,816.9 72.6,818.5 74.1,824.0 75.5,814.2 76.9,815.7 78.3,821.3 79.8,819.5 81.2,815.2 82.6,812.9 84.1,810.2 85.5,814.5 86.9,821.7 88.4,806.7 89.8,823.7 91.2,818.5 92.6,809.5 94.1,818.4 95.5,804.4 96.9,805.4 98.4,809.2 99.8,815.6 101.2,817.3 102.7,814.3 104.1,821.0 105.5,806.2 106.9,822.1 108.4,811.0 109.8,816.0 111.2,816.0 112.7,811.5 114.1,808.6 115.5,812.4 117.0,816.5 118.4,820.5 119.8,823.1 121.2,810.6 122.7,811.6 124.1,811.7 125.5,822.8 127.0,805.8 128.4,827.7 129.8,815.9 131.3,813.4 132.7,821.6 134.1,825.2 135.5,820.0 137.0,824.6 138.4,815.6 139.8,823.2 141.3,822.6 142.7,814.9 144.1,826.9 145.5,817.8 147.0,817.6 148.4,809.7 149.8,814.2 151.3,822.1 152.7,809.4 154.1,825.2 155.6,824.3 157.0,823.2 158.4,805.9 159.8,819.7 161.3,824.7 162.7,814.2 164.1,819.6 165.6,801.9 167.0,820.6 168.4,810.6 169.9,820.7 171.3,801.7 172.7,820.7 174.1,815.8 175.6,825.2 177.0,814.6 178.4,818.3 179.9,836.5 181.3,817.0 182.7,820.4 184.2,823.2 185.6,817.9 187.0,833.6 188.4,836.0 189.9,819.8 191.3,812.8 192.7,831.8 194.2,831.1 195.6,826.1 197.0,828.7 198.5,813.7 199.9,816.8 201.3,808.4 202.7,807.9 204.2,821.5 205.6,812.9 207.0,833.2 208.5,819.9 209.9,815.4 211.3,825.5 212.8,832.8 214.2,824.2 215.6,811.0 217.0,823.4 218.5,830.9 219.9,815.8 221.3,814.1 222.8,826.6 224.2,820.6 225.6,812.9 227.1,816.1 228.5,815.0 229.9,822.4 231.3,817.9 232.8,825.7 234.2,821.3 235.6,804.4 237.1,818.2 238.5,818.2 239.9,815.6 241.4,816.5 242.8,802.8 244.2,797.6 245.6,805.9 247.1,788.5 248.5,776.3 249.9,793.1 251.4,778.0 252.8,774.2 254.2,760.6 255.7,755.9 257.1,751.1 258.5,754.5 259.9,754.2 261.4,726.2 262.8,745.0 264.2,722.4 265.7,719.3 267.1,729.8 268.5,717.4 270.0,700.3 271.4,725.1 272.8,700.2 274.2,709.5 275.7,707.8 277.1,717.6 278.5,701.9 280.0,717.3 281.4,704.2 282.8,723.1 284.3,710.8 285.7,715.1 287.1,737.6 288.5,730.4 290.0,733.4 291.4,755.4 292.8,745.0 294.3,740.7 295.7,757.9 297.1,748.3 298.6,771.7 300.0,775.6 301.4,763.4 302.8,764.7 304.3,769.8 305.7,766.5 307.1,756.0 308.6,763.2 310.0,736.4 311.4,743.2 312.9,737.2 314.3,729.2 315.7,725.8 317.1,705.2 318.6,712.5 320.0,696.2 321.4,685.6 322.9,669.6 324.3,663.4 325.7,672.7 327.1,654.8 328.6,660.0 330.0,667.5 331.4,664.9 332.9,670.6 334.3,653.8 335.7,652.7 337.2,678.3 338.6,678.5 340.0,696.5 341.4,697.9 342.9,719.8 344.3,730.2 345.7,743.8 347.2,755.2 348.6,766.4 350.0,777.7 351.5,784.6 352.9,794.7 354.3,787.7 355.7,805.2 357.2,792.0 358.6,799.0 360.0,790.7 361.5,789.0 362.9,805.0 364.3,787.0 365.8,778.4 367.2,780.6 368.6,781.3 370.0,798.8 371.5,782.4 372.9,786.9 374.3,771.2 375.8,782.2 377.2,785.3 378.6,794.1 380.1,775.3 381.5,786.5 382.9,786.1 384.3,779.0 385.8,790.1 387.2,790.1 388.6,775.5 390.1,797.9 391.5,799.0 392.9,791.6 394.4,785.4 395.8,805.1 397.2,796.1 398.6,797.9 400.1,801.4 401.5,785.9 402.9,794.9" fill="none" stroke="#008000" stroke-width="1.9" stroke-linejoin="round" />
<polyline points="71.2,830.2 72.6,814.6 74.1,831.1 75.5,814.6 76.9,822.1 78.3,826.8 79.8,823.3 81.2,814.2 82.6,817.2 84.1,818.8 85.5,822.3 86.9,832.5 88.4,816.8 89.8,828.8 91.2,830.1 92.6,830.5 94.1,829.4 95.5,835.2 96.9,829.8 98.4,831.5 99.8,828.3 101.2,835.3 102.7,812.6 104.1,833.0 105.5,822.5 106.9,822.0 108.4,818.5 109.8,809.8 111.2,820.1 112.7,816.2 114.1,825.0 115.5,810.4 117.0,829.5 118.4,821.3 119.8,816.8 121.2,812.0 122.7,812.9 124.1,812.3 125.5,815.7 127.0,819.1 128.4,817.6 129.8,810.2 131.3,817.5 132.7,813.6 134.1,820.3 135.5,831.7 137.0,822.3 138.4,817.6 139.8,809.4 141.3,810.9 142.7,807.3 144.1,824.6 145.5,815.1 147.0,821.4 148.4,817.1 149.8,822.8 151.3,830.6 152.7,815.8 154.1,819.7 155.6,819.2 157.0,829.1 158.4,815.3 159.8,814.2 161.3,811.2 162.7,808.6 164.1,822.0 165.6,835.4 167.0,809.5 168.4,821.9 169.9,817.3 171.3,809.4 172.7,815.9 174.1,817.3 175.6,815.4 177.0,832.7 178.4,807.8 179.9,825.4 181.3,824.9 182.7,818.5 184.2,823.4 185.6,828.3 187.0,823.2 188.4,826.8 189.9,829.8 191.3,812.1 192.7,833.6 194.2,837.2 195.6,829.8 197.0,830.2 198.5,815.9 199.9,824.1 201.3,816.1 202.7,815.8 204.2,826.7 205.6,813.9 207.0,818.7 208.5,806.5 209.9,818.2 211.3,817.3 212.8,811.1 214.2,813.5 215.6,830.8 217.0,809.7 218.5,810.5 219.9,812.0 221.3,826.0 222.8,830.0 224.2,818.0 225.6,812.0 227.1,812.4 228.5,822.3 229.9,807.8 231.3,824.9 232.8,825.1 234.2,814.2 235.6,816.2 237.1,814.0 238.5,817.4 239.9,798.4 241.4,810.7 242.8,798.2 244.2,789.5 245.6,790.0 247.1,782.4 248.5,772.9 249.9,761.8 251.4,760.2 252.8,771.8 254.2,767.9 255.7,748.1 257.1,746.2 258.5,724.5 259.9,719.1 261.4,715.8 262.8,699.0 264.2,692.7 265.7,697.9 267.1,690.9 268.5,681.1 270.0,691.7 271.4,683.8 272.8,696.7 274.2,687.2 275.7,685.2 277.1,691.3 278.5,691.0 280.0,690.7 281.4,698.7 282.8,714.0 284.3,719.5 285.7,732.4 287.1,712.0 288.5,731.0 290.0,736.1 291.4,744.8 292.8,742.9 294.3,746.2 295.7,760.7 297.1,760.2 298.6,750.4 300.0,771.7 301.4,767.9 302.8,755.4 304.3,764.1 305.7,750.3 307.1,760.0 308.6,743.8 310.0,731.6 311.4,727.8 312.9,715.4 314.3,713.7 315.7,706.4 317.1,695.2 318.6,681.1 320.0,643.9 321.4,669.7 322.9,640.5 324.3,655.4 325.7,660.3 327.1,647.0 328.6,634.9 330.0,637.5 331.4,637.1 332.9,637.0 334.3,642.3 335.7,648.9 337.2,678.3 338.6,679.4 340.0,702.4 341.4,704.4 342.9,721.6 344.3,734.6 345.7,754.8 347.2,772.1 348.6,779.7 350.0,784.4 351.5,789.6 352.9,810.7 354.3,801.1 355.7,801.9 357.2,814.1 358.6,809.7 360.0,806.0 361.5,798.6 362.9,818.4 364.3,802.0 365.8,804.1 367.2,799.0 368.6,789.7 370.0,789.9 371.5,801.9 372.9,802.1 374.3,799.1 375.8,791.8 377.2,791.9 378.6,798.3 380.1,789.7 381.5,805.0 382.9,808.1 384.3,820.2 385.8,805.7 387.2,795.7 388.6,794.1 390.1,772.7 391.5,793.3 392.9,794.8 394.4,805.1 395.8,804.1 397.2,803.4 398.6,801.1 400.1,803.1 401.5,808.3 402.9,793.6" fill="none" stroke="#FF8000" stroke-width="1.9" stroke-linejoin="round" />
<path d="M71.9,541.6H402.5" stroke="#7a7a7a" stroke-width="0.9"/>
<path d="M402.5,540.9V846.8" stroke="#000" stroke-width="1.2"/>
<path d="M71.9,540.9V847.75M70.95,846.8H403.1" stroke="#000" stroke-width="1.9"/>
<path d="M89.51,846.8v-2.6M134.20,846.8v-4.6M178.88,846.8v-2.6M223.57,846.8v-4.6M268.25,846.8v-2.6M312.94,846.8v-4.6M357.62,846.8v-2.6M71.9,607.30h4.6M71.9,674.20h4.6M71.9,740.30h4.6M71.9,806.30h4.6" stroke="#000" stroke-width="1.6"/>
<path d="M79.0,554.3H118.0" stroke="#000000" stroke-width="3.2"/>
<path d="M79.0,574.6H118.0" stroke="#FF0000" stroke-width="3.2"/>
<path d="M79.0,598.5H118.0" stroke="#0000FF" stroke-width="3.2"/>
<path d="M79.0,622.3H118.0" stroke="#008000" stroke-width="3.2"/>
<path d="M79.0,646.5H118.0" stroke="#FF8000" stroke-width="3.2"/>
<text x="121.02" y="560.40" font-size="17.2" fill="#111" stroke="#111" stroke-width="0.3" textLength="76.96" lengthAdjust="spacingAndGlyphs" >0.4 ML FA</text>
<text x="120.61" y="579.70" font-size="17.2" fill="#111" stroke="#111" stroke-width="0.3" textLength="11.61" lengthAdjust="spacingAndGlyphs" >H</text>
<text x="131.86" y="585.30" font-size="12.8" fill="#111" stroke="#111" stroke-width="0.3" textLength="8.22" lengthAdjust="spacingAndGlyphs" >2</text>
<text x="138.98" y="579.70" font-size="17.2" fill="#111" stroke="#111" stroke-width="0.3" textLength="83.79" lengthAdjust="spacingAndGlyphs" >O/FA=0.3/1</text>
<text x="120.61" y="604.00" font-size="17.2" fill="#111" stroke="#111" stroke-width="0.3" textLength="11.61" lengthAdjust="spacingAndGlyphs" >H</text>
<text x="131.86" y="609.60" font-size="12.8" fill="#111" stroke="#111" stroke-width="0.3" textLength="8.22" lengthAdjust="spacingAndGlyphs" >2</text>
<text x="138.98" y="604.00" font-size="17.2" fill="#111" stroke="#111" stroke-width="0.3" textLength="83.79" lengthAdjust="spacingAndGlyphs" >O/FA=0.5/1</text>
<text x="120.61" y="628.30" font-size="17.2" fill="#111" stroke="#111" stroke-width="0.3" textLength="11.61" lengthAdjust="spacingAndGlyphs" >H</text>
<text x="131.86" y="633.90" font-size="12.8" fill="#111" stroke="#111" stroke-width="0.3" textLength="8.22" lengthAdjust="spacingAndGlyphs" >2</text>
<text x="138.98" y="628.30" font-size="17.2" fill="#111" stroke="#111" stroke-width="0.3" textLength="83.79" lengthAdjust="spacingAndGlyphs" >O/FA=1.1/1</text>
<text x="120.61" y="652.60" font-size="17.2" fill="#111" stroke="#111" stroke-width="0.3" textLength="11.61" lengthAdjust="spacingAndGlyphs" >H</text>
<text x="131.86" y="658.20" font-size="12.8" fill="#111" stroke="#111" stroke-width="0.3" textLength="8.22" lengthAdjust="spacingAndGlyphs" >2</text>
<text x="138.98" y="652.60" font-size="17.2" fill="#111" stroke="#111" stroke-width="0.3" textLength="83.79" lengthAdjust="spacingAndGlyphs" >O/FA=1.6/1</text>
<text x="116.71" y="868.20" font-size="21.6" fill="#111" stroke="#111" stroke-width="0.3" textLength="34.74" lengthAdjust="spacingAndGlyphs" >200</text>
<text x="206.29" y="868.20" font-size="21.6" fill="#111" stroke="#111" stroke-width="0.3" textLength="34.52" lengthAdjust="spacingAndGlyphs" >300</text>
<text x="296.08" y="868.20" font-size="21.6" fill="#111" stroke="#111" stroke-width="0.3" textLength="34.09" lengthAdjust="spacingAndGlyphs" >400</text>
<text x="385.03" y="868.20" font-size="21.6" fill="#111" stroke="#111" stroke-width="0.3" textLength="34.52" lengthAdjust="spacingAndGlyphs" >500</text>
<text transform="translate(49.80,773.39) rotate(-90)" x="0" y="0" font-size="21.6" fill="#111" stroke="#111" stroke-width="0.3" textLength="178.37" lengthAdjust="spacingAndGlyphs" >TPD signal / arb.unit</text>
<text x="218.46" y="892.70" font-size="21.6" fill="#111" stroke="#111" stroke-width="0.3" textLength="13.16" lengthAdjust="spacingAndGlyphs" font-style="italic" >T</text>
<text x="234.93" y="892.70" font-size="21.6" fill="#111" stroke="#111" stroke-width="0.3" textLength="28.20" lengthAdjust="spacingAndGlyphs" >(K)</text>
<text x="332.12" y="564.90" font-size="21.6" fill="#111" stroke="#111" stroke-width="0.3" textLength="30.69" lengthAdjust="spacingAndGlyphs" font-style="italic" >m/z</text>
<text x="368.71" y="564.90" font-size="21.6" fill="#111" stroke="#111" stroke-width="0.3" textLength="12.78" lengthAdjust="spacingAndGlyphs" >=</text>
<text x="385.00" y="564.90" font-size="21.6" fill="#111" stroke="#111" stroke-width="0.3" textLength="13.30" lengthAdjust="spacingAndGlyphs" >2</text>
<text x="276.59" y="579.00" font-size="21.6" fill="#111" stroke="#111" stroke-width="0.3" textLength="12.77" lengthAdjust="spacingAndGlyphs" >H</text>
<text x="290.40" y="584.00" font-size="15.0" fill="#111" stroke="#111" stroke-width="0.3" textLength="8.95" lengthAdjust="spacingAndGlyphs" >2</text>
<text x="243.91" y="690.60" font-size="21.6" fill="#111" stroke="#111" stroke-width="0.3" textLength="16.16" lengthAdjust="spacingAndGlyphs" >D</text>
<text x="346.16" y="652.50" font-size="21.6" fill="#111" stroke="#111" stroke-width="0.3" textLength="13.29" lengthAdjust="spacingAndGlyphs" >T</text>
<text x="367.82" y="764.70" font-size="21.6" fill="#111" stroke="#111" stroke-width="0.3" textLength="15.68" lengthAdjust="spacingAndGlyphs" >S</text>
<path d="M303.60,589.40L277.75,665.16" stroke="#000" stroke-width="1.6"/>
<path d="M275.00,673.20L274.80,662.04L281.99,664.49Z" fill="#000"/>
<path d="M303.60,589.40L326.75,621.69" stroke="#000" stroke-width="1.6"/>
<path d="M331.70,628.60L322.49,622.28L328.67,617.85Z" fill="#000"/>
<polyline points="486.6,838.1 487.7,837.1 488.8,840.5 489.9,839.8 491.0,838.1 492.1,835.5 493.2,836.7 494.3,836.3 495.4,836.7 496.5,836.4 497.6,837.1 498.7,835.9 499.8,837.7 500.9,837.0 502.0,836.9 503.1,837.7 504.2,837.5 505.3,839.1 506.4,837.4 507.5,838.4 508.6,837.6 509.7,836.3 510.8,838.7 511.9,836.8 513.0,837.9 514.1,837.1 515.2,834.9 516.3,836.0 517.4,836.3 518.5,836.6 519.6,836.1 520.8,838.3 521.9,837.0 523.0,837.7 524.1,836.6 525.2,837.5 526.3,836.6 527.4,837.5 528.5,838.9 529.6,837.8 530.7,837.6 531.8,836.1 532.9,837.5 534.0,837.2 535.1,836.9 536.2,835.9 537.3,838.0 538.4,840.5 539.5,837.1 540.6,837.8 541.7,838.3 542.8,834.1 543.9,837.9 545.0,837.0 546.1,839.3 547.2,836.9 548.3,836.3 549.4,836.3 550.5,836.7 551.6,835.9 552.7,836.5 553.8,835.2 554.9,837.3 556.0,838.2 557.1,839.6 558.2,838.7 559.3,838.4 560.4,839.1 561.5,838.9 562.6,839.4 563.7,838.1 564.8,836.5 566.0,836.8 567.1,837.0 568.2,837.6 569.3,837.8 570.4,836.8 571.5,835.1 572.6,836.2 573.7,834.3 574.8,836.5 575.9,836.2 577.0,834.4 578.1,837.4 579.2,837.5 580.3,836.8 581.4,838.9 582.5,839.0 583.6,835.7 584.7,838.6 585.8,837.7 586.9,837.7 588.0,838.9 589.1,836.6 590.2,837.1 591.3,837.4 592.4,837.8 593.5,838.0 594.6,837.0 595.7,837.2 596.8,838.7 597.9,837.5 599.0,838.4 600.1,835.2 601.2,836.5 602.3,837.1 603.4,837.6 604.5,836.5 605.6,838.5 606.7,837.5 607.8,837.5 608.9,837.4 610.1,838.7 611.2,837.1 612.3,839.3 613.4,837.9 614.5,837.8 615.6,837.2 616.7,837.2 617.8,837.2 618.9,837.6 620.0,836.6 621.1,837.0 622.2,836.6 623.3,838.3 624.4,836.6 625.5,833.9 626.6,838.0 627.7,836.4 628.8,834.3 629.9,834.9 631.0,834.3 632.1,838.0 633.2,835.3 634.3,832.1 635.4,834.3 636.5,832.4 637.6,834.5 638.7,831.0 639.8,829.9 640.9,832.5 642.0,831.9 643.1,831.2 644.2,828.6 645.3,831.2 646.4,833.1 647.5,828.5 648.6,831.7 649.7,829.0 650.8,832.0 651.9,828.2 653.0,826.6 654.2,827.6 655.3,826.8 656.4,825.0 657.5,826.2 658.6,824.0 659.7,821.9 660.8,825.7 661.9,822.3 663.0,821.9 664.1,822.7 665.2,820.4 666.3,820.2 667.4,820.8 668.5,819.5 669.6,819.6 670.7,820.3 671.8,818.3 672.9,819.1 674.0,819.5 675.1,817.3 676.2,818.3 677.3,816.1 678.4,818.4 679.5,817.4 680.6,816.7 681.7,815.0 682.8,816.9 683.9,815.6 685.0,817.0 686.1,816.4 687.2,815.7 688.3,817.7 689.4,817.7 690.5,816.7 691.6,818.4 692.7,816.8 693.8,816.6 694.9,816.7 696.0,815.0 697.1,815.8 698.3,815.7 699.4,818.4 700.5,818.5 701.6,816.8 702.7,818.9 703.8,817.7 704.9,818.4 706.0,819.9 707.1,819.7 708.2,822.8 709.3,820.2 710.4,818.8 711.5,821.7 712.6,819.7 713.7,819.9 714.8,817.1 715.9,822.1 717.0,822.3 718.1,822.6 719.2,823.0 720.3,824.4 721.4,822.2 722.5,823.6 723.6,822.5 724.7,822.9 725.8,824.7 726.9,825.0 728.0,823.2 729.1,826.0 730.2,825.9 731.3,826.2 732.4,828.5 733.5,828.6 734.6,827.1 735.7,828.9 736.8,832.3 737.9,828.7 739.0,830.8 740.1,831.7 741.2,832.4 742.4,830.6 743.5,831.8 744.6,833.1 745.7,834.0 746.8,832.7 747.9,832.8 749.0,835.4 750.1,835.8 751.2,835.3 752.3,834.0 753.4,835.4 754.5,835.4 755.6,836.7 756.7,834.4 757.8,836.6 758.9,836.4 760.0,835.8 761.1,837.1 762.2,837.1 763.3,836.1 764.4,837.3 765.5,835.2 766.6,837.5 767.7,838.6 768.8,838.8 769.9,839.6 771.0,836.8 772.1,835.9 773.2,838.1 774.3,838.5 775.4,840.4 776.5,838.4 777.6,836.9 778.7,838.7 779.8,836.4 780.9,836.1 782.0,841.1 783.1,838.0 784.2,838.3 785.3,837.7 786.5,839.1 787.6,837.1 788.7,838.2 789.8,835.4 790.9,835.6 792.0,838.8 793.1,839.1 794.2,837.7 795.3,837.5 796.4,836.9 797.5,836.0 798.6,838.7 799.7,838.1 800.8,838.4 801.9,838.7 803.0,839.6 804.1,838.9 805.2,839.1 806.3,836.6 807.4,838.7 808.5,840.3 809.6,837.3 810.7,837.9 811.8,839.1 812.9,839.1 814.0,838.7 815.1,835.4 816.2,838.3 817.3,836.1 818.4,836.1" fill="none" stroke="#000000" stroke-width="1.9" stroke-linejoin="round" />
<polyline points="486.6,837.3 487.7,835.8 488.8,833.9 489.9,832.9 491.0,834.2 492.1,837.1 493.2,837.0 494.3,836.7 495.4,837.5 496.5,837.5 497.6,834.3 498.7,836.4 499.8,836.2 500.9,835.6 502.0,836.1 503.1,836.1 504.2,835.6 505.3,834.1 506.4,835.4 507.5,838.7 508.6,835.1 509.7,835.0 510.8,837.0 511.9,837.2 513.0,837.1 514.1,835.2 515.2,837.2 516.3,835.4 517.4,835.7 518.5,835.9 519.6,836.7 520.8,837.8 521.9,837.5 523.0,836.3 524.1,837.8 525.2,837.0 526.3,837.9 527.4,835.1 528.5,834.9 529.6,837.9 530.7,835.0 531.8,836.6 532.9,836.9 534.0,836.5 535.1,836.5 536.2,838.5 537.3,833.4 538.4,837.2 539.5,838.9 540.6,836.0 541.7,835.9 542.8,837.1 543.9,838.8 545.0,834.7 546.1,836.8 547.2,836.8 548.3,837.6 549.4,837.2 550.5,838.3 551.6,836.4 552.7,837.5 553.8,836.4 554.9,836.1 556.0,836.9 557.1,836.8 558.2,835.0 559.3,838.7 560.4,837.2 561.5,835.3 562.6,838.5 563.7,836.5 564.8,837.9 566.0,836.4 567.1,837.1 568.2,837.0 569.3,836.1 570.4,837.1 571.5,840.0 572.6,834.9 573.7,837.7 574.8,837.7 575.9,835.7 577.0,835.1 578.1,839.1 579.2,836.0 580.3,839.0 581.4,837.6 582.5,837.5 583.6,838.0 584.7,838.2 585.8,839.0 586.9,838.1 588.0,837.3 589.1,837.5 590.2,838.7 591.3,838.2 592.4,835.4 593.5,835.9 594.6,836.9 595.7,835.9 596.8,836.2 597.9,836.0 599.0,836.6 600.1,837.8 601.2,838.1 602.3,837.0 603.4,839.2 604.5,836.6 605.6,840.2 606.7,838.0 607.8,836.7 608.9,835.6 610.1,832.3 611.2,835.7 612.3,835.2 613.4,837.4 614.5,832.8 615.6,837.4 616.7,834.0 617.8,835.4 618.9,831.3 620.0,834.2 621.1,832.8 622.2,834.1 623.3,832.9 624.4,831.3 625.5,833.7 626.6,832.8 627.7,831.8 628.8,831.7 629.9,831.2 631.0,829.2 632.1,826.6 633.2,825.4 634.3,827.3 635.4,825.1 636.5,822.7 637.6,820.2 638.7,819.3 639.8,817.6 640.9,815.4 642.0,812.7 643.1,814.3 644.2,809.9 645.3,806.3 646.4,802.3 647.5,801.0 648.6,800.2 649.7,797.0 650.8,792.7 651.9,790.3 653.0,786.9 654.2,782.2 655.3,781.4 656.4,777.7 657.5,776.5 658.6,769.1 659.7,766.5 660.8,764.8 661.9,759.7 663.0,755.5 664.1,753.0 665.2,750.8 666.3,748.2 667.4,745.6 668.5,744.1 669.6,741.4 670.7,739.3 671.8,737.8 672.9,736.0 674.0,736.3 675.1,737.3 676.2,737.1 677.3,739.1 678.4,739.9 679.5,741.0 680.6,744.3 681.7,749.8 682.8,752.7 683.9,757.8 685.0,759.8 686.1,764.8 687.2,769.2 688.3,773.0 689.4,775.8 690.5,780.8 691.6,785.6 692.7,788.6 693.8,795.2 694.9,800.5 696.0,803.2 697.1,810.4 698.3,811.5 699.4,815.0 700.5,817.7 701.6,819.4 702.7,822.1 703.8,823.0 704.9,825.2 706.0,824.0 707.1,823.8 708.2,822.9 709.3,820.9 710.4,821.9 711.5,820.5 712.6,822.0 713.7,820.9 714.8,823.0 715.9,822.5 717.0,822.9 718.1,822.4 719.2,822.3 720.3,822.8 721.4,823.1 722.5,821.3 723.6,822.8 724.7,825.6 725.8,822.7 726.9,822.6 728.0,822.6 729.1,822.8 730.2,826.4 731.3,825.4 732.4,825.8 733.5,827.9 734.6,828.7 735.7,824.8 736.8,827.8 737.9,828.6 739.0,828.7 740.1,829.4 741.2,829.6 742.4,832.2 743.5,831.0 744.6,831.3 745.7,833.4 746.8,833.7 747.9,833.5 749.0,834.1 750.1,835.9 751.2,834.3 752.3,834.0 753.4,833.0 754.5,834.0 755.6,834.0 756.7,835.9 757.8,835.8 758.9,833.2 760.0,835.3 761.1,836.2 762.2,835.6 763.3,834.9 764.4,837.7 765.5,835.6 766.6,834.8 767.7,834.9 768.8,835.8 769.9,837.3 771.0,838.0 772.1,837.0 773.2,835.0 774.3,835.4 775.4,835.0 776.5,835.8 777.6,833.8 778.7,836.2 779.8,837.2 780.9,836.5 782.0,837.2 783.1,835.6 784.2,834.8 785.3,835.8 786.5,837.9 787.6,837.5 788.7,835.4 789.8,837.5 790.9,836.1 792.0,838.3 793.1,837.7 794.2,836.8 795.3,838.3 796.4,835.8 797.5,835.4 798.6,834.8 799.7,837.0 800.8,836.9 801.9,837.3 803.0,837.1 804.1,838.9 805.2,836.6 806.3,836.2 807.4,838.5 808.5,838.9 809.6,837.7 810.7,835.0 811.8,836.1 812.9,837.2 814.0,836.6 815.1,837.9 816.2,834.6 817.3,837.6 818.4,836.2" fill="none" stroke="#FF0000" stroke-width="1.9" stroke-linejoin="round" />
<polyline points="486.6,835.2 487.7,836.5 488.8,838.0 489.9,836.0 491.0,837.4 492.1,836.4 493.2,835.7 494.3,840.1 495.4,836.0 496.5,835.7 497.6,835.6 498.7,837.1 499.8,836.8 500.9,837.3 502.0,835.7 503.1,834.1 504.2,836.3 505.3,835.7 506.4,835.7 507.5,834.4 508.6,835.6 509.7,835.3 510.8,835.5 511.9,834.1 513.0,835.7 514.1,835.4 515.2,834.4 516.3,835.2 517.4,835.0 518.5,837.3 519.6,833.6 520.8,836.3 521.9,834.8 523.0,836.0 524.1,837.5 525.2,835.4 526.3,836.3 527.4,834.9 528.5,838.5 529.6,837.2 530.7,837.2 531.8,833.5 532.9,834.7 534.0,837.1 535.1,835.9 536.2,835.9 537.3,837.3 538.4,834.4 539.5,836.8 540.6,836.3 541.7,837.0 542.8,835.3 543.9,837.4 545.0,835.8 546.1,837.2 547.2,837.8 548.3,837.5 549.4,837.0 550.5,837.2 551.6,833.3 552.7,837.3 553.8,836.3 554.9,836.8 556.0,836.4 557.1,834.4 558.2,835.6 559.3,836.9 560.4,837.4 561.5,834.5 562.6,834.5 563.7,837.4 564.8,834.1 566.0,837.8 567.1,835.9 568.2,835.3 569.3,837.4 570.4,838.4 571.5,834.7 572.6,838.6 573.7,836.3 574.8,838.5 575.9,835.9 577.0,834.4 578.1,836.6 579.2,836.7 580.3,838.4 581.4,838.3 582.5,837.4 583.6,836.3 584.7,836.2 585.8,836.1 586.9,835.3 588.0,836.4 589.1,833.2 590.2,836.3 591.3,836.5 592.4,839.6 593.5,836.7 594.6,835.2 595.7,836.7 596.8,834.5 597.9,835.6 599.0,834.3 600.1,838.8 601.2,837.4 602.3,835.0 603.4,835.9 604.5,837.1 605.6,836.4 606.7,836.7 607.8,834.9 608.9,835.6 610.1,836.2 611.2,836.7 612.3,834.2 613.4,833.7 614.5,835.9 615.6,833.5 616.7,835.9 617.8,834.9 618.9,835.7 620.0,836.5 621.1,834.5 622.2,834.3 623.3,831.6 624.4,831.3 625.5,832.4 626.6,833.3 627.7,832.1 628.8,832.3 629.9,829.2 631.0,828.3 632.1,828.3 633.2,826.6 634.3,826.0 635.4,823.7 636.5,824.5 637.6,820.1 638.7,819.8 639.8,815.1 640.9,816.0 642.0,811.2 643.1,811.2 644.2,805.8 645.3,804.6 646.4,803.5 647.5,797.9 648.6,795.5 649.7,791.1 650.8,784.6 651.9,783.7 653.0,779.6 654.2,773.1 655.3,770.5 656.4,764.8 657.5,759.3 658.6,755.3 659.7,749.4 660.8,747.4 661.9,737.0 663.0,734.9 664.1,730.1 665.2,721.3 666.3,716.8 667.4,714.4 668.5,708.0 669.6,704.0 670.7,700.2 671.8,694.0 672.9,689.6 674.0,684.0 675.1,684.7 676.2,680.5 677.3,680.4 678.4,679.5 679.5,677.6 680.6,682.1 681.7,683.7 682.8,686.1 683.9,686.5 685.0,691.6 686.1,696.4 687.2,702.7 688.3,708.3 689.4,716.8 690.5,724.0 691.6,732.3 692.7,739.6 693.8,750.9 694.9,760.3 696.0,767.5 697.1,780.2 698.3,791.2 699.4,801.6 700.5,807.2 701.6,812.3 702.7,815.9 703.8,819.4 704.9,819.2 706.0,819.8 707.1,820.1 708.2,822.4 709.3,821.6 710.4,820.1 711.5,823.0 712.6,820.8 713.7,821.0 714.8,820.7 715.9,821.3 717.0,820.8 718.1,819.1 719.2,820.3 720.3,819.4 721.4,823.4 722.5,821.8 723.6,823.4 724.7,821.4 725.8,819.0 726.9,823.6 728.0,822.5 729.1,822.9 730.2,823.5 731.3,825.3 732.4,825.5 733.5,823.3 734.6,826.9 735.7,825.3 736.8,825.5 737.9,829.2 739.0,828.9 740.1,828.4 741.2,827.0 742.4,829.8 743.5,831.0 744.6,830.6 745.7,829.8 746.8,831.0 747.9,831.4 749.0,833.6 750.1,834.8 751.2,835.5 752.3,833.2 753.4,834.7 754.5,834.9 755.6,833.8 756.7,834.1 757.8,837.5 758.9,835.6 760.0,836.2 761.1,834.8 762.2,835.3 763.3,833.5 764.4,835.1 765.5,837.2 766.6,838.3 767.7,837.6 768.8,837.0 769.9,836.3 771.0,835.5 772.1,835.8 773.2,836.7 774.3,835.0 775.4,837.0 776.5,835.0 777.6,833.9 778.7,834.3 779.8,833.0 780.9,833.4 782.0,836.1 783.1,835.0 784.2,836.0 785.3,837.6 786.5,837.7 787.6,835.3 788.7,837.2 789.8,836.6 790.9,835.4 792.0,836.0 793.1,834.4 794.2,835.6 795.3,835.7 796.4,837.2 797.5,836.2 798.6,836.5 799.7,837.4 800.8,838.4 801.9,837.6 803.0,838.3 804.1,836.3 805.2,836.6 806.3,836.8 807.4,836.1 808.5,836.0 809.6,838.4 810.7,836.4 811.8,836.4 812.9,837.8 814.0,839.2 815.1,836.8 816.2,838.1 817.3,835.5 818.4,836.1" fill="none" stroke="#0000FF" stroke-width="1.9" stroke-linejoin="round" />
<polyline points="486.6,834.4 487.7,834.6 488.8,832.6 489.9,835.0 491.0,833.8 492.1,834.6 493.2,833.1 494.3,834.3 495.4,835.4 496.5,833.6 497.6,835.2 498.7,835.6 499.8,834.5 500.9,833.9 502.0,836.9 503.1,835.4 504.2,835.3 505.3,831.9 506.4,831.8 507.5,831.9 508.6,833.7 509.7,836.6 510.8,835.4 511.9,835.1 513.0,834.7 514.1,835.3 515.2,833.4 516.3,834.9 517.4,834.5 518.5,831.7 519.6,833.9 520.8,836.6 521.9,834.5 523.0,834.6 524.1,834.6 525.2,834.7 526.3,836.3 527.4,834.3 528.5,832.8 529.6,829.7 530.7,833.0 531.8,831.6 532.9,831.7 534.0,835.5 535.1,835.1 536.2,831.6 537.3,835.0 538.4,834.9 539.5,833.1 540.6,835.7 541.7,833.4 542.8,833.6 543.9,833.4 545.0,833.6 546.1,835.3 547.2,832.3 548.3,832.6 549.4,832.8 550.5,834.4 551.6,834.1 552.7,835.6 553.8,834.1 554.9,833.3 556.0,834.0 557.1,835.0 558.2,833.8 559.3,835.0 560.4,837.0 561.5,835.0 562.6,835.5 563.7,837.1 564.8,834.0 566.0,833.6 567.1,832.6 568.2,834.4 569.3,834.5 570.4,833.9 571.5,834.7 572.6,836.1 573.7,835.5 574.8,832.8 575.9,834.3 577.0,834.2 578.1,835.3 579.2,834.2 580.3,834.1 581.4,834.6 582.5,833.0 583.6,834.7 584.7,833.7 585.8,834.4 586.9,832.5 588.0,833.0 589.1,832.7 590.2,832.5 591.3,834.5 592.4,832.7 593.5,834.2 594.6,832.0 595.7,833.9 596.8,831.7 597.9,833.8 599.0,833.3 600.1,834.8 601.2,833.9 602.3,834.0 603.4,835.0 604.5,834.4 605.6,835.0 606.7,835.6 607.8,834.2 608.9,833.9 610.1,834.5 611.2,833.0 612.3,833.9 613.4,834.4 614.5,833.9 615.6,832.2 616.7,830.9 617.8,832.4 618.9,831.7 620.0,832.4 621.1,830.2 622.2,829.7 623.3,829.3 624.4,827.7 625.5,827.4 626.6,827.9 627.7,826.7 628.8,824.5 629.9,822.0 631.0,818.7 632.1,819.0 633.2,815.9 634.3,814.1 635.4,810.9 636.5,809.0 637.6,806.0 638.7,804.0 639.8,801.9 640.9,796.9 642.0,790.2 643.1,786.7 644.2,781.6 645.3,778.0 646.4,774.6 647.5,769.4 648.6,762.1 649.7,756.9 650.8,748.9 651.9,741.7 653.0,734.6 654.2,728.2 655.3,723.2 656.4,712.0 657.5,706.9 658.6,699.1 659.7,690.1 660.8,682.1 661.9,673.5 663.0,665.7 664.1,658.4 665.2,648.3 666.3,641.4 667.4,634.2 668.5,626.1 669.6,619.6 670.7,613.6 671.8,608.6 672.9,601.8 674.0,599.5 675.1,595.3 676.2,591.6 677.3,594.4 678.4,591.7 679.5,594.7 680.6,600.2 681.7,602.6 682.8,609.6 683.9,615.8 685.0,624.7 686.1,635.0 687.2,644.8 688.3,656.3 689.4,667.3 690.5,679.5 691.6,690.7 692.7,702.8 693.8,719.0 694.9,731.9 696.0,746.2 697.1,764.0 698.3,776.7 699.4,788.4 700.5,798.3 701.6,805.8 702.7,807.9 703.8,813.0 704.9,813.4 706.0,815.7 707.1,815.5 708.2,817.9 709.3,816.5 710.4,814.4 711.5,815.1 712.6,813.3 713.7,814.7 714.8,815.5 715.9,815.5 717.0,813.1 718.1,814.8 719.2,816.3 720.3,815.5 721.4,815.9 722.5,813.4 723.6,816.3 724.7,815.2 725.8,817.1 726.9,817.9 728.0,818.4 729.1,817.5 730.2,818.5 731.3,817.4 732.4,817.8 733.5,820.7 734.6,820.7 735.7,819.8 736.8,821.3 737.9,823.2 739.0,825.9 740.1,825.9 741.2,825.9 742.4,823.7 743.5,826.1 744.6,827.3 745.7,827.7 746.8,828.8 747.9,828.3 749.0,831.6 750.1,832.2 751.2,830.5 752.3,829.5 753.4,833.9 754.5,831.4 755.6,833.9 756.7,835.3 757.8,832.1 758.9,833.7 760.0,833.0 761.1,833.6 762.2,833.1 763.3,835.6 764.4,833.7 765.5,833.4 766.6,835.2 767.7,833.8 768.8,833.7 769.9,837.4 771.0,833.8 772.1,834.1 773.2,834.7 774.3,833.3 775.4,832.4 776.5,836.1 777.6,833.8 778.7,834.1 779.8,834.2 780.9,833.0 782.0,832.7 783.1,835.0 784.2,837.3 785.3,835.8 786.5,835.9 787.6,833.0 788.7,834.2 789.8,833.1 790.9,835.2 792.0,834.1 793.1,834.3 794.2,834.5 795.3,833.9 796.4,833.1 797.5,835.5 798.6,833.8 799.7,833.9 800.8,835.3 801.9,834.4 803.0,835.3 804.1,836.1 805.2,835.2 806.3,835.4 807.4,834.7 808.5,835.8 809.6,832.7 810.7,834.9 811.8,832.7 812.9,833.4 814.0,835.2 815.1,834.3 816.2,836.1 817.3,837.1 818.4,832.6" fill="none" stroke="#008000" stroke-width="1.9" stroke-linejoin="round" />
<polyline points="486.6,838.7 487.7,838.2 488.8,836.6 489.9,837.0 491.0,837.9 492.1,837.3 493.2,839.7 494.3,837.1 495.4,834.3 496.5,837.1 497.6,837.6 498.7,837.6 499.8,837.2 500.9,835.8 502.0,838.9 503.1,836.0 504.2,837.2 505.3,835.7 506.4,835.0 507.5,837.9 508.6,833.2 509.7,835.8 510.8,837.4 511.9,837.1 513.0,838.5 514.1,838.1 515.2,837.4 516.3,840.9 517.4,837.3 518.5,837.4 519.6,836.0 520.8,836.2 521.9,837.5 523.0,837.3 524.1,836.2 525.2,835.0 526.3,836.8 527.4,833.9 528.5,835.8 529.6,836.4 530.7,835.5 531.8,836.8 532.9,836.2 534.0,836.0 535.1,838.8 536.2,838.0 537.3,838.9 538.4,837.7 539.5,838.8 540.6,839.2 541.7,840.0 542.8,841.1 543.9,837.7 545.0,838.7 546.1,837.6 547.2,833.1 548.3,835.8 549.4,837.4 550.5,837.8 551.6,836.1 552.7,837.9 553.8,837.6 554.9,836.3 556.0,838.9 557.1,840.0 558.2,838.7 559.3,837.6 560.4,840.3 561.5,838.3 562.6,837.9 563.7,838.2 564.8,837.3 566.0,838.8 567.1,837.9 568.2,838.0 569.3,837.5 570.4,836.0 571.5,836.6 572.6,838.5 573.7,837.6 574.8,841.4 575.9,837.3 577.0,837.1 578.1,839.0 579.2,838.1 580.3,837.0 581.4,837.0 582.5,837.3 583.6,837.6 584.7,837.8 585.8,836.9 586.9,837.9 588.0,839.0 589.1,839.0 590.2,834.1 591.3,836.5 592.4,836.4 593.5,836.9 594.6,837.5 595.7,838.7 596.8,838.6 597.9,837.5 599.0,837.5 600.1,839.2 601.2,836.3 602.3,837.3 603.4,838.9 604.5,837.3 605.6,834.6 606.7,837.1 607.8,836.0 608.9,836.2 610.1,837.9 611.2,836.8 612.3,836.0 613.4,837.4 614.5,836.4 615.6,835.4 616.7,835.2 617.8,834.0 618.9,832.4 620.0,831.3 621.1,831.0 622.2,829.0 623.3,828.0 624.4,830.2 625.5,826.6 626.6,825.4 627.7,823.3 628.8,821.7 629.9,819.3 631.0,818.0 632.1,814.9 633.2,814.4 634.3,809.7 635.4,808.8 636.5,801.4 637.6,798.6 638.7,797.5 639.8,791.6 640.9,786.2 642.0,783.7 643.1,776.4 644.2,771.6 645.3,762.7 646.4,758.5 647.5,750.6 648.6,745.0 649.7,738.1 650.8,728.5 651.9,723.4 653.0,712.1 654.2,701.5 655.3,692.4 656.4,688.1 657.5,677.2 658.6,667.4 659.7,658.2 660.8,648.6 661.9,642.6 663.0,631.5 664.1,625.1 665.2,614.3 666.3,603.3 667.4,599.0 668.5,590.5 669.6,583.9 670.7,580.2 671.8,573.5 672.9,571.3 674.0,566.7 675.1,564.1 676.2,565.9 677.3,566.1 678.4,571.8 679.5,576.9 680.6,582.2 681.7,590.0 682.8,598.7 683.9,607.2 685.0,618.8 686.1,628.2 687.2,640.5 688.3,650.5 689.4,664.0 690.5,677.3 691.6,689.4 692.7,704.5 693.8,719.9 694.9,737.5 696.0,751.7 697.1,768.2 698.3,783.5 699.4,793.4 700.5,800.1 701.6,809.4 702.7,815.4 703.8,816.9 704.9,820.9 706.0,821.4 707.1,821.1 708.2,820.9 709.3,820.4 710.4,820.8 711.5,821.4 712.6,821.7 713.7,821.2 714.8,820.2 715.9,820.0 717.0,819.8 718.1,817.6 719.2,818.7 720.3,818.4 721.4,819.4 722.5,819.8 723.6,819.8 724.7,819.2 725.8,822.1 726.9,822.5 728.0,820.1 729.1,822.6 730.2,822.1 731.3,825.3 732.4,823.0 733.5,823.9 734.6,825.6 735.7,825.2 736.8,825.8 737.9,828.1 739.0,827.5 740.1,828.7 741.2,829.9 742.4,828.6 743.5,832.8 744.6,831.9 745.7,832.7 746.8,831.5 747.9,834.2 749.0,834.0 750.1,833.5 751.2,837.3 752.3,835.4 753.4,834.3 754.5,835.1 755.6,836.1 756.7,836.5 757.8,836.4 758.9,837.7 760.0,838.3 761.1,834.9 762.2,836.2 763.3,835.4 764.4,836.4 765.5,837.7 766.6,837.5 767.7,835.6 768.8,836.6 769.9,838.1 771.0,836.5 772.1,836.7 773.2,837.4 774.3,834.7 775.4,837.7 776.5,837.1 777.6,837.5 778.7,835.3 779.8,836.1 780.9,837.2 782.0,838.2 783.1,837.9 784.2,837.5 785.3,839.4 786.5,838.5 787.6,836.1 788.7,836.6 789.8,839.9 790.9,837.7 792.0,839.6 793.1,839.7 794.2,836.7 795.3,836.7 796.4,836.3 797.5,835.2 798.6,835.5 799.7,836.8 800.8,838.7 801.9,837.5 803.0,837.4 804.1,837.1 805.2,835.7 806.3,839.0 807.4,834.6 808.5,837.0 809.6,837.8 810.7,835.5 811.8,838.1 812.9,838.6 814.0,835.9 815.1,838.0 816.2,836.6 817.3,839.0 818.4,838.3" fill="none" stroke="#FF8000" stroke-width="1.9" stroke-linejoin="round" />
<path d="M487.5,543.0H818.2" stroke="#000" stroke-width="1.4"/>
<path d="M818.2,542.3V849.2" stroke="#000" stroke-width="1.4"/>
<path d="M487.5,542.3V850.0M486.7,849.2H818.8000000000001" stroke="#000" stroke-width="1.6"/>
<path d="M542.80,849.2v-4.6M597.92,849.2v-2.6M653.05,849.2v-4.6M708.17,849.2v-2.6M763.30,849.2v-4.6M487.5,580.70h2.6M487.5,619.50h4.6M487.5,657.60h2.6M487.5,695.60h4.6M487.5,733.70h2.6M487.5,773.40h4.6M487.5,811.40h2.6" stroke="#000" stroke-width="1.6"/>
<path d="M499.5,557.3H536.6" stroke="#000000" stroke-width="3.2"/>
<path d="M499.5,577.2H536.6" stroke="#FF0000" stroke-width="3.2"/>
<path d="M499.5,601.4H536.6" stroke="#0000FF" stroke-width="3.2"/>
<path d="M499.5,625.4H536.6" stroke="#008000" stroke-width="3.2"/>
<path d="M499.5,649.5H536.6" stroke="#FF8000" stroke-width="3.2"/>
<text x="540.92" y="563.10" font-size="17.2" fill="#111" stroke="#111" stroke-width="0.3" textLength="76.96" lengthAdjust="spacingAndGlyphs" >0.4 ML FA</text>
<text x="540.51" y="582.40" font-size="17.2" fill="#111" stroke="#111" stroke-width="0.3" textLength="11.61" lengthAdjust="spacingAndGlyphs" >H</text>
<text x="551.76" y="588.00" font-size="12.8" fill="#111" stroke="#111" stroke-width="0.3" textLength="8.22" lengthAdjust="spacingAndGlyphs" >2</text>
<text x="558.88" y="582.40" font-size="17.2" fill="#111" stroke="#111" stroke-width="0.3" textLength="83.79" lengthAdjust="spacingAndGlyphs" >O/FA=0.3/1</text>
<text x="540.51" y="606.60" font-size="17.2" fill="#111" stroke="#111" stroke-width="0.3" textLength="11.61" lengthAdjust="spacingAndGlyphs" >H</text>
<text x="551.76" y="612.20" font-size="12.8" fill="#111" stroke="#111" stroke-width="0.3" textLength="8.22" lengthAdjust="spacingAndGlyphs" >2</text>
<text x="558.88" y="606.60" font-size="17.2" fill="#111" stroke="#111" stroke-width="0.3" textLength="83.79" lengthAdjust="spacingAndGlyphs" >O/FA=0.5/1</text>
<text x="540.51" y="630.80" font-size="17.2" fill="#111" stroke="#111" stroke-width="0.3" textLength="11.61" lengthAdjust="spacingAndGlyphs" >H</text>
<text x="551.76" y="636.40" font-size="12.8" fill="#111" stroke="#111" stroke-width="0.3" textLength="8.22" lengthAdjust="spacingAndGlyphs" >2</text>
<text x="558.88" y="630.80" font-size="17.2" fill="#111" stroke="#111" stroke-width="0.3" textLength="83.79" lengthAdjust="spacingAndGlyphs" >O/FA=1.1/1</text>
<text x="540.51" y="655.00" font-size="17.2" fill="#111" stroke="#111" stroke-width="0.3" textLength="11.61" lengthAdjust="spacingAndGlyphs" >H</text>
<text x="551.76" y="660.60" font-size="12.8" fill="#111" stroke="#111" stroke-width="0.3" textLength="8.22" lengthAdjust="spacingAndGlyphs" >2</text>
<text x="558.88" y="655.00" font-size="17.2" fill="#111" stroke="#111" stroke-width="0.3" textLength="83.79" lengthAdjust="spacingAndGlyphs" >O/FA=1.6/1</text>
<text x="526.21" y="869.20" font-size="20.6" fill="#111" stroke="#111" stroke-width="0.3" textLength="33.16" lengthAdjust="spacingAndGlyphs" >300</text>
<text x="636.86" y="869.20" font-size="20.6" fill="#111" stroke="#111" stroke-width="0.3" textLength="32.74" lengthAdjust="spacingAndGlyphs" >400</text>
<text x="746.71" y="869.20" font-size="20.6" fill="#111" stroke="#111" stroke-width="0.3" textLength="33.16" lengthAdjust="spacingAndGlyphs" >500</text>
<text x="470.72" y="855.60" font-size="20.6" fill="#111" stroke="#111" stroke-width="0.3" textLength="13.18" lengthAdjust="spacingAndGlyphs" >2</text>
<text transform="translate(460.30,775.39) rotate(-90)" x="0" y="0" font-size="21.6" fill="#111" stroke="#111" stroke-width="0.3" textLength="177.57" lengthAdjust="spacingAndGlyphs" >TPD signal / arb.unit</text>
<text x="632.44" y="894.90" font-size="21.6" fill="#111" stroke="#111" stroke-width="0.3" textLength="12.64" lengthAdjust="spacingAndGlyphs" font-style="italic" >T</text>
<text x="649.16" y="894.90" font-size="21.6" fill="#111" stroke="#111" stroke-width="0.3" textLength="27.54" lengthAdjust="spacingAndGlyphs" >(K)</text>
<text x="738.40" y="565.10" font-size="21.6" fill="#111" stroke="#111" stroke-width="0.3" textLength="32.01" lengthAdjust="spacingAndGlyphs" font-style="italic" >m/z</text>
<text x="775.15" y="565.10" font-size="21.6" fill="#111" stroke="#111" stroke-width="0.3" textLength="13.38" lengthAdjust="spacingAndGlyphs" >=</text>
<text x="792.39" y="565.10" font-size="21.6" fill="#111" stroke="#111" stroke-width="0.3" textLength="22.97" lengthAdjust="spacingAndGlyphs" >44</text>
<text x="688.92" y="571.20" font-size="21.6" fill="#111" stroke="#111" stroke-width="0.3" textLength="14.57" lengthAdjust="spacingAndGlyphs" >T</text>
<text x="751.54" y="613.80" font-size="21.6" fill="#111" stroke="#111" stroke-width="0.3" textLength="31.93" lengthAdjust="spacingAndGlyphs" >CO</text>
<text x="780.96" y="619.90" font-size="15.0" fill="#111" stroke="#111" stroke-width="0.3" textLength="9.31" lengthAdjust="spacingAndGlyphs" >2</text>
<text x="720.96" y="808.00" font-size="21.6" fill="#111" stroke="#111" stroke-width="0.3" textLength="16.50" lengthAdjust="spacingAndGlyphs" >S</text>
<path d="M745.50,614.50L697.03,641.47" stroke="#000" stroke-width="1.6"/>
<path d="M689.60,645.60L696.93,637.17L700.62,643.82Z" fill="#000"/>
<polyline points="893.1,847.7 894.1,847.7 895.1,847.7 896.0,847.7 897.0,847.7 898.0,847.7 899.0,847.7 899.9,847.7 900.9,847.7 901.9,847.7 902.9,847.7 903.8,847.7 904.8,847.7 905.8,847.7 906.7,847.7 907.7,847.7 908.7,847.7 909.7,847.7 910.6,847.7 911.6,847.7 912.6,847.7 913.6,847.7 914.5,847.7 915.5,847.7 916.5,847.7 917.5,847.7 918.4,847.7 919.4,847.7 920.4,847.7 921.3,847.7 922.3,847.7 923.3,847.7 924.3,847.7 925.2,847.7 926.2,847.6 927.2,847.6 928.2,847.6 929.1,847.6 930.1,847.6 931.1,847.6 932.1,847.6 933.0,847.6 934.0,847.5 935.0,847.5 935.9,847.5 936.9,847.4 937.9,847.4 938.9,847.4 939.8,847.3 940.8,847.2 941.8,847.2 942.8,847.1 943.7,847.0 944.7,846.9 945.7,846.8 946.7,846.6 947.6,846.5 948.6,846.3 949.6,846.1 950.5,845.8 951.5,845.6 952.5,845.2 953.5,844.9 954.4,844.5 955.4,844.0 956.4,843.4 957.4,842.8 958.3,842.1 959.3,841.3 960.3,840.3 961.3,839.3 962.2,838.1 963.2,836.7 964.2,835.1 965.1,833.3 966.1,831.3 967.1,829.0 968.1,826.4 969.0,823.5 970.0,820.1 971.0,816.4 972.0,812.1 972.9,807.3 973.9,801.9 974.9,795.9 975.9,789.1 976.8,781.4 977.8,772.9 978.8,763.4 979.7,752.8 980.7,741.0 981.7,728.0 982.7,713.6 983.6,697.8 984.6,680.5 985.4,665.7 985.6,661.9 986.6,641.9 987.5,620.9 988.5,599.9 988.9,592.7 989.5,628.2 990.5,676.8 991.4,714.6 991.6,721.1 992.4,744.0 993.4,767.0 994.3,784.8 994.7,790.8 995.3,798.7 996.3,809.6 997.3,818.0 998.2,824.6 999.2,829.7 1000.2,831.5 1001.2,831.8 1002.1,832.1 1003.1,832.8 1004.1,833.1 1005.1,833.2 1006.0,833.3 1007.0,833.6 1008.0,833.8 1008.9,834.1 1009.9,834.6 1010.9,834.9 1011.9,835.2 1012.8,835.5 1013.8,835.5 1014.8,835.6 1015.8,836.1 1016.7,836.5 1017.7,836.6 1018.7,836.8 1019.7,836.8 1020.6,837.3 1021.6,837.7 1022.6,837.5 1023.5,837.6 1024.5,837.8 1025.5,838.1 1026.5,838.3 1027.4,838.5 1028.4,838.4 1029.4,838.9 1030.4,839.1 1031.3,839.0 1032.3,839.3 1033.3,839.8 1034.3,839.8 1035.2,840.4 1036.2,840.2 1037.2,840.4 1038.1,840.9 1039.1,840.5 1040.1,840.7 1041.1,840.9 1042.0,840.7 1043.0,840.9 1044.0,841.0 1045.0,840.8 1045.9,841.1 1046.9,841.1 1047.9,841.0 1048.9,841.4 1049.8,841.5 1050.8,841.4 1051.8,841.6 1052.7,841.9 1053.7,842.1 1054.7,842.5 1055.7,842.4 1056.6,842.6 1057.6,842.8 1058.6,843.1 1059.6,843.2 1060.5,843.2 1061.5,842.9 1062.5,843.3 1063.5,843.6 1064.4,843.7 1065.4,843.7 1066.4,843.6 1067.3,843.6 1068.3,843.9 1069.3,843.7 1070.3,843.6 1071.2,843.4 1072.2,843.4 1073.2,843.7 1074.2,843.8 1075.1,843.9 1076.1,843.7 1077.1,843.9 1078.1,844.1 1079.0,844.0 1080.0,843.8 1081.0,844.0 1081.9,843.9 1082.9,844.3 1083.9,844.4 1084.9,844.5 1085.8,844.7 1086.8,844.8 1087.8,844.8 1088.8,844.9 1089.7,844.9 1090.7,845.0 1091.7,844.9 1092.7,845.1 1093.6,845.5 1094.6,845.7 1095.6,845.9 1096.5,845.9 1097.5,846.1 1098.5,846.3 1099.5,846.3 1100.4,846.2 1101.4,846.2 1102.4,846.4 1103.4,846.4 1104.3,846.3 1105.3,846.1 1106.3,846.1 1107.3,846.2 1108.2,846.1 1109.2,845.5 1110.2,845.6 1111.1,845.5 1112.1,845.6 1113.1,845.6 1114.1,845.8 1115.0,846.2 1116.0,846.5 1117.0,846.4 1118.0,846.5 1118.9,846.4 1119.9,846.4 1120.9,846.0 1121.9,845.8 1122.8,845.8 1123.8,846.0 1124.8,846.1 1125.7,846.3 1126.7,846.2 1127.7,846.4 1128.7,846.2 1129.6,846.3 1130.6,846.4 1131.6,846.5 1132.6,846.5 1133.5,846.5 1134.5,846.8 1135.5,846.9 1136.5,847.0 1137.4,846.9 1138.4,846.8 1139.4,846.9 1140.4,847.0 1141.3,846.9 1142.3,847.0 1143.3,846.9 1144.2,846.9 1145.2,847.1 1146.2,846.9 1147.2,847.0 1148.1,846.9 1149.1,846.6 1150.1,846.6 1151.1,846.6 1152.0,846.5 1153.0,846.7 1154.0,846.5 1155.0,846.6 1155.9,846.6 1156.9,846.5 1157.9,846.5 1158.8,846.3 1159.8,845.9 1160.8,846.1 1161.8,846.1 1162.7,846.4 1163.7,846.5 1164.7,846.8 1165.7,847.1 1166.6,847.2 1167.6,847.4 1168.6,847.5 1169.6,847.5 1170.5,847.7 1171.5,847.5 1172.5,847.6 1173.4,847.7 1174.4,847.4 1175.4,847.5 1176.4,847.6 1177.3,847.3 1178.3,847.2 1179.3,847.2 1180.3,847.2 1181.2,847.3 1182.2,847.3 1183.2,847.3 1184.2,847.2 1185.1,847.4 1186.1,847.4 1187.1,847.6 1188.0,847.7 1189.0,847.7 1190.0,847.7 1191.0,847.7 1191.9,847.7 1192.9,847.7 1193.9,847.7 1194.9,847.7 1195.8,847.7 1196.8,847.7 1197.8,847.7 1198.8,847.7 1199.7,847.7 1200.7,847.7 1201.7,847.7 1202.6,847.7 1203.6,847.7 1204.6,847.7 1205.6,847.7 1206.5,847.7 1207.5,847.7 1208.5,847.6 1209.5,847.4 1210.4,847.3 1211.4,847.4 1212.4,847.5 1213.4,847.6 1214.3,847.7 1215.3,847.7 1216.3,847.7 1217.2,847.7 1218.2,847.7 1219.2,847.7 1220.2,847.7 1221.1,847.7 1222.1,847.7 1223.1,847.6 1224.1,847.4 1225.0,847.3 1226.0,847.3 1227.0,847.3 1228.0,847.3" fill="none" stroke="#000000" stroke-width="1.9" stroke-linejoin="round" />
<polyline points="893.1,847.7 894.1,847.7 895.1,847.7 896.0,847.7 897.0,847.7 898.0,847.7 899.0,847.7 899.9,847.7 900.9,847.7 901.9,847.7 902.9,847.7 903.8,847.7 904.8,847.7 905.8,847.7 906.7,847.7 907.7,847.7 908.7,847.7 909.7,847.7 910.6,847.7 911.6,847.7 912.6,847.7 913.6,847.7 914.5,847.7 915.5,847.7 916.5,847.7 917.5,847.7 918.4,847.7 919.4,847.7 920.4,847.7 921.3,847.7 922.3,847.7 923.3,847.7 924.3,847.7 925.2,847.7 926.2,847.7 927.2,847.7 928.2,847.7 929.1,847.7 930.1,847.7 931.1,847.7 932.1,847.6 933.0,847.6 934.0,847.6 935.0,847.6 935.9,847.6 936.9,847.6 937.9,847.6 938.9,847.6 939.8,847.5 940.8,847.5 941.8,847.5 942.8,847.5 943.7,847.4 944.7,847.4 945.7,847.3 946.7,847.3 947.6,847.2 948.6,847.1 949.6,847.0 950.5,846.9 951.5,846.8 952.5,846.7 953.5,846.5 954.4,846.3 955.4,846.1 956.4,845.9 957.4,845.6 958.3,845.2 959.3,844.9 960.3,844.4 961.3,843.9 962.2,843.3 963.2,842.7 964.2,841.9 965.1,841.0 966.1,840.0 967.1,838.8 968.1,837.4 969.0,835.9 970.0,834.1 971.0,832.0 972.0,829.5 972.9,826.7 973.9,823.5 974.9,819.8 975.9,815.5 976.8,810.6 977.8,804.9 978.8,798.3 979.7,790.8 980.7,782.0 981.7,771.9 982.7,760.3 983.6,746.9 984.6,731.4 985.4,717.3 985.6,713.5 986.6,692.9 987.5,669.1 988.5,641.7 988.9,655.9 989.5,675.4 990.5,703.6 991.4,727.1 991.6,731.4 992.4,746.9 993.4,763.3 994.3,777.1 994.7,782.0 995.3,788.7 996.3,798.3 997.3,806.4 998.2,813.2 999.2,818.8 1000.2,823.5 1001.2,827.5 1002.1,830.8 1003.1,831.6 1004.1,831.7 1005.1,831.9 1006.0,832.4 1007.0,833.0 1008.0,833.1 1008.9,833.8 1009.9,834.1 1010.9,834.5 1011.9,834.4 1012.8,834.7 1013.8,834.9 1014.8,835.4 1015.8,835.4 1016.7,835.8 1017.7,836.0 1018.7,836.2 1019.7,836.4 1020.6,836.7 1021.6,836.7 1022.6,836.9 1023.5,837.2 1024.5,837.6 1025.5,838.1 1026.5,838.2 1027.4,838.2 1028.4,838.2 1029.4,838.3 1030.4,838.5 1031.3,838.5 1032.3,838.6 1033.3,838.9 1034.3,839.1 1035.2,839.5 1036.2,839.9 1037.2,840.0 1038.1,840.2 1039.1,840.4 1040.1,840.3 1041.1,840.5 1042.0,840.5 1043.0,840.6 1044.0,840.8 1045.0,841.0 1045.9,841.1 1046.9,841.3 1047.9,841.5 1048.9,841.8 1049.8,841.8 1050.8,841.9 1051.8,842.0 1052.7,842.3 1053.7,842.5 1054.7,842.3 1055.7,842.3 1056.6,842.4 1057.6,842.8 1058.6,842.8 1059.6,842.8 1060.5,843.0 1061.5,843.3 1062.5,843.4 1063.5,843.5 1064.4,843.2 1065.4,843.4 1066.4,843.5 1067.3,843.4 1068.3,843.4 1069.3,843.5 1070.3,843.7 1071.2,843.9 1072.2,843.7 1073.2,843.8 1074.2,843.7 1075.1,843.6 1076.1,843.6 1077.1,843.4 1078.1,843.6 1079.0,843.7 1080.0,843.7 1081.0,844.0 1081.9,844.3 1082.9,844.3 1083.9,844.6 1084.9,844.8 1085.8,845.0 1086.8,845.1 1087.8,844.8 1088.8,844.8 1089.7,844.9 1090.7,844.9 1091.7,844.6 1092.7,844.7 1093.6,844.7 1094.6,845.1 1095.6,845.3 1096.5,845.3 1097.5,845.3 1098.5,845.6 1099.5,845.4 1100.4,845.2 1101.4,845.2 1102.4,845.3 1103.4,845.2 1104.3,845.5 1105.3,845.3 1106.3,845.7 1107.3,846.0 1108.2,846.0 1109.2,846.1 1110.2,846.4 1111.1,846.2 1112.1,846.3 1113.1,846.1 1114.1,846.3 1115.0,846.2 1116.0,846.3 1117.0,846.2 1118.0,846.2 1118.9,846.4 1119.9,846.3 1120.9,846.2 1121.9,846.5 1122.8,846.4 1123.8,846.6 1124.8,846.5 1125.7,846.6 1126.7,846.7 1127.7,846.8 1128.7,846.8 1129.6,847.0 1130.6,846.9 1131.6,847.2 1132.6,847.2 1133.5,847.4 1134.5,847.2 1135.5,847.3 1136.5,847.3 1137.4,847.3 1138.4,847.2 1139.4,847.2 1140.4,846.7 1141.3,846.7 1142.3,846.6 1143.3,846.4 1144.2,846.6 1145.2,846.6 1146.2,846.6 1147.2,846.8 1148.1,847.1 1149.1,847.0 1150.1,847.1 1151.1,847.0 1152.0,847.1 1153.0,847.3 1154.0,847.4 1155.0,847.5 1155.9,847.5 1156.9,847.3 1157.9,847.4 1158.8,847.4 1159.8,847.2 1160.8,847.2 1161.8,847.3 1162.7,847.4 1163.7,847.7 1164.7,847.7 1165.7,847.4 1166.6,847.4 1167.6,847.2 1168.6,847.2 1169.6,847.0 1170.5,846.9 1171.5,846.7 1172.5,846.9 1173.4,847.0 1174.4,847.2 1175.4,847.2 1176.4,847.4 1177.3,847.5 1178.3,847.6 1179.3,847.7 1180.3,847.7 1181.2,847.4 1182.2,847.3 1183.2,847.3 1184.2,847.5 1185.1,847.3 1186.1,847.3 1187.1,847.3 1188.0,847.5 1189.0,847.3 1190.0,847.2 1191.0,846.9 1191.9,847.2 1192.9,847.0 1193.9,847.2 1194.9,847.2 1195.8,847.4 1196.8,847.4 1197.8,847.4 1198.8,847.4 1199.7,847.7 1200.7,847.4 1201.7,847.5 1202.6,847.5 1203.6,847.6 1204.6,847.7 1205.6,847.7 1206.5,847.7 1207.5,847.7 1208.5,847.6 1209.5,847.6 1210.4,847.4 1211.4,847.2 1212.4,847.4 1213.4,847.2 1214.3,847.1 1215.3,847.4 1216.3,847.6 1217.2,847.7 1218.2,847.7 1219.2,847.7 1220.2,847.7 1221.1,847.7 1222.1,847.7 1223.1,847.7 1224.1,847.7 1225.0,847.5 1226.0,847.6 1227.0,847.2 1228.0,847.1" fill="none" stroke="#FF0000" stroke-width="1.9" stroke-linejoin="round" />
<polyline points="893.1,847.7 894.1,847.7 895.1,847.7 896.0,847.7 897.0,847.7 898.0,847.7 899.0,847.7 899.9,847.7 900.9,847.7 901.9,847.7 902.9,847.7 903.8,847.7 904.8,847.7 905.8,847.7 906.7,847.7 907.7,847.7 908.7,847.7 909.7,847.7 910.6,847.7 911.6,847.7 912.6,847.7 913.6,847.7 914.5,847.7 915.5,847.7 916.5,847.7 917.5,847.7 918.4,847.7 919.4,847.7 920.4,847.7 921.3,847.7 922.3,847.7 923.3,847.7 924.3,847.7 925.2,847.6 926.2,847.6 927.2,847.6 928.2,847.6 929.1,847.6 930.1,847.6 931.1,847.6 932.1,847.6 933.0,847.6 934.0,847.5 935.0,847.5 935.9,847.5 936.9,847.5 937.9,847.5 938.9,847.4 939.8,847.4 940.8,847.3 941.8,847.3 942.8,847.3 943.7,847.2 944.7,847.1 945.7,847.1 946.7,847.0 947.6,846.9 948.6,846.8 949.6,846.7 950.5,846.5 951.5,846.4 952.5,846.2 953.5,846.0 954.4,845.8 955.4,845.6 956.4,845.3 957.4,845.0 958.3,844.7 959.3,844.3 960.3,843.9 961.3,843.4 962.2,842.9 963.2,842.2 964.2,841.6 965.1,840.8 966.1,839.9 967.1,838.9 968.1,837.8 969.0,836.6 970.0,835.2 971.0,833.6 972.0,831.8 972.9,829.8 973.9,827.5 974.9,824.9 975.9,822.1 976.8,818.8 977.8,815.2 978.8,811.1 979.7,806.4 980.7,801.2 981.7,795.3 982.7,788.7 983.6,781.3 984.6,772.9 985.4,765.4 985.6,763.4 986.6,752.8 987.5,740.8 988.5,727.2 988.9,721.4 989.5,712.0 990.5,715.0 991.4,718.0 991.6,718.6 992.4,722.7 993.4,786.5 994.3,817.7 994.7,825.2 995.3,826.6 996.3,827.0 997.3,827.5 998.2,827.9 999.2,828.3 1000.2,828.7 1001.2,829.1 1002.1,829.5 1003.1,829.5 1004.1,830.0 1005.1,830.7 1006.0,830.9 1007.0,831.5 1008.0,831.9 1008.9,831.7 1009.9,832.0 1010.9,832.3 1011.9,832.7 1012.8,832.9 1013.8,832.9 1014.8,833.4 1015.8,833.9 1016.7,834.4 1017.7,834.8 1018.7,835.1 1019.7,835.5 1020.6,835.9 1021.6,836.3 1022.6,836.4 1023.5,836.5 1024.5,836.6 1025.5,836.5 1026.5,836.6 1027.4,836.7 1028.4,836.6 1029.4,836.9 1030.4,837.0 1031.3,837.5 1032.3,838.0 1033.3,838.5 1034.3,838.7 1035.2,839.0 1036.2,839.3 1037.2,839.7 1038.1,839.7 1039.1,839.6 1040.1,839.8 1041.1,839.9 1042.0,840.1 1043.0,839.9 1044.0,839.9 1045.0,840.1 1045.9,840.3 1046.9,840.2 1047.9,840.6 1048.9,840.7 1049.8,841.2 1050.8,841.1 1051.8,841.3 1052.7,841.5 1053.7,841.5 1054.7,841.3 1055.7,841.6 1056.6,841.4 1057.6,841.8 1058.6,841.9 1059.6,841.9 1060.5,842.3 1061.5,842.4 1062.5,842.4 1063.5,842.8 1064.4,843.0 1065.4,842.8 1066.4,843.0 1067.3,843.1 1068.3,843.1 1069.3,843.4 1070.3,843.1 1071.2,843.4 1072.2,843.7 1073.2,843.9 1074.2,843.9 1075.1,844.0 1076.1,843.9 1077.1,844.2 1078.1,844.1 1079.0,844.4 1080.0,844.2 1081.0,844.3 1081.9,844.6 1082.9,844.7 1083.9,844.6 1084.9,844.4 1085.8,844.5 1086.8,844.8 1087.8,844.6 1088.8,844.4 1089.7,844.7 1090.7,844.7 1091.7,844.9 1092.7,844.7 1093.6,844.5 1094.6,844.6 1095.6,844.8 1096.5,844.9 1097.5,845.4 1098.5,845.4 1099.5,845.7 1100.4,846.1 1101.4,846.1 1102.4,846.1 1103.4,846.1 1104.3,845.8 1105.3,845.9 1106.3,845.8 1107.3,845.7 1108.2,845.7 1109.2,845.9 1110.2,845.9 1111.1,846.0 1112.1,845.8 1113.1,845.9 1114.1,845.8 1115.0,845.8 1116.0,845.9 1117.0,846.1 1118.0,846.2 1118.9,846.3 1119.9,846.4 1120.9,846.3 1121.9,846.3 1122.8,846.4 1123.8,846.2 1124.8,846.0 1125.7,846.0 1126.7,846.0 1127.7,846.3 1128.7,846.4 1129.6,846.2 1130.6,846.1 1131.6,846.1 1132.6,846.4 1133.5,846.2 1134.5,846.1 1135.5,846.1 1136.5,846.1 1137.4,846.0 1138.4,846.4 1139.4,846.3 1140.4,846.5 1141.3,846.6 1142.3,846.7 1143.3,846.5 1144.2,846.4 1145.2,846.5 1146.2,846.9 1147.2,846.6 1148.1,846.6 1149.1,846.7 1150.1,847.0 1151.1,847.1 1152.0,847.0 1153.0,846.5 1154.0,846.6 1155.0,846.9 1155.9,847.0 1156.9,847.0 1157.9,847.0 1158.8,847.1 1159.8,847.5 1160.8,847.6 1161.8,847.4 1162.7,847.2 1163.7,847.4 1164.7,847.3 1165.7,847.1 1166.6,847.1 1167.6,847.0 1168.6,847.3 1169.6,847.3 1170.5,847.1 1171.5,847.1 1172.5,847.2 1173.4,847.0 1174.4,846.9 1175.4,846.7 1176.4,846.8 1177.3,846.8 1178.3,846.8 1179.3,846.9 1180.3,847.2 1181.2,847.3 1182.2,847.3 1183.2,847.3 1184.2,847.5 1185.1,847.4 1186.1,847.7 1187.1,847.6 1188.0,847.7 1189.0,847.7 1190.0,847.7 1191.0,847.7 1191.9,847.7 1192.9,847.7 1193.9,847.7 1194.9,847.7 1195.8,847.5 1196.8,847.4 1197.8,847.2 1198.8,847.4 1199.7,847.5 1200.7,847.5 1201.7,847.5 1202.6,847.6 1203.6,847.6 1204.6,847.7 1205.6,847.5 1206.5,847.5 1207.5,847.6 1208.5,847.4 1209.5,847.1 1210.4,847.2 1211.4,847.3 1212.4,847.4 1213.4,847.2 1214.3,847.3 1215.3,847.2 1216.3,847.4 1217.2,847.5 1218.2,847.3 1219.2,847.2 1220.2,847.3 1221.1,847.2 1222.1,847.4 1223.1,847.4 1224.1,847.3 1225.0,847.3 1226.0,847.4 1227.0,847.4 1228.0,847.5" fill="none" stroke="#0000FF" stroke-width="1.9" stroke-linejoin="round" />
<polyline points="893.1,847.7 894.1,847.7 895.1,847.7 896.0,847.7 897.0,847.7 898.0,847.7 899.0,847.7 899.9,847.7 900.9,847.7 901.9,847.7 902.9,847.7 903.8,847.7 904.8,847.7 905.8,847.7 906.7,847.7 907.7,847.7 908.7,847.7 909.7,847.7 910.6,847.7 911.6,847.7 912.6,847.7 913.6,847.7 914.5,847.7 915.5,847.7 916.5,847.7 917.5,847.7 918.4,847.7 919.4,847.6 920.4,847.6 921.3,847.6 922.3,847.6 923.3,847.6 924.3,847.6 925.2,847.6 926.2,847.6 927.2,847.6 928.2,847.6 929.1,847.5 930.1,847.5 931.1,847.5 932.1,847.5 933.0,847.5 934.0,847.4 935.0,847.4 935.9,847.4 936.9,847.3 937.9,847.3 938.9,847.2 939.8,847.2 940.8,847.1 941.8,847.0 942.8,847.0 943.7,846.9 944.7,846.8 945.7,846.7 946.7,846.5 947.6,846.4 948.6,846.2 949.6,846.1 950.5,845.9 951.5,845.7 952.5,845.4 953.5,845.2 954.4,844.9 955.4,844.5 956.4,844.2 957.4,843.8 958.3,843.3 959.3,842.8 960.3,842.2 961.3,841.6 962.2,840.8 963.2,840.0 964.2,839.1 965.1,838.1 966.1,837.0 967.1,835.7 968.1,834.3 969.0,832.7 970.0,831.0 971.0,829.0 972.0,826.8 972.9,824.4 973.9,821.6 974.9,818.6 975.9,815.2 976.8,811.3 977.8,807.1 978.8,802.3 979.7,796.9 980.7,791.0 981.7,784.3 982.7,776.9 983.6,768.5 984.6,759.2 985.4,751.0 985.6,751.0 986.6,751.0 987.5,751.0 988.5,751.0 988.9,751.0 989.5,751.0 990.5,751.0 991.4,751.0 991.6,751.0 992.4,751.0 993.4,751.0 994.3,751.0 994.7,751.0 995.3,761.9 996.3,777.5 997.3,790.2 998.2,800.6 999.2,809.2 1000.2,816.1 1001.2,821.9 1002.1,826.6 1003.1,828.1 1004.1,828.3 1005.1,828.4 1006.0,828.7 1007.0,828.8 1008.0,828.9 1008.9,829.5 1009.9,829.9 1010.9,830.3 1011.9,830.7 1012.8,831.1 1013.8,831.5 1014.8,831.7 1015.8,831.9 1016.7,832.0 1017.7,832.4 1018.7,832.9 1019.7,833.2 1020.6,833.2 1021.6,833.6 1022.6,833.8 1023.5,833.8 1024.5,834.0 1025.5,834.1 1026.5,834.3 1027.4,834.9 1028.4,835.0 1029.4,835.3 1030.4,835.7 1031.3,835.8 1032.3,836.0 1033.3,836.2 1034.3,836.1 1035.2,836.2 1036.2,836.4 1037.2,836.6 1038.1,836.7 1039.1,836.9 1040.1,837.0 1041.1,837.3 1042.0,837.2 1043.0,837.3 1044.0,837.6 1045.0,838.1 1045.9,838.3 1046.9,838.4 1047.9,838.7 1048.9,839.1 1049.8,839.4 1050.8,839.9 1051.8,840.0 1052.7,840.3 1053.7,840.4 1054.7,840.5 1055.7,840.8 1056.6,840.7 1057.6,840.6 1058.6,840.7 1059.6,840.5 1060.5,840.8 1061.5,840.9 1062.5,841.0 1063.5,841.2 1064.4,841.2 1065.4,841.4 1066.4,841.7 1067.3,841.9 1068.3,841.9 1069.3,842.0 1070.3,842.0 1071.2,842.3 1072.2,842.2 1073.2,842.0 1074.2,842.1 1075.1,842.0 1076.1,842.4 1077.1,842.4 1078.1,842.6 1079.0,842.7 1080.0,843.0 1081.0,842.8 1081.9,843.0 1082.9,842.8 1083.9,843.0 1084.9,843.1 1085.8,843.6 1086.8,843.5 1087.8,843.9 1088.8,843.9 1089.7,844.0 1090.7,844.4 1091.7,844.2 1092.7,844.0 1093.6,843.9 1094.6,843.8 1095.6,843.8 1096.5,844.4 1097.5,844.2 1098.5,844.8 1099.5,845.1 1100.4,845.3 1101.4,845.5 1102.4,845.8 1103.4,845.4 1104.3,845.4 1105.3,845.3 1106.3,845.0 1107.3,845.0 1108.2,845.0 1109.2,844.9 1110.2,844.8 1111.1,844.8 1112.1,844.8 1113.1,845.0 1114.1,845.2 1115.0,845.3 1116.0,845.2 1117.0,845.2 1118.0,845.2 1118.9,845.3 1119.9,845.1 1120.9,845.1 1121.9,845.1 1122.8,845.0 1123.8,845.3 1124.8,845.4 1125.7,845.2 1126.7,845.4 1127.7,845.4 1128.7,845.9 1129.6,845.7 1130.6,845.7 1131.6,845.8 1132.6,846.0 1133.5,846.1 1134.5,845.8 1135.5,845.7 1136.5,845.8 1137.4,845.9 1138.4,845.7 1139.4,845.5 1140.4,845.5 1141.3,846.0 1142.3,845.9 1143.3,846.0 1144.2,846.1 1145.2,846.3 1146.2,846.5 1147.2,846.6 1148.1,846.6 1149.1,846.4 1150.1,846.5 1151.1,846.5 1152.0,846.5 1153.0,846.4 1154.0,846.7 1155.0,846.5 1155.9,846.7 1156.9,846.8 1157.9,847.0 1158.8,846.7 1159.8,847.1 1160.8,846.8 1161.8,846.8 1162.7,846.7 1163.7,847.0 1164.7,846.9 1165.7,847.0 1166.6,846.7 1167.6,847.0 1168.6,846.9 1169.6,846.9 1170.5,846.6 1171.5,846.8 1172.5,847.0 1173.4,847.2 1174.4,847.0 1175.4,847.1 1176.4,847.2 1177.3,847.4 1178.3,846.9 1179.3,847.0 1180.3,846.9 1181.2,847.0 1182.2,847.1 1183.2,847.0 1184.2,846.9 1185.1,847.0 1186.1,846.9 1187.1,846.8 1188.0,846.7 1189.0,846.7 1190.0,846.5 1191.0,846.6 1191.9,846.6 1192.9,846.6 1193.9,846.7 1194.9,847.2 1195.8,847.4 1196.8,847.4 1197.8,847.5 1198.8,847.6 1199.7,847.7 1200.7,847.5 1201.7,847.3 1202.6,847.3 1203.6,847.6 1204.6,847.4 1205.6,847.3 1206.5,847.2 1207.5,847.4 1208.5,847.6 1209.5,847.3 1210.4,847.3 1211.4,847.3 1212.4,847.3 1213.4,847.4 1214.3,847.4 1215.3,847.0 1216.3,847.0 1217.2,847.1 1218.2,847.2 1219.2,847.4 1220.2,847.3 1221.1,847.2 1222.1,847.4 1223.1,847.5 1224.1,847.2 1225.0,847.2 1226.0,847.2 1227.0,847.2 1228.0,847.4" fill="none" stroke="#008000" stroke-width="1.9" stroke-linejoin="round" />
<polyline points="893.1,847.7 894.1,847.7 895.1,847.7 896.0,847.7 897.0,847.7 898.0,847.7 899.0,847.7 899.9,847.7 900.9,847.7 901.9,847.7 902.9,847.7 903.8,847.7 904.8,847.7 905.8,847.7 906.7,847.7 907.7,847.7 908.7,847.7 909.7,847.7 910.6,847.7 911.6,847.7 912.6,847.7 913.6,847.7 914.5,847.7 915.5,847.7 916.5,847.7 917.5,847.7 918.4,847.7 919.4,847.7 920.4,847.7 921.3,847.7 922.3,847.7 923.3,847.7 924.3,847.7 925.2,847.7 926.2,847.7 927.2,847.7 928.2,847.7 929.1,847.7 930.1,847.7 931.1,847.7 932.1,847.7 933.0,847.7 934.0,847.7 935.0,847.7 935.9,847.7 936.9,847.7 937.9,847.7 938.9,847.7 939.8,847.7 940.8,847.7 941.8,847.7 942.8,847.7 943.7,847.6 944.7,847.6 945.7,847.6 946.7,847.6 947.6,847.5 948.6,847.5 949.6,847.4 950.5,847.3 951.5,847.2 952.5,847.1 953.5,846.9 954.4,846.7 955.4,846.5 956.4,846.2 957.4,845.8 958.3,845.4 959.3,844.9 960.3,844.3 961.3,843.5 962.2,842.7 963.2,841.8 964.2,840.7 965.1,839.4 966.1,838.0 967.1,836.4 968.1,834.6 969.0,832.6 970.0,830.5 971.0,828.1 972.0,825.6 972.9,822.8 973.9,819.9 974.9,816.9 975.9,813.7 976.8,810.3 977.8,806.9 978.8,803.5 979.7,800.1 980.7,796.6 981.7,793.3 982.7,790.1 983.6,787.0 984.6,784.2 985.4,782.1 985.6,781.7 986.6,779.4 987.5,777.5 988.5,775.9 988.9,775.4 989.5,774.8 990.5,774.0 991.4,773.7 991.6,773.7 992.4,774.6 993.4,778.0 994.3,783.7 994.7,786.5 995.3,791.0 996.3,799.4 997.3,808.0 998.2,816.2 999.2,823.7 1000.2,829.4 1001.2,829.8 1002.1,830.2 1003.1,830.5 1004.1,830.5 1005.1,830.8 1006.0,831.4 1007.0,831.8 1008.0,832.2 1008.9,832.4 1009.9,832.4 1010.9,833.0 1011.9,833.5 1012.8,834.2 1013.8,834.3 1014.8,834.7 1015.8,834.9 1016.7,835.2 1017.7,835.3 1018.7,835.3 1019.7,835.1 1020.6,835.3 1021.6,835.4 1022.6,835.7 1023.5,836.1 1024.5,836.4 1025.5,836.6 1026.5,837.2 1027.4,837.5 1028.4,837.7 1029.4,838.0 1030.4,838.1 1031.3,838.4 1032.3,838.5 1033.3,838.6 1034.3,838.9 1035.2,839.3 1036.2,839.4 1037.2,839.3 1038.1,839.4 1039.1,839.7 1040.1,839.8 1041.1,839.7 1042.0,839.7 1043.0,840.1 1044.0,840.4 1045.0,840.7 1045.9,840.9 1046.9,840.8 1047.9,841.0 1048.9,841.1 1049.8,840.9 1050.8,840.9 1051.8,840.7 1052.7,840.8 1053.7,841.0 1054.7,841.1 1055.7,841.2 1056.6,841.4 1057.6,841.7 1058.6,841.8 1059.6,841.7 1060.5,841.9 1061.5,842.0 1062.5,842.1 1063.5,842.2 1064.4,842.4 1065.4,842.9 1066.4,843.1 1067.3,843.2 1068.3,843.6 1069.3,843.8 1070.3,844.1 1071.2,843.8 1072.2,843.8 1073.2,844.0 1074.2,843.8 1075.1,843.7 1076.1,843.9 1077.1,843.9 1078.1,844.5 1079.0,844.4 1080.0,844.3 1081.0,844.6 1081.9,844.5 1082.9,844.5 1083.9,844.4 1084.9,844.3 1085.8,844.5 1086.8,844.7 1087.8,845.1 1088.8,845.4 1089.7,845.3 1090.7,845.3 1091.7,845.2 1092.7,845.0 1093.6,845.1 1094.6,844.7 1095.6,844.4 1096.5,844.5 1097.5,844.8 1098.5,844.9 1099.5,845.1 1100.4,845.2 1101.4,845.4 1102.4,845.6 1103.4,845.8 1104.3,845.7 1105.3,845.8 1106.3,845.8 1107.3,845.8 1108.2,845.9 1109.2,845.8 1110.2,845.9 1111.1,845.9 1112.1,846.0 1113.1,846.2 1114.1,846.0 1115.0,845.8 1116.0,845.9 1117.0,845.8 1118.0,845.8 1118.9,845.8 1119.9,845.6 1120.9,845.8 1121.9,845.9 1122.8,845.8 1123.8,845.8 1124.8,845.8 1125.7,845.4 1126.7,845.6 1127.7,845.6 1128.7,845.7 1129.6,845.9 1130.6,846.1 1131.6,846.4 1132.6,846.9 1133.5,847.2 1134.5,847.3 1135.5,847.1 1136.5,847.3 1137.4,847.3 1138.4,847.1 1139.4,847.0 1140.4,846.6 1141.3,846.7 1142.3,846.8 1143.3,846.6 1144.2,846.5 1145.2,846.6 1146.2,846.6 1147.2,846.9 1148.1,847.0 1149.1,846.8 1150.1,846.9 1151.1,847.0 1152.0,847.0 1153.0,847.2 1154.0,846.9 1155.0,846.8 1155.9,847.1 1156.9,847.3 1157.9,847.5 1158.8,847.2 1159.8,847.0 1160.8,847.2 1161.8,847.3 1162.7,847.0 1163.7,847.0 1164.7,847.0 1165.7,847.1 1166.6,846.9 1167.6,847.0 1168.6,847.0 1169.6,847.0 1170.5,846.8 1171.5,846.7 1172.5,846.8 1173.4,847.1 1174.4,847.2 1175.4,847.1 1176.4,847.3 1177.3,847.3 1178.3,847.4 1179.3,847.3 1180.3,847.4 1181.2,847.1 1182.2,847.4 1183.2,847.3 1184.2,847.5 1185.1,847.4 1186.1,847.6 1187.1,847.6 1188.0,847.7 1189.0,847.7 1190.0,847.7 1191.0,847.6 1191.9,847.4 1192.9,847.2 1193.9,847.0 1194.9,847.0 1195.8,847.0 1196.8,846.8 1197.8,847.0 1198.8,847.2 1199.7,847.5 1200.7,847.4 1201.7,847.4 1202.6,847.4 1203.6,847.4 1204.6,847.3 1205.6,847.1 1206.5,846.9 1207.5,847.0 1208.5,847.2 1209.5,847.4 1210.4,847.7 1211.4,847.5 1212.4,847.7 1213.4,847.6 1214.3,847.6 1215.3,847.4 1216.3,847.1 1217.2,847.2 1218.2,847.3 1219.2,847.1 1220.2,847.2 1221.1,847.1 1222.1,847.5 1223.1,847.4 1224.1,847.1 1225.0,847.2 1226.0,847.1 1227.0,847.2 1228.0,847.3" fill="none" stroke="#FF8000" stroke-width="1.9" stroke-linejoin="round" />
<path d="M895.4,542.3H1225.9" stroke="#000" stroke-width="1.4"/>
<path d="M1225.9,541.5999999999999V848.2" stroke="#000" stroke-width="1.4"/>
<path d="M895.4,541.5999999999999V849.0M894.6,848.2H1226.5" stroke="#000" stroke-width="1.6"/>
<path d="M934.00,848.2v-4.6M982.67,848.2v-2.6M1031.34,848.2v-4.6M1080.00,848.2v-2.6M1128.67,848.2v-4.6M1177.34,848.2v-2.6M895.4,592.80h2.6M895.4,643.70h4.6M895.4,694.80h2.6M895.4,745.20h4.6M895.4,797.20h2.6" stroke="#000" stroke-width="1.6"/>
<path d="M1071.2,620.1H1108.0" stroke="#000000" stroke-width="3.2"/>
<path d="M1071.2,639.9H1108.0" stroke="#FF0000" stroke-width="3.2"/>
<path d="M1071.2,664.2H1108.0" stroke="#0000FF" stroke-width="3.2"/>
<path d="M1071.2,688.4H1108.0" stroke="#008000" stroke-width="3.2"/>
<path d="M1071.2,711.8H1108.0" stroke="#FF8000" stroke-width="3.2"/>
<text x="1112.62" y="625.80" font-size="17.2" fill="#111" stroke="#111" stroke-width="0.3" textLength="76.55" lengthAdjust="spacingAndGlyphs" >0.4 ML FA</text>
<text x="1112.21" y="645.60" font-size="17.2" fill="#111" stroke="#111" stroke-width="0.3" textLength="11.61" lengthAdjust="spacingAndGlyphs" >H</text>
<text x="1123.46" y="651.20" font-size="12.8" fill="#111" stroke="#111" stroke-width="0.3" textLength="8.22" lengthAdjust="spacingAndGlyphs" >2</text>
<text x="1130.58" y="645.60" font-size="17.2" fill="#111" stroke="#111" stroke-width="0.3" textLength="83.58" lengthAdjust="spacingAndGlyphs" >O/FA=0.3/1</text>
<text x="1112.21" y="670.20" font-size="17.2" fill="#111" stroke="#111" stroke-width="0.3" textLength="11.61" lengthAdjust="spacingAndGlyphs" >H</text>
<text x="1123.46" y="675.80" font-size="12.8" fill="#111" stroke="#111" stroke-width="0.3" textLength="8.22" lengthAdjust="spacingAndGlyphs" >2</text>
<text x="1130.58" y="670.20" font-size="17.2" fill="#111" stroke="#111" stroke-width="0.3" textLength="83.58" lengthAdjust="spacingAndGlyphs" >O/FA=0.5/1</text>
<text x="1112.21" y="694.30" font-size="17.2" fill="#111" stroke="#111" stroke-width="0.3" textLength="11.61" lengthAdjust="spacingAndGlyphs" >H</text>
<text x="1123.46" y="699.90" font-size="12.8" fill="#111" stroke="#111" stroke-width="0.3" textLength="8.22" lengthAdjust="spacingAndGlyphs" >2</text>
<text x="1130.58" y="694.30" font-size="17.2" fill="#111" stroke="#111" stroke-width="0.3" textLength="83.58" lengthAdjust="spacingAndGlyphs" >O/FA=1.1/1</text>
<text x="1112.21" y="718.30" font-size="17.2" fill="#111" stroke="#111" stroke-width="0.3" textLength="11.61" lengthAdjust="spacingAndGlyphs" >H</text>
<text x="1123.46" y="723.90" font-size="12.8" fill="#111" stroke="#111" stroke-width="0.3" textLength="8.22" lengthAdjust="spacingAndGlyphs" >2</text>
<text x="1130.58" y="718.30" font-size="17.2" fill="#111" stroke="#111" stroke-width="0.3" textLength="83.58" lengthAdjust="spacingAndGlyphs" >O/FA=1.6/1</text>
<text x="916.57" y="868.70" font-size="20.6" fill="#111" stroke="#111" stroke-width="0.3" textLength="34.01" lengthAdjust="spacingAndGlyphs" >150</text>
<text x="1014.54" y="868.70" font-size="20.6" fill="#111" stroke="#111" stroke-width="0.3" textLength="33.37" lengthAdjust="spacingAndGlyphs" >200</text>
<text x="1111.87" y="868.70" font-size="20.6" fill="#111" stroke="#111" stroke-width="0.3" textLength="33.37" lengthAdjust="spacingAndGlyphs" >250</text>
<text x="1209.41" y="868.70" font-size="20.6" fill="#111" stroke="#111" stroke-width="0.3" textLength="33.16" lengthAdjust="spacingAndGlyphs" >300</text>
<text x="878.86" y="854.00" font-size="20.6" fill="#111" stroke="#111" stroke-width="0.3" textLength="11.70" lengthAdjust="spacingAndGlyphs" >0</text>
<text transform="translate(870.60,782.69) rotate(-90)" x="0" y="0" font-size="21.6" fill="#111" stroke="#111" stroke-width="0.3" textLength="176.77" lengthAdjust="spacingAndGlyphs" >TPD signal / arb.unit</text>
<text x="1031.83" y="888.80" font-size="21.6" fill="#111" stroke="#111" stroke-width="0.3" textLength="12.01" lengthAdjust="spacingAndGlyphs" font-style="italic" >T</text>
<text x="1047.24" y="888.80" font-size="21.6" fill="#111" stroke="#111" stroke-width="0.3" textLength="28.09" lengthAdjust="spacingAndGlyphs" >(K)</text>
<text x="1144.32" y="567.20" font-size="21.6" fill="#111" stroke="#111" stroke-width="0.3" textLength="34.16" lengthAdjust="spacingAndGlyphs" >m/z</text>
<text x="1182.74" y="567.20" font-size="21.6" fill="#111" stroke="#111" stroke-width="0.3" textLength="12.41" lengthAdjust="spacingAndGlyphs" >=</text>
<text x="1199.79" y="567.20" font-size="21.6" fill="#111" stroke="#111" stroke-width="0.3" textLength="22.67" lengthAdjust="spacingAndGlyphs" >46</text>
<text x="915.56" y="580.70" font-size="21.6" fill="#111" stroke="#111" stroke-width="0.3" textLength="76.22" lengthAdjust="spacingAndGlyphs" >HCOOH</text>
<path d="M957.00,587.90L979.59,596.53" stroke="#000" stroke-width="1.6"/>
<path d="M986.60,599.20L976.44,599.18L979.01,592.45Z" fill="#000"/>
<path d="M10.0,501.2A24.5 24.5 0 0 0 10.0,532.6M38.6,501.2A24.5 24.5 0 0 1 38.6,532.6" stroke="#111" stroke-width="1.9" fill="none"/>
<text x="13.99" y="527.00" font-size="34" fill="#111" stroke="#111" stroke-width="0.3" textLength="20.51" lengthAdjust="spacingAndGlyphs" >b</text>
</svg></body></html>
